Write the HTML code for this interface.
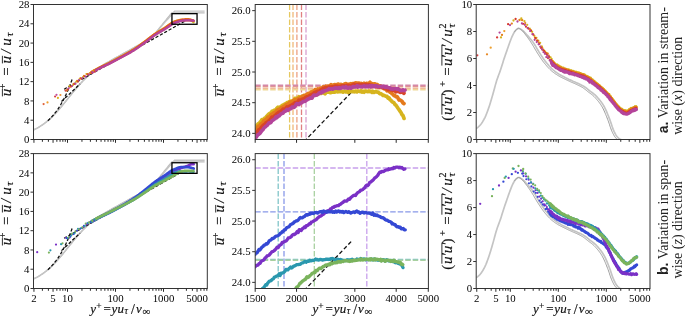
<!DOCTYPE html><html><head><meta charset="utf-8"><style>html,body{margin:0;padding:0;background:#fff;}svg{display:block;transform:translateZ(0)}</style></head><body><svg width="685" height="318" viewBox="0 0 685 318">
<defs>
<clipPath id="cp00"><rect x="33.5" y="4.5" width="173.8" height="135.0"/></clipPath>
<clipPath id="cp01"><rect x="255.2" y="4.5" width="173.2" height="135.0"/></clipPath>
<clipPath id="cp02"><rect x="476.2" y="4.5" width="173.8" height="135.0"/></clipPath>
<clipPath id="cp10"><rect x="33.5" y="153.6" width="173.8" height="134.9"/></clipPath>
<clipPath id="cp11"><rect x="255.2" y="153.6" width="173.2" height="134.9"/></clipPath>
<clipPath id="cp12"><rect x="476.2" y="153.6" width="173.8" height="134.9"/></clipPath>
</defs>
<rect width="685" height="318" fill="#fff"/>
<g opacity="0.999">
<g clip-path="url(#cp00)" fill="none">
<polyline points="32.88,130.21 33.31,130.01 33.74,129.81 34.17,129.61 34.6,129.4 35.03,129.19 35.46,128.98 35.89,128.76 36.32,128.53 36.75,128.3 37.19,128.07 37.62,127.83 38.05,127.59 38.48,127.34 38.91,127.09 39.34,126.84 39.77,126.57 40.2,126.31 40.63,126.04 41.06,125.76 41.49,125.48 41.92,125.19 42.35,124.9 42.78,124.6 43.21,124.3 43.64,123.99 44.07,123.68 44.5,123.36 44.93,123.04 45.36,122.71 45.8,122.37 46.23,122.03 46.66,121.68 47.09,121.33 47.52,120.97 47.95,120.61 48.38,120.24 48.81,119.87 49.24,119.49 49.67,119.1 50.1,118.71 50.53,118.31 50.96,117.91 51.39,117.5 51.82,117.09 52.25,116.67 52.68,116.24 53.11,115.81 53.54,115.38 53.97,114.94 54.41,114.49 54.84,114.04 55.27,113.59 55.7,113.13 56.13,112.66 56.56,112.19 56.99,111.72 57.42,111.24 57.85,110.75 58.28,110.27 58.71,109.77 59.14,109.28 59.57,108.78 60,108.28 60.43,107.77 60.86,107.26 61.29,106.75 61.72,106.23 62.15,105.71 62.59,105.19 63.02,104.66 63.45,104.14 63.88,103.61 64.31,103.08 64.74,102.55 65.17,102.01 65.6,101.48 66.03,100.94 66.46,100.41 66.89,99.87 67.32,99.33 67.75,98.79 68.18,98.25 68.61,97.71 69.04,97.18 69.47,96.64 69.9,96.1 70.33,95.56 70.76,95.03 71.2,94.5 71.63,93.96 72.06,93.43 72.49,92.9 72.92,92.37 73.35,91.85 73.78,91.33 74.21,90.81 74.64,90.29 75.07,89.77 75.5,89.26 75.93,88.75 76.36,88.24 76.79,87.74 77.22,87.24 77.65,86.74 78.08,86.25 78.51,85.76 78.94,85.27 79.37,84.79 79.81,84.31 80.24,83.84 80.67,83.37 81.1,82.9 81.53,82.44 81.96,81.98 82.39,81.52 82.82,81.08 83.25,80.63 83.68,80.19 84.11,79.76 84.54,79.32 84.97,78.9 85.4,78.48 85.83,78.06 86.26,77.65 86.69,77.24 87.12,76.84 87.55,76.44 87.98,76.04 88.42,75.66 88.85,75.27 89.28,74.89 89.71,74.52 90.14,74.15 90.57,73.79 91,73.43 91.43,73.07 91.86,72.72 92.29,72.37 92.72,72.03 93.15,71.7 93.58,71.36 94.01,71.04 94.44,70.71 94.87,70.39 95.3,70.08 95.73,69.77 96.16,69.46 96.6,69.16 97.03,68.86 97.46,68.56 97.89,68.27 98.32,67.98 98.75,67.69 99.18,67.41 99.61,67.13 100.04,66.85 100.47,66.58 100.9,66.31 101.33,66.04 101.76,65.77 102.19,65.51 102.62,65.25 103.05,64.99 103.48,64.73 103.91,64.47 104.34,64.22 104.77,63.97 105.21,63.72 105.64,63.47 106.07,63.22 106.5,62.97 106.93,62.72 107.36,62.48 107.79,62.24 108.22,61.99 108.65,61.75 109.08,61.51 109.51,61.27 109.94,61.03 110.37,60.79 110.8,60.55 111.23,60.31 111.66,60.07 112.09,59.83 112.52,59.59 112.95,59.35 113.38,59.11 113.82,58.87 114.25,58.64 114.68,58.4 115.11,58.16 115.54,57.92 115.97,57.69 116.4,57.45 116.83,57.21 117.26,56.97 117.69,56.73 118.12,56.5 118.55,56.26 118.98,56.02 119.41,55.78 119.84,55.54 120.27,55.3 120.7,55.07 121.13,54.83 121.56,54.59 121.99,54.35 122.43,54.11 122.86,53.87 123.29,53.63 123.72,53.4 124.15,53.16 124.58,52.92 125.01,52.68 125.44,52.44 125.87,52.2 126.3,51.96 126.73,51.72 127.16,51.48 127.59,51.24 128.02,51 128.45,50.76 128.88,50.52 129.31,50.28 129.74,50.04 130.17,49.8 130.6,49.56 131.04,49.32 131.47,49.08 131.9,48.84 132.33,48.6 132.76,48.36 133.19,48.12 133.62,47.88 134.05,47.64 134.48,47.4 134.91,47.16 135.34,46.92 135.77,46.68 136.2,46.44 136.63,46.2 137.06,45.96 137.49,45.72 137.92,45.48 138.35,45.24 138.78,44.99 139.22,44.75 139.65,44.51 140.08,44.27 140.51,44.03 140.94,43.79 141.37,43.55 141.8,43.31 142.23,43.07 142.66,42.82 143.09,42.58 143.52,42.34 143.95,42.1 144.38,41.86 144.81,41.62 145.24,41.38 145.67,41.13 146.1,40.89 146.53,40.65 146.96,40.41 147.39,40.17 147.83,39.93 148.26,39.69 148.69,39.44 149.12,39.2 149.55,38.96 149.98,38.72 150.41,38.48 150.84,38.24 151.27,37.99 151.7,37.56 152.13,37.03 152.56,36.5 152.99,35.97 153.42,35.44 153.85,34.91 154.28,34.38 154.71,33.85 155.14,33.32 155.57,32.79 156,32.26 156.44,31.73 156.87,31.2 157.3,30.67 157.73,30.14 158.16,29.61 158.59,29.08 159.02,28.55 159.45,28.02 159.88,27.49 160.31,26.96 160.74,26.43 161.17,25.9 161.6,25.37 162.03,24.84 162.46,24.31 162.89,23.78 163.32,23.25 163.75,22.72 164.18,22.19 164.61,21.66 165.05,21.13 165.48,20.6 165.91,20.07 166.34,19.54 166.77,19.01 167.2,18.48 167.63,17.95 168.06,17.42 168.49,16.89 168.92,16.36 169.35,15.83 169.78,15.29 170.21,14.76 170.64,14.23 171.07,13.7 171.5,13.17 171.93,12.79 172.36,12.79 172.79,12.79 173.23,12.79 173.66,12.79 174.09,12.79 174.52,12.79 174.95,12.79 175.38,12.79 175.81,12.79 176.24,12.79 176.67,12.79 177.1,12.79 177.53,12.79 177.96,12.79 178.39,12.79 178.82,12.79 179.25,12.79 179.68,12.79 180.11,12.79 180.54,12.79 180.97,12.79 181.4,12.79 181.84,12.79 182.27,12.79 182.7,12.79 183.13,12.79 183.56,12.79 183.99,12.79 184.42,12.79 184.85,12.79 185.28,12.79 185.71,12.79 186.14,12.79 186.57,12.79 187,12.79 187.43,12.79 187.86,12.79 188.29,12.79 188.72,12.79 189.15,12.79 189.58,12.79 190.01,12.79 190.45,12.79 190.88,12.79 191.31,12.79 191.74,12.79 192.17,12.79 192.6,12.79 193.03,12.79 193.46,12.79 193.89,12.79 194.32,12.79 194.75,12.79 195.18,12.79 195.61,12.79 196.04,12.79 196.47,12.79 196.9,12.79 197.33,12.79 197.76,12.79 198.19,12.79 198.62,12.79 199.06,12.79 199.49,12.79 199.92,12.79 200.35,12.79 200.78,12.79 201.21,12.79 201.64,12.79 202.07,12.79 202.5,12.79 202.93,12.79 203.36,12.79 203.79,12.79 204.22,12.79 204.65,12.79" stroke="#bcbcbc" stroke-width="1.3" stroke-linejoin="round"/>
<polyline points="32.88,130.21 33.31,130.01 33.74,129.81 34.17,129.61 34.6,129.4 35.03,129.19 35.46,128.98 35.89,128.76 36.32,128.53 36.75,128.3 37.19,128.07 37.62,127.83 38.05,127.59 38.48,127.34 38.91,127.09 39.34,126.84 39.77,126.57 40.2,126.31 40.63,126.04 41.06,125.76 41.49,125.48 41.92,125.19 42.35,124.9 42.78,124.6 43.21,124.3 43.64,123.99 44.07,123.68 44.5,123.36 44.93,123.04 45.36,122.71 45.8,122.37 46.23,122.03 46.66,121.68 47.09,121.33 47.52,120.97 47.95,120.61 48.38,120.24 48.81,119.87 49.24,119.49 49.67,119.1 50.1,118.71 50.53,118.31 50.96,117.91 51.39,117.5 51.82,117.09 52.25,116.67 52.68,116.24 53.11,115.81 53.54,115.38 53.97,114.94 54.41,114.49 54.84,114.04 55.27,113.59 55.7,113.13 56.13,112.66 56.56,112.19 56.99,111.72 57.42,111.24 57.85,110.75 58.28,110.27 58.71,109.77 59.14,109.28 59.57,108.78 60,108.28 60.43,107.77 60.86,107.26 61.29,106.75 61.72,106.23 62.15,105.71 62.59,105.19 63.02,104.66 63.45,104.14 63.88,103.61 64.31,103.08 64.74,102.55 65.17,102.01 65.6,101.48 66.03,100.94 66.46,100.41 66.89,99.87 67.32,99.33 67.75,98.79 68.18,98.25 68.61,97.71 69.04,97.18 69.47,96.64 69.9,96.1 70.33,95.56 70.76,95.03 71.2,94.5 71.63,93.96 72.06,93.43 72.49,92.9 72.92,92.37 73.35,91.85 73.78,91.33 74.21,90.81 74.64,90.29 75.07,89.77 75.5,89.26 75.93,88.75 76.36,88.24 76.79,87.74 77.22,87.24 77.65,86.74 78.08,86.25 78.51,85.76 78.94,85.27 79.37,84.79 79.81,84.31 80.24,83.84 80.67,83.37 81.1,82.9 81.53,82.44 81.96,81.98 82.39,81.52 82.82,81.08 83.25,80.63 83.68,80.19 84.11,79.76 84.54,79.32 84.97,78.9 85.4,78.48 85.83,78.06 86.26,77.65 86.69,77.24 87.12,76.84 87.55,76.44 87.98,76.04 88.42,75.66 88.85,75.27 89.28,74.89 89.71,74.52 90.14,74.15 90.57,73.79 91,73.43 91.43,73.07 91.86,72.72 92.29,72.37 92.72,72.03 93.15,71.7 93.58,71.36 94.01,71.04 94.44,70.71 94.87,70.39 95.3,70.08 95.73,69.77 96.16,69.46 96.6,69.16 97.03,68.86 97.46,68.56 97.89,68.27 98.32,67.98 98.75,67.69 99.18,67.41 99.61,67.13 100.04,66.85 100.47,66.58 100.9,66.31 101.33,66.04 101.76,65.77 102.19,65.51 102.62,65.25 103.05,64.99 103.48,64.73 103.91,64.47 104.34,64.22 104.77,63.97 105.21,63.72 105.64,63.47 106.07,63.22 106.5,62.97 106.93,62.72 107.36,62.48 107.79,62.24 108.22,61.99 108.65,61.75 109.08,61.51 109.51,61.27 109.94,61.03 110.37,60.79 110.8,60.55 111.23,60.31 111.66,60.07 112.09,59.83 112.52,59.59 112.95,59.35 113.38,59.11 113.82,58.87 114.25,58.64 114.68,58.4 115.11,58.16 115.54,57.92 115.97,57.69 116.4,57.45 116.83,57.21 117.26,56.97 117.69,56.73 118.12,56.5 118.55,56.26 118.98,56.02 119.41,55.78 119.84,55.54 120.27,55.3 120.7,55.07 121.13,54.83 121.56,54.59 121.99,54.35 122.43,54.11 122.86,53.87 123.29,53.63 123.72,53.4 124.15,53.16 124.58,52.92 125.01,52.68 125.44,52.44 125.87,52.2 126.3,51.96 126.73,51.72 127.16,51.48 127.59,51.24 128.02,51 128.45,50.76 128.88,50.52 129.31,50.28 129.74,50.04 130.17,49.8 130.6,49.56 131.04,49.32 131.47,49.08 131.9,48.84 132.33,48.6 132.76,48.36 133.19,48.12 133.62,47.88 134.05,47.64 134.48,47.4 134.91,47.16 135.34,46.92 135.77,46.68 136.2,46.44 136.63,46.2 137.06,45.96 137.49,45.72 137.92,45.48 138.35,45.24 138.78,44.99 139.22,44.75 139.65,44.51 140.08,44.27 140.51,44.03 140.94,43.79 141.37,43.55 141.8,43.31 142.23,43.07 142.66,42.82 143.09,42.58 143.52,42.34 143.95,42.1 144.38,41.86 144.81,41.62 145.24,41.38 145.67,41.13 146.1,40.89 146.53,40.65 146.96,40.41 147.39,40.17 147.83,39.93 148.26,39.69 148.69,39.44 149.12,39.2 149.55,38.96 149.98,38.72 150.41,38.48 150.84,38.24 151.27,37.99 151.7,37.58 152.13,37.08 152.56,36.59 152.99,36.09 153.42,35.59 153.85,35.09 154.28,34.6 154.71,34.1 155.14,33.6 155.57,33.1 156,32.6 156.44,32.11 156.87,31.61 157.3,31.11 157.73,30.61 158.16,30.12 158.59,29.62 159.02,29.12 159.45,28.62 159.88,28.13 160.31,27.63 160.74,27.13 161.17,26.63 161.6,26.14 162.03,25.64 162.46,25.14 162.89,24.64 163.32,24.14 163.75,23.65 164.18,23.15 164.61,22.65 165.05,22.15 165.48,21.66 165.91,21.16 166.34,20.66 166.77,20.16 167.2,19.67 167.63,19.17 168.06,18.67 168.49,18.17 168.92,17.68 169.35,17.18 169.78,16.68 170.21,16.18 170.64,15.68 171.07,15.19 171.5,14.69 171.93,14.19 172.36,13.69 172.79,13.2 173.23,12.7 173.66,12.2 174.09,11.7 174.52,11.21 174.95,11.15 175.38,11.15 175.81,11.15 176.24,11.15 176.67,11.15 177.1,11.15 177.53,11.15 177.96,11.15 178.39,11.15 178.82,11.15 179.25,11.15 179.68,11.15 180.11,11.15 180.54,11.15 180.97,11.15 181.4,11.15 181.84,11.15 182.27,11.15 182.7,11.15 183.13,11.15 183.56,11.15 183.99,11.15 184.42,11.15 184.85,11.15 185.28,11.15 185.71,11.15 186.14,11.15 186.57,11.15 187,11.15 187.43,11.15 187.86,11.15 188.29,11.15 188.72,11.15 189.15,11.15 189.58,11.15 190.01,11.15 190.45,11.15 190.88,11.15 191.31,11.15 191.74,11.15 192.17,11.15 192.6,11.15 193.03,11.15 193.46,11.15 193.89,11.15 194.32,11.15 194.75,11.15 195.18,11.15 195.61,11.15 196.04,11.15 196.47,11.15 196.9,11.15 197.33,11.15 197.76,11.15 198.19,11.15 198.62,11.15 199.06,11.15 199.49,11.15 199.92,11.15 200.35,11.15 200.78,11.15 201.21,11.15 201.64,11.15 202.07,11.15 202.5,11.15 202.93,11.15 203.36,11.15 203.79,11.15 204.22,11.15 204.65,11.15" stroke="#c4c4c4" stroke-width="1.4" stroke-linejoin="round"/>
</g>
<g clip-path="url(#cp10)" fill="none">
<polyline points="32.88,279.22 33.31,279.02 33.74,278.82 34.17,278.62 34.6,278.41 35.03,278.2 35.46,277.98 35.89,277.77 36.32,277.54 36.75,277.31 37.19,277.08 37.62,276.84 38.05,276.6 38.48,276.35 38.91,276.1 39.34,275.85 39.77,275.58 40.2,275.32 40.63,275.05 41.06,274.77 41.49,274.49 41.92,274.2 42.35,273.91 42.78,273.61 43.21,273.31 43.64,273 44.07,272.69 44.5,272.37 44.93,272.05 45.36,271.72 45.8,271.38 46.23,271.04 46.66,270.7 47.09,270.35 47.52,269.99 47.95,269.62 48.38,269.26 48.81,268.88 49.24,268.5 49.67,268.12 50.1,267.73 50.53,267.33 50.96,266.93 51.39,266.52 51.82,266.11 52.25,265.69 52.68,265.26 53.11,264.83 53.54,264.4 53.97,263.96 54.41,263.51 54.84,263.06 55.27,262.61 55.7,262.15 56.13,261.68 56.56,261.21 56.99,260.74 57.42,260.26 57.85,259.78 58.28,259.29 58.71,258.8 59.14,258.3 59.57,257.8 60,257.3 60.43,256.79 60.86,256.28 61.29,255.77 61.72,255.25 62.15,254.74 62.59,254.21 63.02,253.69 63.45,253.16 63.88,252.64 64.31,252.11 64.74,251.57 65.17,251.04 65.6,250.51 66.03,249.97 66.46,249.43 66.89,248.9 67.32,248.36 67.75,247.82 68.18,247.28 68.61,246.74 69.04,246.21 69.47,245.67 69.9,245.13 70.33,244.6 70.76,244.06 71.2,243.53 71.63,243 72.06,242.47 72.49,241.94 72.92,241.41 73.35,240.88 73.78,240.36 74.21,239.84 74.64,239.32 75.07,238.81 75.5,238.3 75.93,237.79 76.36,237.28 76.79,236.78 77.22,236.28 77.65,235.78 78.08,235.29 78.51,234.8 78.94,234.31 79.37,233.83 79.81,233.35 80.24,232.88 80.67,232.41 81.1,231.94 81.53,231.48 81.96,231.02 82.39,230.57 82.82,230.12 83.25,229.67 83.68,229.23 84.11,228.8 84.54,228.37 84.97,227.94 85.4,227.52 85.83,227.1 86.26,226.69 86.69,226.28 87.12,225.88 87.55,225.48 87.98,225.09 88.42,224.7 88.85,224.32 89.28,223.94 89.71,223.57 90.14,223.2 90.57,222.83 91,222.47 91.43,222.12 91.86,221.77 92.29,221.42 92.72,221.08 93.15,220.75 93.58,220.41 94.01,220.09 94.44,219.76 94.87,219.44 95.3,219.13 95.73,218.82 96.16,218.51 96.6,218.21 97.03,217.91 97.46,217.61 97.89,217.32 98.32,217.03 98.75,216.74 99.18,216.46 99.61,216.18 100.04,215.91 100.47,215.63 100.9,215.36 101.33,215.09 101.76,214.83 102.19,214.56 102.62,214.3 103.05,214.04 103.48,213.78 103.91,213.53 104.34,213.28 104.77,213.02 105.21,212.77 105.64,212.52 106.07,212.27 106.5,212.03 106.93,211.78 107.36,211.54 107.79,211.29 108.22,211.05 108.65,210.81 109.08,210.57 109.51,210.32 109.94,210.08 110.37,209.84 110.8,209.6 111.23,209.36 111.66,209.13 112.09,208.89 112.52,208.65 112.95,208.41 113.38,208.17 113.82,207.93 114.25,207.7 114.68,207.46 115.11,207.22 115.54,206.98 115.97,206.75 116.4,206.51 116.83,206.27 117.26,206.03 117.69,205.79 118.12,205.56 118.55,205.32 118.98,205.08 119.41,204.84 119.84,204.61 120.27,204.37 120.7,204.13 121.13,203.89 121.56,203.65 121.99,203.41 122.43,203.18 122.86,202.94 123.29,202.7 123.72,202.46 124.15,202.22 124.58,201.98 125.01,201.74 125.44,201.5 125.87,201.26 126.3,201.03 126.73,200.79 127.16,200.55 127.59,200.31 128.02,200.07 128.45,199.83 128.88,199.59 129.31,199.35 129.74,199.11 130.17,198.87 130.6,198.63 131.04,198.39 131.47,198.15 131.9,197.91 132.33,197.67 132.76,197.43 133.19,197.19 133.62,196.95 134.05,196.71 134.48,196.47 134.91,196.23 135.34,195.99 135.77,195.75 136.2,195.51 136.63,195.27 137.06,195.03 137.49,194.79 137.92,194.55 138.35,194.3 138.78,194.06 139.22,193.82 139.65,193.58 140.08,193.34 140.51,193.1 140.94,192.86 141.37,192.62 141.8,192.38 142.23,192.14 142.66,191.9 143.09,191.65 143.52,191.41 143.95,191.17 144.38,190.93 144.81,190.69 145.24,190.45 145.67,190.21 146.1,189.97 146.53,189.72 146.96,189.48 147.39,189.24 147.83,189 148.26,188.76 148.69,188.52 149.12,188.28 149.55,188.03 149.98,187.79 150.41,187.55 150.84,187.31 151.27,187.07 151.7,186.64 152.13,186.11 152.56,185.58 152.99,185.05 153.42,184.52 153.85,183.99 154.28,183.46 154.71,182.93 155.14,182.4 155.57,181.87 156,181.34 156.44,180.81 156.87,180.28 157.3,179.75 157.73,179.22 158.16,178.69 158.59,178.16 159.02,177.63 159.45,177.1 159.88,176.57 160.31,176.04 160.74,175.51 161.17,174.98 161.6,174.45 162.03,173.92 162.46,173.39 162.89,172.86 163.32,172.33 163.75,171.8 164.18,171.27 164.61,170.74 165.05,170.21 165.48,169.68 165.91,169.15 166.34,168.62 166.77,168.09 167.2,167.57 167.63,167.04 168.06,166.51 168.49,165.98 168.92,165.45 169.35,164.92 169.78,164.39 170.21,163.86 170.64,163.33 171.07,162.8 171.5,162.27 171.93,161.89 172.36,161.89 172.79,161.89 173.23,161.89 173.66,161.89 174.09,161.89 174.52,161.89 174.95,161.89 175.38,161.89 175.81,161.89 176.24,161.89 176.67,161.89 177.1,161.89 177.53,161.89 177.96,161.89 178.39,161.89 178.82,161.89 179.25,161.89 179.68,161.89 180.11,161.89 180.54,161.89 180.97,161.89 181.4,161.89 181.84,161.89 182.27,161.89 182.7,161.89 183.13,161.89 183.56,161.89 183.99,161.89 184.42,161.89 184.85,161.89 185.28,161.89 185.71,161.89 186.14,161.89 186.57,161.89 187,161.89 187.43,161.89 187.86,161.89 188.29,161.89 188.72,161.89 189.15,161.89 189.58,161.89 190.01,161.89 190.45,161.89 190.88,161.89 191.31,161.89 191.74,161.89 192.17,161.89 192.6,161.89 193.03,161.89 193.46,161.89 193.89,161.89 194.32,161.89 194.75,161.89 195.18,161.89 195.61,161.89 196.04,161.89 196.47,161.89 196.9,161.89 197.33,161.89 197.76,161.89 198.19,161.89 198.62,161.89 199.06,161.89 199.49,161.89 199.92,161.89 200.35,161.89 200.78,161.89 201.21,161.89 201.64,161.89 202.07,161.89 202.5,161.89 202.93,161.89 203.36,161.89 203.79,161.89 204.22,161.89 204.65,161.89" stroke="#bcbcbc" stroke-width="1.3" stroke-linejoin="round"/>
<polyline points="32.88,279.22 33.31,279.02 33.74,278.82 34.17,278.62 34.6,278.41 35.03,278.2 35.46,277.98 35.89,277.77 36.32,277.54 36.75,277.31 37.19,277.08 37.62,276.84 38.05,276.6 38.48,276.35 38.91,276.1 39.34,275.85 39.77,275.58 40.2,275.32 40.63,275.05 41.06,274.77 41.49,274.49 41.92,274.2 42.35,273.91 42.78,273.61 43.21,273.31 43.64,273 44.07,272.69 44.5,272.37 44.93,272.05 45.36,271.72 45.8,271.38 46.23,271.04 46.66,270.7 47.09,270.35 47.52,269.99 47.95,269.62 48.38,269.26 48.81,268.88 49.24,268.5 49.67,268.12 50.1,267.73 50.53,267.33 50.96,266.93 51.39,266.52 51.82,266.11 52.25,265.69 52.68,265.26 53.11,264.83 53.54,264.4 53.97,263.96 54.41,263.51 54.84,263.06 55.27,262.61 55.7,262.15 56.13,261.68 56.56,261.21 56.99,260.74 57.42,260.26 57.85,259.78 58.28,259.29 58.71,258.8 59.14,258.3 59.57,257.8 60,257.3 60.43,256.79 60.86,256.28 61.29,255.77 61.72,255.25 62.15,254.74 62.59,254.21 63.02,253.69 63.45,253.16 63.88,252.64 64.31,252.11 64.74,251.57 65.17,251.04 65.6,250.51 66.03,249.97 66.46,249.43 66.89,248.9 67.32,248.36 67.75,247.82 68.18,247.28 68.61,246.74 69.04,246.21 69.47,245.67 69.9,245.13 70.33,244.6 70.76,244.06 71.2,243.53 71.63,243 72.06,242.47 72.49,241.94 72.92,241.41 73.35,240.88 73.78,240.36 74.21,239.84 74.64,239.32 75.07,238.81 75.5,238.3 75.93,237.79 76.36,237.28 76.79,236.78 77.22,236.28 77.65,235.78 78.08,235.29 78.51,234.8 78.94,234.31 79.37,233.83 79.81,233.35 80.24,232.88 80.67,232.41 81.1,231.94 81.53,231.48 81.96,231.02 82.39,230.57 82.82,230.12 83.25,229.67 83.68,229.23 84.11,228.8 84.54,228.37 84.97,227.94 85.4,227.52 85.83,227.1 86.26,226.69 86.69,226.28 87.12,225.88 87.55,225.48 87.98,225.09 88.42,224.7 88.85,224.32 89.28,223.94 89.71,223.57 90.14,223.2 90.57,222.83 91,222.47 91.43,222.12 91.86,221.77 92.29,221.42 92.72,221.08 93.15,220.75 93.58,220.41 94.01,220.09 94.44,219.76 94.87,219.44 95.3,219.13 95.73,218.82 96.16,218.51 96.6,218.21 97.03,217.91 97.46,217.61 97.89,217.32 98.32,217.03 98.75,216.74 99.18,216.46 99.61,216.18 100.04,215.91 100.47,215.63 100.9,215.36 101.33,215.09 101.76,214.83 102.19,214.56 102.62,214.3 103.05,214.04 103.48,213.78 103.91,213.53 104.34,213.28 104.77,213.02 105.21,212.77 105.64,212.52 106.07,212.27 106.5,212.03 106.93,211.78 107.36,211.54 107.79,211.29 108.22,211.05 108.65,210.81 109.08,210.57 109.51,210.32 109.94,210.08 110.37,209.84 110.8,209.6 111.23,209.36 111.66,209.13 112.09,208.89 112.52,208.65 112.95,208.41 113.38,208.17 113.82,207.93 114.25,207.7 114.68,207.46 115.11,207.22 115.54,206.98 115.97,206.75 116.4,206.51 116.83,206.27 117.26,206.03 117.69,205.79 118.12,205.56 118.55,205.32 118.98,205.08 119.41,204.84 119.84,204.61 120.27,204.37 120.7,204.13 121.13,203.89 121.56,203.65 121.99,203.41 122.43,203.18 122.86,202.94 123.29,202.7 123.72,202.46 124.15,202.22 124.58,201.98 125.01,201.74 125.44,201.5 125.87,201.26 126.3,201.03 126.73,200.79 127.16,200.55 127.59,200.31 128.02,200.07 128.45,199.83 128.88,199.59 129.31,199.35 129.74,199.11 130.17,198.87 130.6,198.63 131.04,198.39 131.47,198.15 131.9,197.91 132.33,197.67 132.76,197.43 133.19,197.19 133.62,196.95 134.05,196.71 134.48,196.47 134.91,196.23 135.34,195.99 135.77,195.75 136.2,195.51 136.63,195.27 137.06,195.03 137.49,194.79 137.92,194.55 138.35,194.3 138.78,194.06 139.22,193.82 139.65,193.58 140.08,193.34 140.51,193.1 140.94,192.86 141.37,192.62 141.8,192.38 142.23,192.14 142.66,191.9 143.09,191.65 143.52,191.41 143.95,191.17 144.38,190.93 144.81,190.69 145.24,190.45 145.67,190.21 146.1,189.97 146.53,189.72 146.96,189.48 147.39,189.24 147.83,189 148.26,188.76 148.69,188.52 149.12,188.28 149.55,188.03 149.98,187.79 150.41,187.55 150.84,187.31 151.27,187.07 151.7,186.66 152.13,186.16 152.56,185.66 152.99,185.16 153.42,184.67 153.85,184.17 154.28,183.67 154.71,183.18 155.14,182.68 155.57,182.18 156,181.68 156.44,181.19 156.87,180.69 157.3,180.19 157.73,179.69 158.16,179.2 158.59,178.7 159.02,178.2 159.45,177.71 159.88,177.21 160.31,176.71 160.74,176.21 161.17,175.72 161.6,175.22 162.03,174.72 162.46,174.22 162.89,173.73 163.32,173.23 163.75,172.73 164.18,172.24 164.61,171.74 165.05,171.24 165.48,170.74 165.91,170.25 166.34,169.75 166.77,169.25 167.2,168.75 167.63,168.26 168.06,167.76 168.49,167.26 168.92,166.77 169.35,166.27 169.78,165.77 170.21,165.27 170.64,164.78 171.07,164.28 171.5,163.78 171.93,163.28 172.36,162.79 172.79,162.29 173.23,161.79 173.66,161.3 174.09,160.8 174.52,160.3 174.95,160.25 175.38,160.25 175.81,160.25 176.24,160.25 176.67,160.25 177.1,160.25 177.53,160.25 177.96,160.25 178.39,160.25 178.82,160.25 179.25,160.25 179.68,160.25 180.11,160.25 180.54,160.25 180.97,160.25 181.4,160.25 181.84,160.25 182.27,160.25 182.7,160.25 183.13,160.25 183.56,160.25 183.99,160.25 184.42,160.25 184.85,160.25 185.28,160.25 185.71,160.25 186.14,160.25 186.57,160.25 187,160.25 187.43,160.25 187.86,160.25 188.29,160.25 188.72,160.25 189.15,160.25 189.58,160.25 190.01,160.25 190.45,160.25 190.88,160.25 191.31,160.25 191.74,160.25 192.17,160.25 192.6,160.25 193.03,160.25 193.46,160.25 193.89,160.25 194.32,160.25 194.75,160.25 195.18,160.25 195.61,160.25 196.04,160.25 196.47,160.25 196.9,160.25 197.33,160.25 197.76,160.25 198.19,160.25 198.62,160.25 199.06,160.25 199.49,160.25 199.92,160.25 200.35,160.25 200.78,160.25 201.21,160.25 201.64,160.25 202.07,160.25 202.5,160.25 202.93,160.25 203.36,160.25 203.79,160.25 204.22,160.25 204.65,160.25" stroke="#c4c4c4" stroke-width="1.4" stroke-linejoin="round"/>
</g>
<g clip-path="url(#cp00)" fill="none">
<polyline points="47.87,120.7 49.4,119.27 50.82,117.84 52.15,116.41 53.41,114.98 54.59,113.55 55.71,112.12 56.77,110.69 57.78,109.26 58.74,107.83 59.66,106.4 60.54,104.97 61.39,103.54 62.2,102.11 62.98,100.68 63.74,99.25 64.46,97.82 65.17,96.39 65.85,94.96 66.51,93.53 67.14,92.1 67.76,90.67 68.37,89.24 68.95,87.81 69.52,86.38 70.07,84.95 70.61,83.52 71.14,82.09 71.65,80.66 72.15,79.23" stroke="#111" stroke-width="1.3" stroke-dasharray="3.2,1.8"/>
<line x1="61.5" y1="101.5" x2="80" y2="84" stroke="#111" stroke-width="1.3" stroke-dasharray="3.2,1.8"/>
<polyline points="64.11,89.26 66.18,88.1 68.25,86.93 70.31,85.76 72.38,84.6 74.45,83.43 76.51,82.27 78.58,81.1 80.65,79.94 82.71,78.77 84.78,77.6 86.85,76.44 88.91,75.27 90.98,74.11 93.05,72.94 95.11,71.77 97.18,70.61 99.25,69.44 101.31,68.28 103.38,67.11 105.45,65.94 107.51,64.78 109.58,63.61 111.65,62.45 113.71,61.28 115.78,60.11 117.85,58.95 119.91,57.78 121.98,56.62 124.05,55.45 126.12,54.29 128.18,53.12 130.25,51.95 132.32,50.79 134.38,49.62 136.45,48.46 138.52,47.29 140.58,46.12 142.65,44.96 144.72,43.79 146.78,42.63 148.85,41.46 150.92,40.29 152.98,39.13 155.05,37.96 157.12,36.8 159.18,35.63 161.25,34.47 163.32,33.3 165.38,32.13 167.45,30.97 169.52,29.8 171.58,28.64 173.65,27.47 175.72,26.3 177.78,25.14 179.85,23.97 181.92,22.81 183.98,21.64 186.05,20.47" stroke="#111" stroke-width="1.2" stroke-dasharray="3.2,1.8"/>
<polyline points="91.75,72 92.21,71.74 92.68,71.48 93.14,71.22 93.61,70.96 94.07,70.7 94.54,70.44 95,70.18 95.47,69.92 95.93,69.66 96.39,69.41 96.86,69.15 97.32,68.9 97.79,68.65 98.25,68.4 98.72,68.16 99.18,67.91 99.65,67.67 100.11,67.43 100.58,67.2 101.04,66.97 101.51,66.75 101.97,66.52 102.44,66.3 102.9,66.08 103.37,65.87 103.83,65.65 104.3,65.43 104.76,65.22 105.23,65 105.69,64.79 106.15,64.57 106.62,64.35 107.08,64.12 107.55,63.9 108.01,63.67 108.48,63.44 108.94,63.2 109.41,62.97 109.87,62.73 110.34,62.49 110.8,62.25 111.27,62.01 111.73,61.77 112.2,61.53 112.66,61.28 113.13,61.04 113.59,60.79 114.06,60.55 114.52,60.3 114.99,60.06 115.45,59.81 115.91,59.57 116.38,59.33 116.84,59.08 117.31,58.84 117.77,58.59 118.24,58.35 118.7,58.1 119.17,57.86 119.63,57.61 120.1,57.37 120.56,57.12 121.03,56.87 121.49,56.62 121.96,56.37 122.42,56.12 122.89,55.86 123.35,55.61 123.82,55.35 124.28,55.09 124.75,54.83 125.21,54.57 125.68,54.31 126.14,54.04 126.6,53.78 127.07,53.52 127.53,53.25 128,52.99 128.46,52.72 128.93,52.46 129.39,52.19 129.86,51.91 130.32,51.64 130.79,51.37 131.25,51.09 131.72,50.81 132.18,50.53 132.65,50.24 133.11,49.95 133.58,49.66 134.04,49.37 134.51,49.07 134.97,48.77 135.44,48.47 135.9,48.16 136.36,47.85 136.83,47.53 137.29,47.21 137.76,46.88 138.22,46.55 138.69,46.22 139.15,45.88 139.62,45.54 140.08,45.2 140.55,44.86 141.01,44.52 141.48,44.17 141.94,43.83 142.41,43.48 142.87,43.13 143.34,42.79 143.8,42.44 144.27,42.1 144.73,41.75 145.2,41.41 145.66,41.06 146.12,40.71 146.59,40.36 147.05,40 147.52,39.64 147.98,39.28 148.45,38.91 148.91,38.55 149.38,38.19 149.84,37.82 150.31,37.46 150.77,37.1 151.24,36.74 151.7,36.39 152.17,36.03 152.63,35.68 153.1,35.34 153.56,35 154.03,34.67 154.49,34.34 154.96,34.02 155.42,33.71 155.88,33.4 156.35,33.1 156.81,32.8 157.28,32.51 157.74,32.22 158.21,31.94 158.67,31.66 159.14,31.38 159.6,31.1 160.07,30.82 160.53,30.55 161,30.27 161.46,29.99 161.93,29.72 162.39,29.44 162.86,29.15 163.32,28.86 163.79,28.57 164.25,28.28 164.72,27.98 165.18,27.67 165.64,27.35 166.11,27.03 166.57,26.7 167.04,26.36 167.5,26.02 167.97,25.67 168.43,25.33 168.9,24.99 169.36,24.65 169.83,24.32 170.29,23.99 170.76,23.67 171.22,23.36 171.69,23.07 172.15,22.79 172.62,22.53 173.08,22.29 173.55,22.07 174.01,21.86 174.48,21.68 174.94,21.5 175.4,21.34 175.87,21.2 176.33,21.06 176.8,20.93 177.26,20.81 177.73,20.71 178.19,20.61 178.66,20.54 179.12,20.47 179.59,20.41 180.05,20.36 180.52,20.32 180.98,20.28 181.45,20.24 181.91,20.21 182.38,20.18 182.84,20.16 183.31,20.14 183.77,20.13 184.24,20.12 184.7,20.11 185.16,20.1 185.63,20.09 186.09,20.08 186.56,20.08 187.02,20.07 187.49,20.07 187.95,20.08 188.42,20.09 188.88,20.11 189.35,20.14 189.81,20.19 190.28,20.28 190.74,20.42 191.21,20.59 191.67,20.8 192.14,21.05 192.6,21.37 193.07,21.73 193.53,22.13" stroke="#d6b41e" stroke-width="2.4" stroke-linejoin="round" stroke-linecap="round"/>
<polyline points="91.75,71.8 92.21,71.54 92.68,71.28 93.14,71.02 93.61,70.76 94.07,70.5 94.54,70.24 95,69.98 95.47,69.72 95.93,69.46 96.39,69.21 96.86,68.95 97.32,68.7 97.79,68.45 98.25,68.2 98.72,67.96 99.18,67.71 99.65,67.47 100.11,67.23 100.58,67 101.04,66.77 101.51,66.55 101.97,66.32 102.44,66.1 102.9,65.88 103.37,65.67 103.83,65.45 104.3,65.23 104.76,65.02 105.23,64.8 105.69,64.59 106.15,64.37 106.62,64.15 107.08,63.92 107.55,63.7 108.01,63.47 108.48,63.24 108.94,63 109.41,62.77 109.87,62.53 110.34,62.29 110.8,62.05 111.27,61.81 111.73,61.57 112.2,61.33 112.66,61.08 113.13,60.84 113.59,60.59 114.06,60.35 114.52,60.1 114.99,59.86 115.45,59.61 115.91,59.37 116.38,59.13 116.84,58.88 117.31,58.64 117.77,58.4 118.24,58.15 118.7,57.91 119.17,57.66 119.63,57.42 120.1,57.17 120.56,56.93 121.03,56.68 121.49,56.43 121.96,56.18 122.42,55.93 122.89,55.68 123.35,55.42 123.82,55.16 124.28,54.9 124.75,54.65 125.21,54.39 125.68,54.13 126.14,53.87 126.6,53.6 127.07,53.34 127.53,53.08 128,52.82 128.46,52.55 128.93,52.28 129.39,52.02 129.86,51.75 130.32,51.47 130.79,51.2 131.25,50.93 131.72,50.65 132.18,50.37 132.65,50.08 133.11,49.8 133.58,49.51 134.04,49.22 134.51,48.92 134.97,48.62 135.44,48.32 135.9,48.01 136.36,47.7 136.83,47.38 137.29,47.06 137.76,46.74 138.22,46.41 138.69,46.08 139.15,45.74 139.62,45.41 140.08,45.07 140.55,44.73 141.01,44.39 141.48,44.04 141.94,43.7 142.41,43.35 142.87,43.01 143.34,42.66 143.8,42.32 144.27,41.98 144.73,41.63 145.2,41.29 145.66,40.95 146.12,40.6 146.59,40.24 147.05,39.89 147.52,39.53 147.98,39.17 148.45,38.81 148.91,38.45 149.38,38.08 149.84,37.72 150.31,37.36 150.77,37 151.24,36.65 151.7,36.29 152.17,35.94 152.63,35.6 153.1,35.25 153.56,34.92 154.03,34.58 154.49,34.26 154.96,33.94 155.42,33.63 155.88,33.32 156.35,33.02 156.81,32.73 157.28,32.44 157.74,32.15 158.21,31.87 158.67,31.59 159.14,31.31 159.6,31.04 160.07,30.76 160.53,30.49 161,30.21 161.46,29.94 161.93,29.66 162.39,29.38 162.86,29.1 163.32,28.82 163.79,28.53 164.25,28.24 164.72,27.94 165.18,27.63 165.64,27.32 166.11,27 166.57,26.68 167.04,26.35 167.5,26.01 167.97,25.68 168.43,25.34 168.9,25 169.36,24.67 169.83,24.34 170.29,24.02 170.76,23.71 171.22,23.4 171.69,23.11 172.15,22.82 172.62,22.56 173.08,22.31 173.55,22.08 174.01,21.86 174.48,21.66 174.94,21.47 175.4,21.3 175.87,21.13 176.33,20.98 176.8,20.83 177.26,20.69 177.73,20.56 178.19,20.44 178.66,20.31 179.12,20.18 179.59,20.06 180.05,19.94 180.52,19.84 180.98,19.74 181.45,19.65 181.91,19.56 182.38,19.5 182.84,19.45 183.31,19.41 183.77,19.38 184.24,19.36 184.7,19.34 185.16,19.32 185.63,19.31 186.09,19.29 186.56,19.28 187.02,19.27 187.49,19.27 187.95,19.27 188.42,19.28 188.88,19.3 189.35,19.34 189.81,19.41 190.28,19.51 190.74,19.65 191.21,19.81 191.67,20 192.14,20.2 192.6,20.41 193.07,20.64 193.53,20.87" stroke="#e47a1c" stroke-width="2.4" stroke-linejoin="round" stroke-linecap="round"/>
<polyline points="91.75,72.4 92.21,72.14 92.68,71.88 93.14,71.62 93.61,71.36 94.07,71.1 94.54,70.84 95,70.58 95.47,70.32 95.93,70.06 96.39,69.81 96.86,69.55 97.32,69.3 97.79,69.05 98.25,68.8 98.72,68.56 99.18,68.31 99.65,68.07 100.11,67.83 100.58,67.6 101.04,67.37 101.51,67.15 101.97,66.92 102.44,66.7 102.9,66.48 103.37,66.27 103.83,66.05 104.3,65.83 104.76,65.62 105.23,65.4 105.69,65.19 106.15,64.97 106.62,64.75 107.08,64.52 107.55,64.3 108.01,64.07 108.48,63.84 108.94,63.6 109.41,63.37 109.87,63.13 110.34,62.89 110.8,62.65 111.27,62.41 111.73,62.17 112.2,61.92 112.66,61.68 113.13,61.44 113.59,61.19 114.06,60.95 114.52,60.7 114.99,60.46 115.45,60.21 115.91,59.97 116.38,59.73 116.84,59.48 117.31,59.24 117.77,59 118.24,58.76 118.7,58.51 119.17,58.27 119.63,58.03 120.1,57.78 120.56,57.54 121.03,57.29 121.49,57.04 121.96,56.79 122.42,56.54 122.89,56.29 123.35,56.04 123.82,55.78 124.28,55.52 124.75,55.26 125.21,55.01 125.68,54.75 126.14,54.49 126.6,54.23 127.07,53.97 127.53,53.71 128,53.44 128.46,53.18 128.93,52.91 129.39,52.65 129.86,52.38 130.32,52.11 130.79,51.84 131.25,51.56 131.72,51.29 132.18,51.01 132.65,50.72 133.11,50.44 133.58,50.15 134.04,49.86 134.51,49.57 134.97,49.27 135.44,48.97 135.9,48.66 136.36,48.35 136.83,48.04 137.29,47.72 137.76,47.4 138.22,47.07 138.69,46.74 139.15,46.41 139.62,46.07 140.08,45.73 140.55,45.4 141.01,45.06 141.48,44.71 141.94,44.37 142.41,44.03 142.87,43.68 143.34,43.34 143.8,43 144.27,42.66 144.73,42.32 145.2,41.98 145.66,41.63 146.12,41.28 146.59,40.93 147.05,40.58 147.52,40.22 147.98,39.86 148.45,39.5 148.91,39.14 149.38,38.78 149.84,38.42 150.31,38.07 150.77,37.71 151.24,37.35 151.7,37 152.17,36.65 152.63,36.31 153.1,35.97 153.56,35.63 154.03,35.3 154.49,34.98 154.96,34.66 155.42,34.35 155.88,34.05 156.35,33.75 156.81,33.46 157.28,33.17 157.74,32.88 158.21,32.6 158.67,32.32 159.14,32.05 159.6,31.77 160.07,31.5 160.53,31.22 161,30.95 161.46,30.68 161.93,30.4 162.39,30.13 162.86,29.85 163.32,29.57 163.79,29.28 164.25,28.99 164.72,28.7 165.18,28.4 165.64,28.09 166.11,27.78 166.57,27.46 167.04,27.14 167.5,26.81 167.97,26.48 168.43,26.16 168.9,25.83 169.36,25.51 169.83,25.19 170.29,24.88 170.76,24.57 171.22,24.27 171.69,23.98 172.15,23.7 172.62,23.44 173.08,23.19 173.55,22.96 174.01,22.74 174.48,22.53 174.94,22.33 175.4,22.15 175.87,21.97 176.33,21.81 176.8,21.67 177.26,21.53 177.73,21.4 178.19,21.27 178.66,21.14 179.12,21.01 179.59,20.88 180.05,20.76 180.52,20.64 180.98,20.53 181.45,20.41 181.91,20.3 182.38,20.22 182.84,20.15 183.31,20.12 183.77,20.09 184.24,20.07 184.7,20.05 185.16,20.03 185.63,20.02 186.09,20 186.56,19.99 187.02,19.99 187.49,19.99 187.95,19.99 188.42,20 188.88,20.02 189.35,20.04 189.81,20.09 190.28,20.15 190.74,20.22 191.21,20.29 191.67,20.36 192.14,20.43 192.6,20.49 193.07,20.55 193.53,20.6" stroke="#d8452a" stroke-width="2.4" stroke-linejoin="round" stroke-linecap="round"/>
<polyline points="91.75,72.65 92.21,72.39 92.68,72.13 93.14,71.87 93.61,71.61 94.07,71.34 94.54,71.09 95.01,70.83 95.47,70.57 95.94,70.31 96.4,70.05 96.87,69.8 97.33,69.55 97.8,69.3 98.26,69.05 98.73,68.8 99.19,68.56 99.66,68.32 100.12,68.08 100.59,67.85 101.06,67.62 101.52,67.39 101.99,67.17 102.45,66.95 102.92,66.73 103.38,66.51 103.85,66.29 104.31,66.08 104.78,65.86 105.24,65.64 105.71,65.43 106.18,65.21 106.64,64.99 107.11,64.76 107.57,64.54 108.04,64.31 108.5,64.08 108.97,63.84 109.43,63.6 109.9,63.37 110.36,63.13 110.83,62.89 111.3,62.64 111.76,62.4 112.23,62.16 112.69,61.91 113.16,61.67 113.62,61.42 114.09,61.18 114.55,60.93 115.02,60.69 115.48,60.45 115.95,60.2 116.41,59.96 116.88,59.72 117.35,59.48 117.81,59.23 118.28,58.99 118.74,58.75 119.21,58.51 119.67,58.27 120.14,58.02 120.6,57.78 121.07,57.53 121.53,57.29 122,57.04 122.47,56.79 122.93,56.54 123.4,56.28 123.86,56.03 124.33,55.77 124.79,55.51 125.26,55.26 125.72,55 126.19,54.74 126.65,54.49 127.12,54.23 127.59,53.97 128.05,53.7 128.52,53.44 128.98,53.18 129.45,52.91 129.91,52.65 130.38,52.38 130.84,52.11 131.31,51.83 131.77,51.56 132.24,51.28 132.7,51 133.17,50.72 133.64,50.43 134.1,50.14 134.57,49.85 135.03,49.55 135.5,49.25 135.96,48.95 136.43,48.64 136.89,48.33 137.36,48.01 137.82,47.69 138.29,47.36 138.76,47.03 139.22,46.7 139.69,46.37 140.15,46.03 140.62,45.7 141.08,45.36 141.55,45.02 142.01,44.68 142.48,44.34 142.94,43.99 143.41,43.65 143.87,43.31 144.34,42.97 144.81,42.63 145.27,42.3 145.74,41.95 146.2,41.61 146.67,41.26 147.13,40.9 147.6,40.55 148.06,40.19 148.53,39.84 148.99,39.48 149.46,39.12 149.93,38.76 150.39,38.41 150.86,38.05 151.32,37.7 151.79,37.35 152.25,37 152.72,36.66 153.18,36.32 153.65,35.99 154.11,35.67 154.58,35.35 155.05,35.03 155.51,34.73 155.98,34.43 156.44,34.13 156.91,33.84 157.37,33.55 157.84,33.27 158.3,32.99 158.77,32.71 159.23,32.44 159.7,32.17 160.16,31.9 160.63,31.62 161.1,31.35 161.56,31.08 162.03,30.81 162.49,30.54 162.96,30.26 163.42,29.98 163.89,29.7 164.35,29.41 164.82,29.12 165.28,28.83 165.75,28.53 166.22,28.23 166.68,27.92 167.15,27.62 167.61,27.31 168.08,27 168.54,26.69 169.01,26.38 169.47,26.07 169.94,25.76 170.4,25.45 170.87,25.14 171.34,24.84 171.8,24.53 172.27,24.23 172.73,23.93 173.2,23.66 173.66,23.4 174.13,23.17 174.59,22.96 175.06,22.76 175.52,22.58 175.99,22.41 176.45,22.26 176.92,22.12 177.39,21.99 177.85,21.86 178.32,21.73 178.78,21.59 179.25,21.45 179.71,21.32 180.18,21.18 180.64,21.05 181.11,20.93 181.57,20.79 182.04,20.67 182.51,20.59 182.97,20.54 183.44,20.51 183.9,20.48 184.37,20.46 184.83,20.45 185.3,20.43 185.76,20.41 186.23,20.39 186.69,20.38 187.16,20.36 187.63,20.35 188.09,20.33 188.56,20.32 189.02,20.33 189.49,20.33 189.95,20.35 190.42,20.37 190.88,20.41 191.35,20.46 191.81,20.5 192.28,20.55 192.74,20.59 193.21,20.64 193.68,20.68" stroke="#b4449a" stroke-width="2.4" stroke-linejoin="round" stroke-linecap="round"/>
<circle cx="66" cy="90.45" r="1.05" fill="#d6b41e"/>
<circle cx="69.4" cy="86.11" r="1.05" fill="#d6b41e"/>
<circle cx="72.8" cy="85.19" r="1.05" fill="#d6b41e"/>
<circle cx="76.2" cy="81.74" r="1.05" fill="#d6b41e"/>
<circle cx="79.6" cy="79.01" r="1.05" fill="#d6b41e"/>
<circle cx="83" cy="76.99" r="1.05" fill="#d6b41e"/>
<circle cx="86.4" cy="74.07" r="1.05" fill="#d6b41e"/>
<circle cx="89.8" cy="72.99" r="1.05" fill="#d6b41e"/>
<circle cx="93.2" cy="70.75" r="1.05" fill="#d6b41e"/>
<circle cx="66.9" cy="90.39" r="1.05" fill="#e47a1c"/>
<circle cx="70.3" cy="86.69" r="1.05" fill="#e47a1c"/>
<circle cx="73.7" cy="83.9" r="1.05" fill="#e47a1c"/>
<circle cx="77.1" cy="80.86" r="1.05" fill="#e47a1c"/>
<circle cx="80.5" cy="78.1" r="1.05" fill="#e47a1c"/>
<circle cx="83.9" cy="75.84" r="1.05" fill="#e47a1c"/>
<circle cx="87.3" cy="74.15" r="1.05" fill="#e47a1c"/>
<circle cx="90.7" cy="72.63" r="1.05" fill="#e47a1c"/>
<circle cx="94.1" cy="70.36" r="1.05" fill="#e47a1c"/>
<circle cx="67.8" cy="89.28" r="1.05" fill="#d8452a"/>
<circle cx="71.2" cy="86.45" r="1.05" fill="#d8452a"/>
<circle cx="74.6" cy="83.91" r="1.05" fill="#d8452a"/>
<circle cx="78" cy="81.6" r="1.05" fill="#d8452a"/>
<circle cx="81.4" cy="78.74" r="1.05" fill="#d8452a"/>
<circle cx="84.8" cy="76.18" r="1.05" fill="#d8452a"/>
<circle cx="88.2" cy="74.33" r="1.05" fill="#d8452a"/>
<circle cx="91.6" cy="72.75" r="1.05" fill="#d8452a"/>
<circle cx="95" cy="71.55" r="1.05" fill="#d8452a"/>
<circle cx="68.7" cy="88.35" r="1.05" fill="#b4449a"/>
<circle cx="72.1" cy="86.03" r="1.05" fill="#b4449a"/>
<circle cx="75.5" cy="83.82" r="1.05" fill="#b4449a"/>
<circle cx="78.9" cy="79.93" r="1.05" fill="#b4449a"/>
<circle cx="82.3" cy="78.02" r="1.05" fill="#b4449a"/>
<circle cx="85.7" cy="76.58" r="1.05" fill="#b4449a"/>
<circle cx="89.1" cy="74.44" r="1.05" fill="#b4449a"/>
<circle cx="92.5" cy="72.27" r="1.05" fill="#b4449a"/>
<circle cx="95.9" cy="70.66" r="1.05" fill="#b4449a"/>
<circle cx="43.6" cy="104.1" r="1.1" fill="#e0643a"/>
<circle cx="47.5" cy="102.4" r="1.1" fill="#eea030"/>
<circle cx="55.1" cy="96.5" r="1.1" fill="#d84040"/>
<circle cx="56.5" cy="94.8" r="1.1" fill="#c050a0"/>
<circle cx="57.9" cy="97.9" r="1.1" fill="#dcb420"/>
<circle cx="60.4" cy="95.0" r="1.1" fill="#ee9030"/>
<circle cx="65.5" cy="90.6" r="1.1" fill="#d24a50"/>
</g>
<rect x="171.95" y="13.66" width="25.1" height="10.61" fill="none" stroke="#000" stroke-width="1.3"/>
<g clip-path="url(#cp10)" fill="none">
<polyline points="47.87,269.71 49.4,268.28 50.82,266.85 52.15,265.42 53.41,264 54.59,262.57 55.71,261.14 56.77,259.71 57.78,258.28 58.74,256.85 59.66,255.42 60.54,253.99 61.39,252.57 62.2,251.14 62.98,249.71 63.74,248.28 64.46,246.85 65.17,245.42 65.85,243.99 66.51,242.56 67.14,241.14 67.76,239.71 68.37,238.28 68.95,236.85 69.52,235.42 70.07,233.99 70.61,232.56 71.14,231.13 71.65,229.71 72.15,228.28" stroke="#111" stroke-width="1.3" stroke-dasharray="3.2,1.8"/>
<line x1="61.5" y1="250.6" x2="80" y2="233.1" stroke="#111" stroke-width="1.3" stroke-dasharray="3.2,1.8"/>
<polyline points="64.11,238.3 66.18,237.13 68.25,235.97 70.31,234.8 72.38,233.64 74.45,232.47 76.51,231.31 78.58,230.14 80.65,228.98 82.71,227.81 84.78,226.65 86.85,225.48 88.91,224.32 90.98,223.15 93.05,221.99 95.11,220.82 97.18,219.66 99.25,218.49 101.31,217.33 103.38,216.16 105.45,215 107.51,213.83 109.58,212.67 111.65,211.5 113.71,210.34 115.78,209.17 117.85,208.01 119.91,206.84 121.98,205.68 124.05,204.51 126.12,203.35 128.18,202.18 130.25,201.02 132.32,199.85 134.38,198.69 136.45,197.52 138.52,196.36 140.58,195.19 142.65,194.03 144.72,192.86 146.78,191.7 148.85,190.53 150.92,189.37 152.98,188.2 155.05,187.04 157.12,185.87 159.18,184.71 161.25,183.54 163.32,182.38 165.38,181.21 167.45,180.05 169.52,178.88 171.58,177.72 173.65,176.55 175.72,175.39 177.78,174.22 179.85,173.06 181.92,171.89 183.98,170.73 186.05,169.56" stroke="#111" stroke-width="1.2" stroke-dasharray="3.2,1.8"/>
<polyline points="91.75,221.75 92.21,221.49 92.68,221.23 93.14,220.97 93.61,220.71 94.07,220.45 94.54,220.19 95,219.93 95.47,219.67 95.94,219.41 96.4,219.16 96.87,218.9 97.33,218.65 97.8,218.4 98.26,218.15 98.73,217.9 99.19,217.66 99.66,217.42 100.12,217.18 100.59,216.95 101.05,216.72 101.52,216.49 101.99,216.27 102.45,216.05 102.92,215.83 103.38,215.61 103.85,215.4 104.31,215.18 104.78,214.97 105.24,214.75 105.71,214.53 106.17,214.31 106.64,214.09 107.1,213.87 107.57,213.64 108.03,213.42 108.5,213.18 108.97,212.95 109.43,212.71 109.9,212.48 110.36,212.24 110.83,212 111.29,211.76 111.76,211.52 112.22,211.28 112.69,211.03 113.15,210.79 113.62,210.54 114.08,210.3 114.55,210.05 115.02,209.8 115.48,209.56 115.95,209.31 116.41,209.06 116.88,208.81 117.34,208.57 117.81,208.32 118.27,208.07 118.74,207.82 119.2,207.57 119.67,207.32 120.13,207.07 120.6,206.81 121.06,206.56 121.53,206.3 122,206.05 122.46,205.79 122.93,205.53 123.39,205.26 123.86,205 124.32,204.73 124.79,204.46 125.25,204.2 125.72,203.93 126.18,203.66 126.65,203.39 127.11,203.12 127.58,202.85 128.05,202.58 128.51,202.3 128.98,202.03 129.44,201.75 129.91,201.47 130.37,201.19 130.84,200.91 131.3,200.62 131.77,200.33 132.23,200.04 132.7,199.75 133.16,199.45 133.63,199.15 134.1,198.85 134.56,198.55 135.03,198.24 135.49,197.93 135.96,197.61 136.42,197.28 136.89,196.96 137.35,196.63 137.82,196.29 138.28,195.95 138.75,195.61 139.21,195.26 139.68,194.92 140.14,194.57 140.61,194.22 141.08,193.86 141.54,193.51 142.01,193.15 142.47,192.8 142.94,192.44 143.4,192.09 143.87,191.73 144.33,191.38 144.8,191.02 145.26,190.67 145.73,190.31 146.19,189.95 146.66,189.59 147.13,189.22 147.59,188.85 148.06,188.48 148.52,188.1 148.99,187.73 149.45,187.36 149.92,186.98 150.38,186.61 150.85,186.24 151.31,185.87 151.78,185.51 152.24,185.15 152.71,184.79 153.17,184.43 153.64,184.08 154.11,183.74 154.57,183.4 155.04,183.07 155.5,182.75 155.97,182.43 156.43,182.12 156.9,181.81 157.36,181.51 157.83,181.21 158.29,180.91 158.76,180.62 159.22,180.33 159.69,180.03 160.16,179.75 160.62,179.46 161.09,179.17 161.55,178.88 162.02,178.59 162.48,178.3 162.95,178.01 163.41,177.71 163.88,177.41 164.34,177.11 164.81,176.81 165.27,176.49 165.74,176.17 166.2,175.84 166.67,175.5 167.14,175.16 167.6,174.81 168.07,174.46 168.53,174.12 169,173.78 169.46,173.45 169.93,173.13 170.39,172.82 170.86,172.53 171.32,172.25 171.79,171.99 172.25,171.77 172.72,171.57 173.19,171.36 173.65,171.15 174.12,170.93 174.58,170.71 175.05,170.49 175.51,170.27 175.98,170.06 176.44,169.87 176.91,169.68 177.37,169.5 177.84,169.32 178.3,169.14 178.77,168.97 179.23,168.8 179.7,168.64 180.17,168.46 180.63,168.28 181.1,168.1 181.56,167.91 182.03,167.73 182.49,167.56 182.96,167.41 183.42,167.27 183.89,167.13 184.35,167 184.82,166.86 185.28,166.71 185.75,166.55 186.22,166.38 186.68,166.21 187.15,166.02 187.61,165.82 188.08,165.61 188.54,165.38 189.01,165.13 189.47,164.89 189.94,164.65 190.4,164.48 190.87,164.36 191.33,164.27 191.8,164.2 192.27,164.17 192.73,164.16 193.2,164.16 193.66,164.18" stroke="#7a30c6" stroke-width="2.7" stroke-linejoin="round" stroke-linecap="round"/>
<polyline points="91.75,221.25 92.21,220.99 92.68,220.73 93.14,220.47 93.61,220.21 94.08,219.95 94.54,219.69 95.01,219.43 95.47,219.17 95.94,218.91 96.4,218.65 96.87,218.4 97.33,218.15 97.8,217.9 98.27,217.65 98.73,217.4 99.2,217.16 99.66,216.92 100.13,216.68 100.59,216.45 101.06,216.22 101.53,215.99 101.99,215.77 102.46,215.55 102.92,215.33 103.39,215.11 103.85,214.89 104.32,214.68 104.78,214.46 105.25,214.25 105.72,214.03 106.18,213.81 106.65,213.59 107.11,213.37 107.58,213.14 108.04,212.91 108.51,212.68 108.98,212.45 109.44,212.21 109.91,211.97 110.37,211.74 110.84,211.5 111.3,211.26 111.77,211.02 112.23,210.77 112.7,210.53 113.17,210.29 113.63,210.04 114.1,209.79 114.56,209.55 115.03,209.3 115.49,209.05 115.96,208.8 116.43,208.55 116.89,208.3 117.36,208.05 117.82,207.79 118.29,207.54 118.75,207.28 119.22,207.03 119.68,206.77 120.15,206.51 120.62,206.25 121.08,205.99 121.55,205.73 122.01,205.46 122.48,205.2 122.94,204.93 123.41,204.66 123.88,204.39 124.34,204.11 124.81,203.84 125.27,203.56 125.74,203.29 126.2,203.01 126.67,202.74 127.13,202.46 127.6,202.18 128.07,201.9 128.53,201.61 129,201.33 129.46,201.04 129.93,200.75 130.39,200.46 130.86,200.17 131.33,199.88 131.79,199.58 132.26,199.28 132.72,198.98 133.19,198.67 133.65,198.36 134.12,198.05 134.58,197.74 135.05,197.42 135.52,197.1 135.98,196.77 136.45,196.44 136.91,196.1 137.38,195.76 137.84,195.41 138.31,195.06 138.78,194.71 139.24,194.35 139.71,194 140.17,193.64 140.64,193.27 141.1,192.91 141.57,192.55 142.03,192.18 142.5,191.81 142.97,191.45 143.43,191.08 143.9,190.71 144.36,190.35 144.83,189.98 145.29,189.62 145.76,189.25 146.23,188.88 146.69,188.5 147.16,188.13 147.62,187.74 148.09,187.36 148.55,186.98 149.02,186.59 149.48,186.21 149.95,185.82 150.42,185.44 150.88,185.06 151.35,184.68 151.81,184.3 152.28,183.93 152.74,183.56 153.21,183.19 153.68,182.83 154.14,182.48 154.61,182.13 155.07,181.79 155.54,181.45 156,181.12 156.47,180.8 156.93,180.48 157.4,180.16 157.87,179.85 158.33,179.53 158.8,179.23 159.26,178.92 159.73,178.62 160.19,178.31 160.66,178.01 161.13,177.71 161.59,177.41 162.06,177.11 162.52,176.8 162.99,176.5 163.45,176.19 163.92,175.89 164.38,175.58 164.85,175.26 165.32,174.95 165.78,174.62 166.25,174.29 166.71,173.95 167.18,173.61 167.64,173.27 168.11,172.93 168.58,172.6 169.04,172.26 169.51,171.94 169.97,171.62 170.44,171.31 170.9,171.02 171.37,170.74 171.83,170.48 172.3,170.24 172.77,170.02 173.23,169.81 173.7,169.6 174.16,169.39 174.63,169.2 175.09,169.02 175.56,168.83 176.03,168.64 176.49,168.44 176.96,168.23 177.42,168.03 177.89,167.86 178.35,167.7 178.82,167.55 179.28,167.42 179.75,167.32 180.22,167.25 180.68,167.21 181.15,167.17 181.61,167.14 182.08,167.12 182.54,167.11 183.01,167.1 183.48,167.11 183.94,167.11 184.41,167.12 184.87,167.13 185.34,167.14 185.8,167.15 186.27,167.16 186.73,167.17 187.2,167.18 187.67,167.2 188.13,167.21 188.6,167.24 189.06,167.3 189.53,167.37 189.99,167.48 190.46,167.6 190.93,167.75 191.39,167.89 191.86,168.04 192.32,168.18 192.79,168.31 193.25,168.43 193.72,168.55" stroke="#3448d4" stroke-width="2.7" stroke-linejoin="round" stroke-linecap="round"/>
<polyline points="91.75,221.65 92.21,221.39 92.68,221.13 93.14,220.87 93.6,220.61 94.07,220.35 94.53,220.09 95,219.83 95.46,219.57 95.92,219.32 96.39,219.06 96.85,218.81 97.32,218.56 97.78,218.31 98.24,218.06 98.71,217.81 99.17,217.57 99.64,217.33 100.1,217.09 100.57,216.86 101.03,216.63 101.49,216.41 101.96,216.18 102.42,215.96 102.89,215.75 103.35,215.53 103.81,215.31 104.28,215.1 104.74,214.88 105.21,214.67 105.67,214.45 106.13,214.23 106.6,214.01 107.06,213.79 107.53,213.57 107.99,213.34 108.45,213.11 108.92,212.87 109.38,212.64 109.85,212.4 110.31,212.16 110.78,211.92 111.24,211.68 111.7,211.43 112.17,211.19 112.63,210.95 113.1,210.7 113.56,210.46 114.02,210.22 114.49,209.97 114.95,209.73 115.42,209.49 115.88,209.25 116.34,209.01 116.81,208.77 117.27,208.53 117.74,208.3 118.2,208.06 118.67,207.82 119.13,207.59 119.59,207.35 120.06,207.11 120.52,206.87 120.99,206.63 121.45,206.39 121.91,206.15 122.38,205.91 122.84,205.66 123.31,205.41 123.77,205.17 124.23,204.92 124.7,204.67 125.16,204.41 125.63,204.16 126.09,203.91 126.55,203.66 127.02,203.41 127.48,203.16 127.95,202.9 128.41,202.65 128.88,202.39 129.34,202.14 129.8,201.88 130.27,201.62 130.73,201.35 131.2,201.09 131.66,200.82 132.12,200.55 132.59,200.28 133.05,200.01 133.52,199.73 133.98,199.45 134.44,199.16 134.91,198.88 135.37,198.59 135.84,198.29 136.3,197.99 136.77,197.69 137.23,197.38 137.69,197.07 138.16,196.75 138.62,196.43 139.09,196.11 139.55,195.79 140.01,195.46 140.48,195.13 140.94,194.8 141.41,194.47 141.87,194.14 142.33,193.81 142.8,193.48 143.26,193.15 143.73,192.81 144.19,192.48 144.65,192.15 145.12,191.82 145.58,191.49 146.05,191.16 146.51,190.82 146.98,190.48 147.44,190.13 147.9,189.78 148.37,189.44 148.83,189.09 149.3,188.74 149.76,188.39 150.22,188.04 150.69,187.7 151.15,187.36 151.62,187.02 152.08,186.68 152.54,186.34 153.01,186.02 153.47,185.69 153.94,185.37 154.4,185.06 154.87,184.75 155.33,184.45 155.79,184.16 156.26,183.87 156.72,183.59 157.19,183.32 157.65,183.04 158.11,182.77 158.58,182.51 159.04,182.24 159.51,181.98 159.97,181.72 160.43,181.46 160.9,181.2 161.36,180.94 161.83,180.68 162.29,180.41 162.75,180.15 163.22,179.88 163.68,179.61 164.15,179.33 164.61,179.05 165.08,178.77 165.54,178.48 166,178.18 166.47,177.89 166.93,177.59 167.4,177.29 167.86,176.98 168.32,176.68 168.79,176.37 169.25,176.07 169.72,175.76 170.18,175.45 170.64,175.14 171.11,174.84 171.57,174.53 172.04,174.23 172.5,173.92 172.97,173.62 173.43,173.32 173.89,173.07 174.36,172.85 174.82,172.67 175.29,172.51 175.75,172.36 176.21,172.21 176.68,172.07 177.14,171.93 177.61,171.8 178.07,171.69 178.53,171.59 179,171.51 179.46,171.42 179.93,171.37 180.39,171.34 180.85,171.31 181.32,171.29 181.78,171.27 182.25,171.26 182.71,171.26 183.18,171.26 183.64,171.28 184.1,171.3 184.57,171.32 185.03,171.33 185.5,171.32 185.96,171.31 186.42,171.3 186.89,171.28 187.35,171.26 187.82,171.26 188.28,171.25 188.74,171.26 189.21,171.27 189.67,171.29 190.14,171.32 190.6,171.34 191.07,171.37 191.53,171.39 191.99,171.43 192.46,171.5 192.92,171.58 193.39,171.67" stroke="#2a98ae" stroke-width="2.7" stroke-linejoin="round" stroke-linecap="round"/>
<polyline points="91.75,221.15 92.21,220.89 92.68,220.63 93.14,220.37 93.6,220.11 94.07,219.85 94.53,219.59 94.99,219.33 95.46,219.07 95.92,218.82 96.39,218.56 96.85,218.31 97.31,218.06 97.78,217.81 98.24,217.56 98.71,217.31 99.17,217.07 99.63,216.83 100.1,216.6 100.56,216.36 101.03,216.13 101.49,215.91 101.95,215.69 102.42,215.47 102.88,215.25 103.35,215.03 103.81,214.81 104.27,214.6 104.74,214.38 105.2,214.17 105.67,213.95 106.13,213.73 106.59,213.51 107.06,213.29 107.52,213.07 107.99,212.84 108.45,212.61 108.91,212.37 109.38,212.14 109.84,211.9 110.31,211.66 110.77,211.41 111.23,211.17 111.7,210.93 112.16,210.68 112.63,210.44 113.09,210.19 113.55,209.95 114.02,209.71 114.48,209.47 114.95,209.23 115.41,208.99 115.87,208.76 116.34,208.53 116.8,208.29 117.27,208.07 117.73,207.84 118.19,207.61 118.66,207.38 119.12,207.16 119.59,206.93 120.05,206.71 120.51,206.48 120.98,206.25 121.44,206.03 121.91,205.8 122.37,205.57 122.83,205.34 123.3,205.1 123.76,204.87 124.23,204.63 124.69,204.4 125.15,204.16 125.62,203.93 126.08,203.69 126.54,203.45 127.01,203.22 127.47,202.98 127.94,202.74 128.4,202.51 128.86,202.27 129.33,202.03 129.79,201.79 130.26,201.54 130.72,201.3 131.18,201.05 131.65,200.8 132.11,200.55 132.58,200.3 133.04,200.04 133.5,199.78 133.97,199.52 134.43,199.25 134.9,198.99 135.36,198.71 135.82,198.44 136.29,198.16 136.75,197.87 137.22,197.58 137.68,197.29 138.14,196.99 138.61,196.69 139.07,196.39 139.54,196.09 140,195.78 140.46,195.48 140.93,195.17 141.39,194.86 141.86,194.55 142.32,194.24 142.78,193.92 143.25,193.61 143.71,193.3 144.18,192.99 144.64,192.68 145.1,192.38 145.57,192.07 146.03,191.75 146.5,191.43 146.96,191.11 147.42,190.79 147.89,190.47 148.35,190.14 148.82,189.81 149.28,189.49 149.74,189.16 150.21,188.84 150.67,188.51 151.14,188.19 151.6,187.87 152.06,187.56 152.53,187.25 152.99,186.94 153.46,186.64 153.92,186.34 154.38,186.05 154.85,185.77 155.31,185.5 155.78,185.23 156.24,184.96 156.7,184.7 157.17,184.45 157.63,184.19 158.09,183.94 158.56,183.7 159.02,183.46 159.49,183.22 159.95,182.98 160.41,182.74 160.88,182.5 161.34,182.26 161.81,182.03 162.27,181.79 162.73,181.55 163.2,181.31 163.66,181.06 164.13,180.82 164.59,180.57 165.05,180.31 165.52,180.06 165.98,179.81 166.45,179.55 166.91,179.3 167.37,179.05 167.84,178.8 168.3,178.54 168.77,178.29 169.23,178.04 169.69,177.78 170.16,177.53 170.62,177.27 171.09,177.01 171.55,176.76 172.01,176.5 172.48,176.24 172.94,175.97 173.41,175.71 173.87,175.44 174.33,175.18 174.8,174.91 175.26,174.63 175.73,174.36 176.19,174.08 176.65,173.8 177.12,173.52 177.58,173.23 178.05,172.93 178.51,172.66 178.97,172.42 179.44,172.21 179.9,172.02 180.37,171.84 180.83,171.66 181.29,171.5 181.76,171.35 182.22,171.22 182.69,171.13 183.15,171.07 183.61,171.02 184.08,170.97 184.54,170.94 185.01,170.91 185.47,170.88 185.93,170.85 186.4,170.82 186.86,170.8 187.33,170.78 187.79,170.77 188.25,170.77 188.72,170.77 189.18,170.78 189.64,170.79 190.11,170.81 190.57,170.82 191.04,170.84 191.5,170.86 191.96,170.89 192.43,170.95 192.89,171.03 193.36,171.13" stroke="#7ab35c" stroke-width="2.7" stroke-linejoin="round" stroke-linecap="round"/>
<circle cx="66" cy="237.76" r="1.05" fill="#7a30c6"/>
<circle cx="69.4" cy="237.63" r="1.05" fill="#7a30c6"/>
<circle cx="72.8" cy="234.25" r="1.05" fill="#7a30c6"/>
<circle cx="76.2" cy="230.93" r="1.05" fill="#7a30c6"/>
<circle cx="79.6" cy="229.12" r="1.05" fill="#7a30c6"/>
<circle cx="83" cy="227.2" r="1.05" fill="#7a30c6"/>
<circle cx="86.4" cy="224.6" r="1.05" fill="#7a30c6"/>
<circle cx="89.8" cy="222.31" r="1.05" fill="#7a30c6"/>
<circle cx="93.2" cy="220.95" r="1.05" fill="#7a30c6"/>
<circle cx="66.9" cy="238.14" r="1.05" fill="#3448d4"/>
<circle cx="70.3" cy="236.72" r="1.05" fill="#3448d4"/>
<circle cx="73.7" cy="233.89" r="1.05" fill="#3448d4"/>
<circle cx="77.1" cy="230.54" r="1.05" fill="#3448d4"/>
<circle cx="80.5" cy="228.43" r="1.05" fill="#3448d4"/>
<circle cx="83.9" cy="225.71" r="1.05" fill="#3448d4"/>
<circle cx="87.3" cy="223.33" r="1.05" fill="#3448d4"/>
<circle cx="90.7" cy="222.13" r="1.05" fill="#3448d4"/>
<circle cx="94.1" cy="220.22" r="1.05" fill="#3448d4"/>
<circle cx="67.8" cy="237.93" r="1.05" fill="#2a98ae"/>
<circle cx="71.2" cy="235.4" r="1.05" fill="#2a98ae"/>
<circle cx="74.6" cy="233.25" r="1.05" fill="#2a98ae"/>
<circle cx="78" cy="228.82" r="1.05" fill="#2a98ae"/>
<circle cx="81.4" cy="228.05" r="1.05" fill="#2a98ae"/>
<circle cx="84.8" cy="225.92" r="1.05" fill="#2a98ae"/>
<circle cx="88.2" cy="222.85" r="1.05" fill="#2a98ae"/>
<circle cx="91.6" cy="221.76" r="1.05" fill="#2a98ae"/>
<circle cx="95" cy="219.35" r="1.05" fill="#2a98ae"/>
<circle cx="68.7" cy="237.35" r="1.05" fill="#7ab35c"/>
<circle cx="72.1" cy="233.63" r="1.05" fill="#7ab35c"/>
<circle cx="75.5" cy="231.36" r="1.05" fill="#7ab35c"/>
<circle cx="78.9" cy="229.23" r="1.05" fill="#7ab35c"/>
<circle cx="82.3" cy="227.24" r="1.05" fill="#7ab35c"/>
<circle cx="85.7" cy="223.56" r="1.05" fill="#7ab35c"/>
<circle cx="89.1" cy="222.4" r="1.05" fill="#7ab35c"/>
<circle cx="92.5" cy="220.89" r="1.05" fill="#7ab35c"/>
<circle cx="95.9" cy="218.53" r="1.05" fill="#7ab35c"/>
<circle cx="37.2" cy="252.2" r="1.1" fill="#7a30c6"/>
<circle cx="48.9" cy="252.6" r="1.1" fill="#7ab35c"/>
<circle cx="50.4" cy="250.3" r="1.1" fill="#2a98ae"/>
<circle cx="56.0" cy="244.6" r="1.1" fill="#7a30c6"/>
<circle cx="61.1" cy="244.2" r="1.1" fill="#2a98ae"/>
<circle cx="62.5" cy="243.3" r="1.1" fill="#7ab35c"/>
</g>
<rect x="171.95" y="162.75" width="25.1" height="10.6" fill="none" stroke="#000" stroke-width="1.3"/>
<g clip-path="url(#cp01)" fill="none">
<line x1="289.6" y1="4.5" x2="289.6" y2="139.5" stroke="#e6c860" stroke-width="1.3" stroke-dasharray="5.5,2"/>
<line x1="293.0" y1="4.5" x2="293.0" y2="139.5" stroke="#f0b878" stroke-width="1.3" stroke-dasharray="5.5,2"/>
<line x1="296.9" y1="4.5" x2="296.9" y2="139.5" stroke="#eca080" stroke-width="1.3" stroke-dasharray="5.5,2"/>
<line x1="301.5" y1="4.5" x2="301.5" y2="139.5" stroke="#e08080" stroke-width="1.3" stroke-dasharray="5.5,2"/>
<line x1="306.0" y1="4.5" x2="306.0" y2="139.5" stroke="#d8a0d0" stroke-width="1.3" stroke-dasharray="5.5,2"/>
<line x1="255.2" y1="85.2" x2="428.4" y2="85.2" stroke="#d488a8" stroke-width="1.4" stroke-dasharray="5.5,2"/>
<line x1="255.2" y1="86.6" x2="428.4" y2="86.6" stroke="#e09494" stroke-width="1.4" stroke-dasharray="5.5,2"/>
<line x1="255.2" y1="88.2" x2="428.4" y2="88.2" stroke="#f0bc98" stroke-width="1.4" stroke-dasharray="5.5,2"/>
<line x1="255.2" y1="89.8" x2="428.4" y2="89.8" stroke="#eed898" stroke-width="1.4" stroke-dasharray="5.5,2"/>
<polyline points="255.2,192.45 258.55,188.96 261.91,185.47 265.26,181.98 268.61,178.49 271.96,175 275.32,171.51 278.67,168.02 282.02,164.52 285.37,161.03 288.73,157.54 292.08,154.05 295.43,150.56 298.78,147.07 302.14,143.58 305.49,140.09 308.84,136.6 312.19,133.11 315.55,129.62 318.9,126.13 322.25,122.64 325.6,119.15 328.96,115.66 332.31,112.17 335.66,108.68 339.01,105.19 342.37,101.69 345.72,98.2 349.07,94.71 352.42,91.22" stroke="#111" stroke-width="1.3" stroke-dasharray="4,2.4"/>
<polyline points="255,128.22 256,125.89 257,125.53 258,123.85 259,123.94 260,122.29 261,121.15 262,119.58 263,120.17 264,118.84 265,117.94 266,117.24 267,116.04 268,114.78 269,113.91 270,113.14 271,113.37 272,111.37 273,111.04 274,110.47 275,110.03 276,109.53 277,108.06 278,107.21 279,107.37 280,107.31 281,106.52 282,105.71 283,104.92 284,104.65 285,103.89 286,103.85 287,102.62 288,102.54 289,101.93 290,101.74 291,101.12 292,101.71 293,100.78 294,100.35 295,98.34 296,98.71 297,98.22 298,98.38 299,96.78 300,98.03 301,97.69 302,96.35 303,96.23 304,96.06 305,96.19 306,96.23 307,96.64 308,95.41 309,95.63 310,95.16 311,95.69 312,95.05 313,95.15 314,93.88 315,94.11 316,93.67 317,94.56 318,94.02 319,93.44 320,93.22 321,93.5 322,92.83 323,92.59 324,93.1 325,93.87 326,92.54 327,92.3 328,91.93 329,91.77 330,92.54 331,92.62 332,92.18 333,92.26 334,92.11 335,92.07 336,91.27 337,91.7 338,91.91 339,91.47 340,91.57 341,91.37 342,91.56 343,92.05 344,91.45 345,91.53 346,91.93 347,91.82 348,92.26 349,90.52 350,91.81 351,91.17 352,91.41 353,91.7 354,91.78 355,91.73 356,91.31 357,91.95 358,91.08 359,91.14 360,91.56 361,90.96 362,92.19 363,91.69 364,92.24 365,91.27 366,91.15 367,91.44 368,91.73 369,91.19 370,91.67 371,91.55 372,92.38 373,91.46 374,92.36 375,91.75 376,91.77 377,92.07 378,92.06 379,92.93 380,93.68 381,93.72 382,94.42 383,95.4 384,95.35 385,95.89 386,96.28 387,96.35 388,98.14 389,97.79 390,99.7 391,100.28 392,101.71 393,102.14 394,102.86 395,104.52 396,105.31 397,106.76 398,108.22 399,109.59 400,111.14 401,112.52 402,114.59 403,115.58 404,118.43" stroke="#d6b41e" stroke-width="3.7" stroke-linejoin="round" stroke-linecap="round"/>
<polyline points="255,129.96 256,129.91 257,128.9 258,126.39 259,126.29 260,125.14 261,123.72 262,123.44 263,122.02 264,120.48 265,120.22 266,119.36 267,118.59 268,117.12 269,117.1 270,116.33 271,114.68 272,114.11 273,113.6 274,112.63 275,112.93 276,111.52 277,110.26 278,109.66 279,109.31 280,109.7 281,107.93 282,107.42 283,106.96 284,106.09 285,106.53 286,104.66 287,104.65 288,103.82 289,103.46 290,102.1 291,102.89 292,101.51 293,101.05 294,100.1 295,99.68 296,99.75 297,99.44 298,98.84 299,98.54 300,97.82 301,97.01 302,96.88 303,96.26 304,95.45 305,95.32 306,95.08 307,94.12 308,93.37 309,93.38 310,93.45 311,92.05 312,91.67 313,91.23 314,91.44 315,89.67 316,90.29 317,90.28 318,89 319,89.66 320,88.86 321,88.01 322,87.99 323,86.87 324,86.99 325,87.76 326,86.26 327,87.23 328,86.13 329,86.42 330,85.82 331,84.64 332,85.26 333,85.47 334,84.75 335,84.55 336,85.21 337,84.65 338,84.09 339,84.45 340,85.06 341,84.38 342,84.94 343,85.13 344,84.38 345,83.79 346,83.64 347,84.14 348,84.48 349,84.13 350,84.18 351,83.67 352,83.94 353,83.53 354,83.53 355,83.05 356,82.88 357,83.33 358,83.02 359,83.07 360,83.8 361,83.45 362,84.82 363,83.94 364,83.25 365,83.9 366,83.74 367,83.29 368,84.13 369,83.32 370,82.32 371,84.12 372,83.6 373,84.7 374,83.92 375,83.9 376,85.37 377,84.45 378,85.29 379,86.16 380,85.95 381,86.31 382,86.89 383,87.75 384,87.57 385,88.77 386,89.36 387,90.81 388,90.31 389,90.78 390,92.29 391,92.55 392,93.63 393,94.35 394,95.64 395,95.66 396,96.76 397,96.51 398,98.1 399,100.02 400,99.86 401,100.68 402,101.29 403,102.93 404,103.58" stroke="#e47a1c" stroke-width="3.7" stroke-linejoin="round" stroke-linecap="round"/>
<polyline points="255,133.47 256,133.22 257,131.98 258,131.15 259,129.49 260,129.54 261,127.94 262,126.72 263,125.57 264,124.74 265,124.3 266,122.87 267,122.57 268,121.47 269,120.95 270,119.87 271,118.64 272,117 273,117.19 274,116.61 275,115.55 276,114.97 277,113.75 278,113.06 279,112.08 280,112.41 281,111.18 282,110.21 283,109.17 284,109.06 285,109.15 286,108.1 287,106.98 288,107.37 289,106.81 290,106.07 291,105.45 292,105.09 293,104.3 294,103.89 295,102.68 296,103.21 297,102.13 298,102.43 299,100.09 300,100.82 301,100.42 302,99.31 303,99.14 304,98.75 305,98.15 306,97.13 307,96.79 308,96.8 309,96.41 310,95.38 311,94.88 312,94.46 313,94.37 314,92.97 315,92.4 316,92.61 317,91.6 318,91.37 319,91.21 320,90.92 321,89.76 322,90.16 323,88.57 324,89.2 325,87.86 326,87.64 327,88.19 328,87.44 329,87.03 330,87 331,87.26 332,86.88 333,86.76 334,87.12 335,86.21 336,86.21 337,86.08 338,86.75 339,86.58 340,86.63 341,85.96 342,85.83 343,86.22 344,85.59 345,86.07 346,85.96 347,85.26 348,85.47 349,85.39 350,86.16 351,86.48 352,85.21 353,85.21 354,84.13 355,85.21 356,85.07 357,84.56 358,85.37 359,84.3 360,84.9 361,85.06 362,84.45 363,85.41 364,85.51 365,84.43 366,84.45 367,85.38 368,85.12 369,84.62 370,85.07 371,85.2 372,85.27 373,85.83 374,85.76 375,86.55 376,86.54 377,86.42 378,86.79 379,87.1 380,87.02 381,86.36 382,87.54 383,87.46 384,88.44 385,88.06 386,88.56 387,88.78 388,89.69 389,89.31 390,89.38 391,89.9 392,89.82 393,90.34 394,90.51 395,90.88 396,91.87 397,91.07 398,91.52 399,91.66 400,92.3 401,91.72 402,92.19 403,92.73 404,93.25" stroke="#d8452a" stroke-width="3.7" stroke-linejoin="round" stroke-linecap="round"/>
<polyline points="256,137.48 257,136.05 258,134.68 259,134.11 260,133.37 261,131.72 262,130.54 263,129.57 264,127.87 265,127.12 266,126.13 267,125.4 268,124.3 269,122.84 270,123.01 271,122.4 272,120.68 273,120.16 274,119.3 275,118.75 276,116.97 277,117.61 278,115.95 279,116.02 280,114.79 281,113.9 282,113.35 283,113.16 284,111.74 285,111.33 286,110.68 287,109.53 288,110.32 289,109.45 290,108.64 291,108.64 292,107.17 293,107.05 294,107.36 295,106.51 296,104.57 297,103.56 298,104.08 299,104.51 300,103.29 301,102.87 302,102.69 303,101.48 304,101.42 305,101.13 306,100.43 307,99.85 308,98.85 309,98.81 310,97.85 311,98.1 312,98.15 313,96.15 314,95.01 315,95.31 316,95.18 317,94.97 318,94.47 319,93.1 320,92.57 321,92.97 322,91.4 323,91.89 324,90.83 325,90.84 326,90.41 327,90.09 328,89.81 329,88.74 330,89.13 331,88.86 332,88.86 333,89.15 334,88.36 335,88.06 336,87.96 337,88.06 338,88.46 339,87.67 340,88.49 341,88.02 342,87.72 343,87.15 344,87.79 345,87.91 346,86.73 347,87.98 348,88.12 349,87.45 350,87.45 351,88.25 352,87.65 353,86.62 354,86.95 355,86.83 356,86.77 357,85.71 358,87.06 359,86.37 360,86.67 361,86.48 362,86.87 363,86.28 364,85.98 365,86.52 366,86.85 367,86.03 368,86.75 369,86.23 370,85.86 371,86.79 372,85.75 373,86.6 374,85.96 375,86.42 376,85.71 377,85.94 378,86.86 379,86.52 380,86.52 381,86.38 382,86.88 383,86.18 384,86.45 385,87.05 386,86.92 387,87.15 388,87.62 389,87.77 390,87.9 391,88.92 392,88.82 393,89.11 394,88.74 395,88.73 396,88.49 397,89.17 398,88.56 399,89.4 400,90.16 401,90.69 402,90.54 403,89.86 404,90.6 405,90.14" stroke="#b4449a" stroke-width="3.7" stroke-linejoin="round" stroke-linecap="round"/>
</g>
<g clip-path="url(#cp11)" fill="none">
<line x1="278.2" y1="153.6" x2="278.2" y2="288.5" stroke="#80c4c8" stroke-width="1.3" stroke-dasharray="5.5,2"/>
<line x1="284.0" y1="153.6" x2="284.0" y2="288.5" stroke="#8898e8" stroke-width="1.3" stroke-dasharray="5.5,2"/>
<line x1="314.3" y1="153.6" x2="314.3" y2="288.5" stroke="#a8d0a0" stroke-width="1.3" stroke-dasharray="5.5,2"/>
<line x1="366.8" y1="153.6" x2="366.8" y2="288.5" stroke="#c8a0ec" stroke-width="1.3" stroke-dasharray="5.5,2"/>
<line x1="255.2" y1="168.0" x2="428.4" y2="168.0" stroke="#c8a0ec" stroke-width="1.4" stroke-dasharray="5.5,2"/>
<line x1="255.2" y1="211.9" x2="428.4" y2="211.9" stroke="#8898e8" stroke-width="1.4" stroke-dasharray="5.5,2"/>
<line x1="255.2" y1="259.4" x2="428.4" y2="259.4" stroke="#80c4c8" stroke-width="1.4" stroke-dasharray="5.5,2"/>
<line x1="255.2" y1="260.2" x2="428.4" y2="260.2" stroke="#a8d0a0" stroke-width="1.4" stroke-dasharray="5.5,2"/>
<polyline points="255.2,341.41 258.55,337.92 261.91,334.43 265.26,330.95 268.61,327.46 271.96,323.97 275.32,320.48 278.67,316.99 282.02,313.51 285.37,310.02 288.73,306.53 292.08,303.04 295.43,299.55 298.78,296.07 302.14,292.58 305.49,289.09 308.84,285.6 312.19,282.11 315.55,278.63 318.9,275.14 322.25,271.65 325.6,268.16 328.96,264.67 332.31,261.19 335.66,257.7 339.01,254.21 342.37,250.72 345.72,247.23 349.07,243.75 352.42,240.26" stroke="#111" stroke-width="1.3" stroke-dasharray="4,2.4"/>
<polyline points="255,266.87 256.01,265.63 257.01,265.24 258.02,265.18 259.02,263.61 260.03,263.41 261.04,261.61 262.04,260.54 263.05,260.45 264.05,259.79 265.06,257.92 266.07,257.36 267.07,255.83 268.08,255.54 269.08,255.18 270.09,253.88 271.1,252.8 272.1,251.55 273.11,251.47 274.11,250.77 275.12,249.78 276.13,248.73 277.13,247.15 278.14,247.63 279.14,245.94 280.15,245.03 281.16,244.58 282.16,242.44 283.17,242.57 284.18,241.75 285.18,241.2 286.19,240.87 287.19,239.73 288.2,237.94 289.21,237.88 290.21,237.4 291.22,236.65 292.22,235.29 293.23,234.4 294.24,234.69 295.24,233.89 296.25,233.02 297.25,231.55 298.26,232.42 299.27,229.62 300.27,230.08 301.28,230.5 302.28,228.81 303.29,228.31 304.3,227.01 305.3,227.48 306.31,225.61 307.31,225.63 308.32,224.9 309.33,223.69 310.33,223.87 311.34,222.14 312.34,221.77 313.35,221.35 314.36,220.45 315.36,220.12 316.37,219.58 317.37,218.29 318.38,217.43 319.39,216.69 320.39,216.02 321.4,215.81 322.4,214.62 323.41,214.17 324.42,213.24 325.42,212.2 326.43,212.29 327.43,210.77 328.44,210.6 329.45,210.65 330.45,208.89 331.46,208.77 332.47,207.52 333.47,207.45 334.48,206.46 335.48,206.43 336.49,205.82 337.5,205.59 338.5,205.71 339.51,204.6 340.51,204.23 341.52,203.36 342.53,202.72 343.53,201.88 344.54,200.86 345.54,201.11 346.55,201.2 347.56,200.07 348.56,198.99 349.57,199.34 350.57,197.77 351.58,197.03 352.59,196.1 353.59,195.54 354.6,195.17 355.6,195.48 356.61,193.77 357.62,192.66 358.62,192.11 359.63,191.53 360.63,190.09 361.64,190.13 362.65,189.59 363.65,188.6 364.66,187.9 365.66,186.21 366.67,185.15 367.68,185.58 368.68,184.55 369.69,182.4 370.69,182.2 371.7,181.13 372.71,180.39 373.71,179.28 374.72,178.03 375.72,177.42 376.73,176.45 377.74,175.39 378.74,173.64 379.75,172.24 380.76,172.45 381.76,171.4 382.77,171.7 383.77,171.41 384.78,170.73 385.79,170.02 386.79,169.82 387.8,169.96 388.8,168.8 389.81,169.26 390.82,168.91 391.82,168.46 392.83,168.75 393.83,167.56 394.84,168.12 395.85,167.15 396.85,167.16 397.86,167.03 398.86,167.76 399.87,167.23 400.88,167.81 401.88,167.46 402.89,168.68 403.89,169.3 404.9,168.9" stroke="#7a30c6" stroke-width="3.3" stroke-linejoin="round" stroke-linecap="round"/>
<polyline points="255,254.54 256.01,253.14 257.02,252.95 258.03,251.12 259.03,249.48 260.04,249.97 261.05,248.37 262.06,247.09 263.07,246.4 264.08,245.11 265.09,244.92 266.1,243.68 267.1,244 268.11,242.81 269.12,240.95 270.13,240.22 271.14,239.85 272.15,238.46 273.16,238.52 274.17,237.79 275.17,236.72 276.18,236.09 277.19,235.82 278.2,235.5 279.21,234.8 280.22,233.41 281.23,233.04 282.24,231.57 283.24,231.33 284.25,229.93 285.26,229.89 286.27,228.18 287.28,227.47 288.29,227.06 289.3,226.47 290.31,224.74 291.31,224.33 292.32,223.83 293.33,223.1 294.34,221.88 295.35,221.59 296.36,220.77 297.37,220.91 298.38,219.93 299.38,218.47 300.39,217.47 301.4,217.91 302.41,217.82 303.42,216.8 304.43,216.58 305.44,215.45 306.44,214.58 307.45,215.1 308.46,214.41 309.47,214.34 310.48,213.12 311.49,213.6 312.5,213.06 313.51,213.52 314.51,212.73 315.52,212.55 316.53,212.4 317.54,213.08 318.55,212.38 319.56,211.89 320.57,211.65 321.58,211.52 322.58,212.55 323.59,210.98 324.6,211.33 325.61,211.93 326.62,212.12 327.63,211.48 328.64,211.87 329.65,211.84 330.65,211.95 331.66,211.53 332.67,212.27 333.68,211.64 334.69,212.26 335.7,211.1 336.71,212.05 337.72,211.09 338.72,211.02 339.73,211.95 340.74,211.39 341.75,212 342.76,211.36 343.77,212.6 344.78,211.91 345.79,211.43 346.79,212.06 347.8,212.41 348.81,211.7 349.82,212.32 350.83,213.04 351.84,212.55 352.85,212.19 353.86,211.98 354.86,212.54 355.87,211.64 356.88,211 357.89,212.12 358.9,211.98 359.91,213.31 360.92,212.64 361.92,212.18 362.93,212.15 363.94,212.96 364.95,212.42 365.96,212.6 366.97,212.9 367.98,213.06 368.99,213.16 369.99,213.28 371,213.96 372.01,214.36 373.02,213.12 374.03,215.33 375.04,214.58 376.05,215.47 377.06,214.98 378.06,215.87 379.07,216.24 380.08,216.62 381.09,217.4 382.1,217.79 383.11,217.58 384.12,218.54 385.13,219.5 386.13,220.08 387.14,220.22 388.15,220.84 389.16,221.49 390.17,221.63 391.18,222.12 392.19,224 393.2,223.71 394.2,224.52 395.21,224.72 396.22,226.2 397.23,226.94 398.24,226.55 399.25,227.36 400.26,227.25 401.27,228.83 402.27,228.88 403.28,228.49 404.29,229.82 405.3,229.8" stroke="#3448d4" stroke-width="3.3" stroke-linejoin="round" stroke-linecap="round"/>
<polyline points="260,292.22 260.96,290.97 261.92,289.31 262.88,288.19 263.84,287.58 264.8,286.17 265.76,284.71 266.72,285.03 267.68,283.05 268.64,281.98 269.6,281.06 270.56,280.88 271.52,280.25 272.48,279.19 273.44,278.77 274.4,277.03 275.36,276.89 276.32,276.22 277.28,275.82 278.23,275.45 279.19,273.73 280.15,275.48 281.11,273.12 282.07,273.1 283.03,272.76 283.99,272.2 284.95,271.37 285.91,269.39 286.87,269.65 287.83,269.93 288.79,268.62 289.75,268.03 290.71,266.92 291.67,268.02 292.63,267.21 293.59,266.11 294.55,266 295.51,265.59 296.47,264.73 297.43,264.72 298.39,264.59 299.35,264.34 300.31,264.29 301.27,263.37 302.23,262.79 303.19,262.83 304.15,262.03 305.11,261.44 306.07,262.22 307.03,261.26 307.99,261.23 308.95,261.25 309.91,260.27 310.87,260.89 311.83,260.69 312.79,260.33 313.74,260.44 314.7,259.82 315.66,259.06 316.62,259.83 317.58,259.45 318.54,260.17 319.5,259.81 320.46,259.38 321.42,259.56 322.38,260.08 323.34,259.93 324.3,259.53 325.26,259.51 326.22,259.15 327.18,259.19 328.14,259.49 329.1,259.16 330.06,259.34 331.02,258.72 331.98,258.5 332.94,258.54 333.9,259.18 334.86,260.05 335.82,260.07 336.78,259.19 337.74,259.03 338.7,260.18 339.66,260.13 340.62,259.38 341.58,260.55 342.54,260.21 343.5,260.77 344.46,260.36 345.42,260.61 346.38,260.34 347.34,259.75 348.3,260.04 349.26,259.81 350.21,260.45 351.17,259.58 352.13,259.28 353.09,260.22 354.05,260.37 355.01,260.44 355.97,260.22 356.93,258.99 357.89,259.29 358.85,259.29 359.81,259.47 360.77,258.45 361.73,259.37 362.69,259.45 363.65,258.86 364.61,259.31 365.57,259.76 366.53,259.23 367.49,259.68 368.45,259.67 369.41,259.41 370.37,259.43 371.33,259.13 372.29,259.9 373.25,259.19 374.21,259.16 375.17,259.86 376.13,259.3 377.09,259.9 378.05,260.28 379.01,259.93 379.97,260.04 380.93,260.5 381.89,260.53 382.85,259.59 383.81,259.8 384.77,261.08 385.72,260.75 386.68,259.73 387.64,260.16 388.6,260.87 389.56,260.52 390.52,261.28 391.48,261.23 392.44,261.55 393.4,260.96 394.36,261.94 395.32,262.74 396.28,261.72 397.24,263.01 398.2,263.32 399.16,263.74 400.12,264.07 401.08,264.43 402.04,265.66 403,267.65" stroke="#2a98ae" stroke-width="3.3" stroke-linejoin="round" stroke-linecap="round"/>
<polyline points="293,292.45 293.74,291.64 294.47,290.61 295.21,289.69 295.95,288.22 296.68,287.01 297.42,286.81 298.16,286.12 298.9,285.14 299.63,283.63 300.37,283.32 301.11,282.15 301.84,282.16 302.58,280.93 303.32,280.65 304.05,280.21 304.79,279.5 305.53,279.44 306.26,277.73 307,276.66 307.74,277.5 308.48,277.15 309.21,276.61 309.95,275.55 310.69,275.12 311.42,274.4 312.16,273.22 312.9,273.01 313.63,272.96 314.37,271.95 315.11,272.54 315.84,270.48 316.58,270.47 317.32,270.68 318.06,269.42 318.79,268.73 319.53,268.18 320.27,268.03 321,268.61 321.74,267.68 322.48,267.3 323.21,266.41 323.95,266.62 324.69,265.89 325.42,265.06 326.16,264.92 326.9,264.9 327.63,265.05 328.37,264.26 329.11,264.3 329.85,264.79 330.58,263.33 331.32,262.95 332.06,263.77 332.79,263.36 333.53,262.96 334.27,262.97 335,262.56 335.74,262.8 336.48,262.28 337.21,262.66 337.95,261.65 338.69,261.69 339.43,262 340.16,261.62 340.9,262.04 341.64,261.61 342.37,261.29 343.11,261.53 343.85,261.11 344.58,260.56 345.32,260.67 346.06,260.74 346.79,260.8 347.53,260.97 348.27,261.25 349.01,261.01 349.74,261.48 350.48,261.17 351.22,260.43 351.95,261.18 352.69,260.89 353.43,260.08 354.16,260.35 354.9,260.62 355.64,260.17 356.37,260.45 357.11,260.11 357.85,260.18 358.59,259.66 359.32,259.92 360.06,259.53 360.8,259.95 361.53,258.85 362.27,259.72 363.01,260.09 363.74,259.76 364.48,259.46 365.22,259.69 365.95,259.06 366.69,259.05 367.43,259.26 368.17,259.36 368.9,259.86 369.64,259.03 370.38,259.9 371.11,258.76 371.85,259.13 372.59,259.49 373.32,260.06 374.06,259.29 374.8,258.63 375.53,259.82 376.27,259.66 377.01,259.22 377.74,259.28 378.48,259.48 379.22,259.88 379.96,260.18 380.69,259.27 381.43,261.01 382.17,260.01 382.9,259.91 383.64,260.43 384.38,260.23 385.11,261.28 385.85,260.77 386.59,260.17 387.32,260.22 388.06,260.23 388.8,260.37 389.54,260.9 390.27,260.38 391.01,261.48 391.75,260.81 392.48,260.87 393.22,261.47 393.96,260.27 394.69,260.86 395.43,261.68 396.17,261.56 396.9,261.74 397.64,262.16 398.38,262 399.12,262.52 399.85,262.33 400.59,262.5 401.33,264.41 402.06,263.99 402.8,264.7" stroke="#7ab35c" stroke-width="3.3" stroke-linejoin="round" stroke-linecap="round"/>
</g>
<g clip-path="url(#cp02)" fill="none">
<polyline points="476.2,128.5 476.68,128.22 477.17,127.9 477.65,127.53 478.14,127.13 478.62,126.69 479.11,126.23 479.59,125.74 480.07,125.22 480.56,124.66 481.04,124.05 481.53,123.39 482.01,122.68 482.5,121.93 482.98,121.13 483.46,120.3 483.95,119.43 484.43,118.52 484.92,117.57 485.4,116.53 485.89,115.42 486.37,114.23 486.85,112.98 487.34,111.69 487.82,110.35 488.31,108.99 488.79,107.6 489.28,106.19 489.76,104.72 490.24,103.18 490.73,101.59 491.21,99.96 491.7,98.31 492.18,96.63 492.67,94.96 493.15,93.28 493.63,91.54 494.12,89.75 494.6,87.93 495.09,86.12 495.57,84.35 496.06,82.66 496.54,81.07 497.02,79.6 497.51,78.21 497.99,76.87 498.48,75.56 498.96,74.27 499.45,72.97 499.93,71.64 500.41,70.25 500.9,68.8 501.38,67.29 501.87,65.75 502.35,64.2 502.84,62.64 503.32,61.1 503.8,59.6 504.29,58.14 504.77,56.7 505.26,55.29 505.74,53.89 506.23,52.5 506.71,51.12 507.19,49.73 507.68,48.33 508.16,46.93 508.65,45.53 509.13,44.16 509.62,42.82 510.1,41.54 510.58,40.27 511.07,39.01 511.55,37.79 512.04,36.64 512.52,35.57 513.01,34.6 513.49,33.65 513.97,32.75 514.46,31.91 514.94,31.18 515.43,30.58 515.91,30.1 516.4,29.64 516.88,29.22 517.36,28.85 517.85,28.58 518.33,28.42 518.82,28.41 519.32,28.51 519.84,28.7 520.35,28.96 520.87,29.28 521.38,29.61 521.9,29.96 522.41,30.31 522.93,30.71 523.44,31.16 523.96,31.67 524.47,32.21 524.99,32.78 525.51,33.35 526.02,33.93 526.54,34.49 527.05,35.05 527.57,35.62 528.08,36.19 528.6,36.78 529.11,37.37 529.63,37.97 530.14,38.58 530.66,39.2 531.17,39.83 531.69,40.47 532.21,41.13 532.72,41.8 533.24,42.48 533.75,43.19 534.25,43.94 534.73,44.72 535.21,45.53 535.7,46.36 536.18,47.2 536.67,48.05 537.15,48.89 537.64,49.72 538.12,50.54 538.6,51.33 539.09,52.09 539.57,52.85 540.06,53.6 540.54,54.36 541.03,55.11 541.51,55.85 541.99,56.58 542.48,57.31 542.96,58.03 543.45,58.73 543.93,59.42 544.42,60.1 544.9,60.75 545.38,61.39 545.87,62.01 546.35,62.61 546.84,63.2 547.32,63.78 547.81,64.36 548.29,64.92 548.77,65.48 549.26,66.02 549.74,66.56 550.23,67.08 550.71,67.59 551.19,68.08 551.68,68.56 552.16,69.02 552.65,69.47 553.13,69.9 553.62,70.31 554.1,70.71 554.58,71.1 555.07,71.47 555.55,71.83 556.04,72.19 556.52,72.53 557.01,72.87 557.49,73.19 557.97,73.51 558.46,73.82 558.94,74.13 559.43,74.43 559.91,74.72 560.4,75.01 560.88,75.29 561.36,75.56 561.85,75.83 562.33,76.09 562.82,76.34 563.3,76.58 563.79,76.82 564.27,77.06 564.75,77.3 565.24,77.53 565.72,77.77 566.21,78 566.69,78.24 567.18,78.48 567.66,78.72 568.14,78.95 568.63,79.18 569.11,79.42 569.6,79.65 570.08,79.88 570.57,80.11 571.05,80.33 571.53,80.56 572.02,80.79 572.5,81.01 572.99,81.23 573.47,81.45 573.96,81.66 574.44,81.87 574.92,82.08 575.41,82.29 575.89,82.49 576.38,82.7 576.86,82.91 577.35,83.13 577.83,83.35 578.31,83.57 578.8,83.8 579.28,84.03 579.77,84.27 580.25,84.5 580.74,84.74 581.22,84.98 581.7,85.22 582.19,85.47 582.67,85.73 583.16,86 583.64,86.28 584.13,86.57 584.61,86.87 585.09,87.19 585.58,87.54 586.06,87.9 586.55,88.28 587.03,88.67 587.52,89.06 588,89.46 588.48,89.86 588.97,90.26 589.45,90.65 589.94,91.03 590.42,91.4 590.91,91.75 591.39,92.11 591.87,92.46 592.36,92.81 592.84,93.16 593.33,93.53 593.81,93.91 594.3,94.3 594.78,94.71 595.26,95.15 595.75,95.62 596.23,96.11 596.72,96.62 597.2,97.15 597.69,97.7 598.17,98.26 598.65,98.83 599.14,99.41 599.62,99.99 600.11,100.58 600.59,101.18 601.08,101.8 601.56,102.45 602.04,103.13 602.53,103.84 603.01,104.61 603.5,105.42 603.98,106.27 604.47,107.17 604.95,108.1 605.43,109.07 605.92,110.11 606.4,111.2 606.89,112.34 607.37,113.51 607.86,114.7 608.34,115.89 608.82,117.11 609.31,118.36 609.79,119.64 610.28,120.96 610.76,122.35 611.25,123.85 611.73,125.36 612.21,126.79 612.7,128.09 613.18,129.33 613.67,130.5 614.15,131.58 614.64,132.57 615.12,133.49 615.6,134.36 616.09,135.17 616.57,135.9 617.06,136.55 617.54,137.12 618.03,137.65 618.51,138.13 618.99,138.53 619.48,138.84 619.96,139.11 620.45,139.35 620.93,139.56 621.42,139.71 621.9,139.8" stroke="#c4c4c4" stroke-width="1.7" stroke-linejoin="round"/>
<polyline points="514.46,31.91 514.94,31.18 515.43,30.58 515.91,30.1 516.4,29.64 516.88,29.22 517.36,28.85 517.85,28.58 518.33,28.42 518.82,28.41 519.28,28.53 519.74,28.75 520.2,29.05 520.65,29.39 521.11,29.76 521.57,30.14 522.02,30.51 522.48,30.94 522.94,31.43 523.39,31.97 523.85,32.54 524.31,33.14 524.76,33.75 525.22,34.35 525.68,34.95 526.13,35.54 526.59,36.14 527.05,36.74 527.5,37.36 527.96,37.98 528.42,38.61 528.87,39.25 529.33,39.9 529.79,40.56 530.24,41.24 530.7,41.93 531.16,42.63 531.61,43.34 532.07,44.08 532.55,44.84 533.03,45.62 533.51,46.43 534,47.26 534.48,48.1 534.97,48.95 535.45,49.79 535.94,50.62 536.42,51.44 536.9,52.23 537.39,52.99 537.87,53.75 538.36,54.5 538.84,55.26 539.33,56.01 539.81,56.75 540.29,57.48 540.78,58.21 541.26,58.93 541.75,59.63 542.23,60.32 542.72,61 543.2,61.65 543.68,62.29 544.17,62.91 544.65,63.51 545.14,64.1 545.62,64.68 546.11,65.26 546.59,65.82 547.07,66.38 547.56,66.92 548.04,67.46 548.53,67.98 549.01,68.49 549.49,68.98 549.98,69.46 550.46,69.92 550.95,70.37 551.43,70.8 551.92,71.21 552.4,71.61 552.88,72 553.37,72.37 553.85,72.73 554.34,73.09 554.82,73.43 555.31,73.77 555.79,74.09 556.27,74.41 556.76,74.72 557.24,75.03 557.73,75.33 558.21,75.62 558.7,75.91 559.18,76.19 559.66,76.46 560.15,76.73 560.63,76.99 561.12,77.24 561.6,77.48 562.09,77.72 562.57,77.96 563.05,78.2 563.54,78.43 564.02,78.67 564.51,78.9 564.99,79.14 565.48,79.38 565.96,79.62 566.44,79.85 566.93,80.08 567.41,80.32 567.9,80.55 568.38,80.78 568.87,81.01 569.35,81.23 569.83,81.46 570.32,81.69 570.8,81.91 571.29,82.13 571.77,82.35 572.26,82.56 572.74,82.77 573.22,82.98 573.71,83.19 574.19,83.39 574.68,83.6 575.16,83.81 575.65,84.03 576.13,84.25 576.61,84.47 577.1,84.7 577.58,84.93 578.07,85.17 578.55,85.4 579.04,85.64 579.52,85.88 580,86.12 580.49,86.37 580.97,86.63 581.46,86.9 581.94,87.18 582.43,87.47 582.91,87.77 583.39,88.09 583.88,88.44 584.36,88.8 584.85,89.18 585.33,89.57 585.82,89.96 586.3,90.36 586.78,90.76 587.27,91.16 587.75,91.55 588.24,91.93 588.72,92.3 589.21,92.65 589.69,93.01 590.17,93.36 590.66,93.71 591.14,94.06 591.63,94.43 592.11,94.81 592.6,95.2 593.08,95.61 593.56,96.05 594.05,96.52 594.53,97.01 595.02,97.52 595.5,98.05 595.99,98.6 596.47,99.16 596.95,99.73 597.44,100.31 597.92,100.89 598.41,101.48 598.89,102.08 599.38,102.7 599.86,103.35 600.34,104.03 600.83,104.74 601.31,105.51 601.8,106.32 602.28,107.17 602.77,108.07 603.25,109 603.73,109.97 604.22,111.01 604.7,112.1 605.19,113.24 605.67,114.41 606.16,115.6 606.64,116.79 607.12,118.01 607.61,119.26 608.09,120.54 608.58,121.86 609.06,123.25 609.55,124.75 610.03,126.26 610.51,127.69 611,128.99 611.48,130.23 611.97,131.4 612.45,132.48 612.94,133.47 613.42,134.39 613.9,135.26 614.39,136.07 614.87,136.8 615.36,137.45 615.84,138.02 616.33,138.55 616.81,139.03 617.29,139.43 617.78,139.74 618.26,140.01 618.75,140.25 619.23,140.46 619.72,140.61 620.2,140.7" stroke="#9c9c9c" stroke-width="1.0" stroke-linejoin="round"/>
<polyline points="551.37,60.33 551.83,60.84 552.3,60.93 552.76,61.41 553.22,61.99 553.69,62.14 554.15,62.99 554.61,63.24 555.07,63.6 555.54,64.13 556,64.44 556.46,65.09 556.92,65.3 557.39,64.62 557.85,65.69 558.31,65.36 558.77,65.54 559.24,66.44 559.7,66.27 560.16,66.63 560.63,67.28 561.09,66.98 561.55,67.13 562.01,67.7 562.48,68.17 562.94,68.15 563.4,67.7 563.86,68.14 564.33,68.45 564.79,69.24 565.25,69.08 565.71,69.21 566.18,69.46 566.64,69.14 567.1,69.52 567.57,69.66 568.03,69.35 568.49,69.77 568.95,70.08 569.42,69.72 569.88,70.43 570.34,70.55 570.8,70.77 571.27,70.37 571.73,70.77 572.19,71.31 572.65,71.25 573.12,70.91 573.58,71.35 574.04,71.85 574.5,71.53 574.97,71.81 575.43,72.6 575.89,71.96 576.36,72.08 576.82,71.95 577.28,72.2 577.74,72.99 578.21,72.64 578.67,72.47 579.13,72.69 579.59,73.11 580.06,73.48 580.52,73.17 580.98,73.76 581.44,73.56 581.91,73.97 582.37,74.18 582.83,74.38 583.3,74.25 583.76,74.52 584.22,74.93 584.68,74.6 585.15,75.26 585.61,75.59 586.07,75.99 586.53,75.91 587,76.12 587.46,76.48 587.92,76.49 588.38,76.93 588.85,77.4 589.31,77.65 589.77,77.54 590.23,78.06 590.7,77.84 591.16,79.04 591.62,78.99 592.09,79.58 592.55,79.54 593.01,80.22 593.47,80.76 593.94,81.3 594.4,80.98 594.86,82.02 595.32,82.09 595.79,82.27 596.25,83.02 596.71,83.16 597.17,83.53 597.64,83.78 598.1,84.43 598.56,84.75 599.03,85.07 599.49,85.22 599.95,85.74 600.41,86.41 600.88,87.07 601.34,87.08 601.8,87.92 602.26,87.9 602.73,87.98 603.19,88.91 603.65,88.85 604.11,89.68 604.58,90.31 605.04,90.33 605.5,90.84 605.97,92.06 606.43,91.86 606.89,92.35 607.35,92.99 607.82,93.24 608.28,93.78 608.74,94.48 609.2,94.21 609.67,95.93 610.13,95.77 610.59,96.35 611.05,97.42 611.52,97.87 611.98,98.1 612.44,99.16 612.9,99.37 613.37,100.12 613.83,100.48 614.29,101.26 614.76,102.2 615.22,102.68 615.68,103.29 616.14,104.02 616.61,104.27 617.07,104.61 617.53,105.22 617.99,106.28 618.46,106.27 618.92,106.82 619.38,107.16 619.84,107.7 620.31,108.17 620.77,108.41 621.23,108.7 621.7,108.81 622.16,109.07 622.62,109.7 623.08,110.04 623.55,110.3 624.01,110.21 624.47,110.12 624.93,110.72 625.4,110.88 625.86,110.38 626.32,111.17 626.78,111.16 627.25,111.47 627.71,110.48 628.17,110.16 628.63,110.45 629.1,109.31 629.56,109.27 630.02,108.85 630.49,108.6 630.95,108.04 631.41,108.25 631.87,108.34 632.34,107.93 632.8,107.71 633.26,107.29 633.72,107.66 634.19,107.22 634.65,107.23 635.11,106.32 635.57,106.77 636.04,106.23 636.5,106.6" stroke="#d6b41e" stroke-width="2.4" stroke-linejoin="round" stroke-linecap="round"/>
<circle cx="521.5" cy="19.79" r="1.1" fill="#d6b41e"/><circle cx="524.47" cy="21.15" r="1.1" fill="#d6b41e"/><circle cx="527.22" cy="24.87" r="1.1" fill="#d6b41e"/><circle cx="529.79" cy="28.64" r="1.1" fill="#d6b41e"/><circle cx="532.17" cy="31.84" r="1.1" fill="#d6b41e"/><circle cx="534.39" cy="35.82" r="1.1" fill="#d6b41e"/><circle cx="536.45" cy="37.8" r="1.1" fill="#d6b41e"/><circle cx="538.37" cy="40.63" r="1.1" fill="#d6b41e"/><circle cx="540.15" cy="42.84" r="1.1" fill="#d6b41e"/><circle cx="541.81" cy="46.39" r="1.1" fill="#d6b41e"/><circle cx="543.36" cy="49.66" r="1.1" fill="#d6b41e"/><circle cx="544.79" cy="51.25" r="1.1" fill="#d6b41e"/><circle cx="546.13" cy="52.81" r="1.1" fill="#d6b41e"/><circle cx="547.37" cy="53.61" r="1.1" fill="#d6b41e"/><circle cx="548.52" cy="56.4" r="1.1" fill="#d6b41e"/><circle cx="549.6" cy="57.28" r="1.1" fill="#d6b41e"/><circle cx="550.6" cy="57.3" r="1.1" fill="#d6b41e"/><circle cx="551.6" cy="58.82" r="1.1" fill="#d6b41e"/><circle cx="552.6" cy="61.12" r="1.1" fill="#d6b41e"/>
<polyline points="551.37,60.33 551.83,61.7 552.3,61.78 552.76,61.95 553.22,62.55 553.69,63.59 554.15,63.23 554.61,64.12 555.07,64.38 555.54,65.03 556,65.08 556.46,65.11 556.92,65.69 557.39,65.85 557.85,66.4 558.31,66.37 558.77,67.25 559.24,66.89 559.7,67.3 560.16,67.21 560.63,67.68 561.09,67.88 561.55,68.14 562.01,68.56 562.48,68.33 562.94,68.43 563.4,69.19 563.86,68.94 564.33,68.99 564.79,69.69 565.25,69.73 565.71,68.86 566.18,69.68 566.64,70.16 567.1,70.32 567.57,70.05 568.03,70.8 568.49,70.23 568.95,70.54 569.42,70.78 569.88,70.88 570.34,71.26 570.8,71.46 571.27,71.29 571.73,71.85 572.19,71.37 572.65,71.64 573.12,72.36 573.58,72.01 574.04,72.43 574.5,72.12 574.97,72.31 575.43,72.49 575.89,72.72 576.36,72.71 576.82,72.96 577.28,73.3 577.74,73.6 578.21,73.41 578.67,73.72 579.13,73.94 579.59,73.49 580.06,73.48 580.52,74.58 580.98,74.64 581.44,74.42 581.91,74.67 582.37,74.45 582.83,74.49 583.3,75.18 583.76,74.83 584.22,75.75 584.68,75.49 585.15,76 585.61,76.72 586.07,76.94 586.53,76.55 587,77.2 587.46,76.84 587.92,77.24 588.38,77.81 588.85,78.39 589.31,78.1 589.77,78.72 590.23,78.89 590.7,78.8 591.16,79.47 591.62,80.31 592.09,80.19 592.55,80.73 593.01,81.2 593.47,81.11 593.94,82.08 594.4,82.54 594.86,82.95 595.32,83.24 595.79,83.08 596.25,83.41 596.71,83.72 597.17,84.06 597.64,84.46 598.1,85.37 598.56,85.89 599.03,85.64 599.49,86.46 599.95,86.23 600.41,86.9 600.88,87.1 601.34,87.31 601.8,88.22 602.26,88.64 602.73,88.9 603.19,89.27 603.65,89.55 604.11,90.23 604.58,90.52 605.04,91.21 605.5,91.22 605.97,92.1 606.43,92.65 606.89,93.35 607.35,93.78 607.82,94.04 608.28,94.31 608.74,94.52 609.2,95.64 609.67,96.64 610.13,97.3 610.59,96.62 611.05,97.74 611.52,98.46 611.98,98.87 612.44,99.86 612.9,100.43 613.37,100.88 613.83,101.63 614.29,101.74 614.76,102.49 615.22,103.08 615.68,104.18 616.14,103.97 616.61,104.93 617.07,105.75 617.53,106 617.99,106.74 618.46,106.77 618.92,107.57 619.38,108.16 619.84,109 620.31,108.96 620.77,109.55 621.23,109.46 621.7,109.78 622.16,110.5 622.62,110.46 623.08,110.95 623.55,110.94 624.01,111.54 624.47,111.79 624.93,110.99 625.4,111.96 625.86,111.67 626.32,111.79 626.78,111.66 627.25,111.9 627.71,111.19 628.17,111.04 628.63,110.69 629.1,110.64 629.56,110.47 630.02,110.11 630.49,109.73 630.95,109.15 631.41,108.51 631.87,108.88 632.34,108.55 632.8,108.4 633.26,108.54 633.72,107.88 634.19,107.72 634.65,106.94 635.11,107.66 635.57,107.37 636.04,107.06 636.5,107.32" stroke="#e4801c" stroke-width="2.4" stroke-linejoin="round" stroke-linecap="round"/>
<circle cx="522.3" cy="20.13" r="1.1" fill="#e4801c"/><circle cx="525.21" cy="23.03" r="1.1" fill="#e4801c"/><circle cx="527.91" cy="27.77" r="1.1" fill="#e4801c"/><circle cx="530.43" cy="29.93" r="1.1" fill="#e4801c"/><circle cx="532.77" cy="33.98" r="1.1" fill="#e4801c"/><circle cx="534.95" cy="37.58" r="1.1" fill="#e4801c"/><circle cx="536.97" cy="40.46" r="1.1" fill="#e4801c"/><circle cx="538.85" cy="42.72" r="1.1" fill="#e4801c"/><circle cx="540.6" cy="46.96" r="1.1" fill="#e4801c"/><circle cx="542.23" cy="47.61" r="1.1" fill="#e4801c"/><circle cx="543.74" cy="50.63" r="1.1" fill="#e4801c"/><circle cx="545.15" cy="51.98" r="1.1" fill="#e4801c"/><circle cx="546.46" cy="53.71" r="1.1" fill="#e4801c"/><circle cx="547.68" cy="53.7" r="1.1" fill="#e4801c"/><circle cx="548.81" cy="55.61" r="1.1" fill="#e4801c"/><circle cx="549.86" cy="59.78" r="1.1" fill="#e4801c"/><circle cx="550.86" cy="61.1" r="1.1" fill="#e4801c"/><circle cx="551.86" cy="60.92" r="1.1" fill="#e4801c"/><circle cx="552.86" cy="62.35" r="1.1" fill="#e4801c"/>
<polyline points="551.37,61.89 551.83,62.02 552.3,63.41 552.76,63.05 553.22,63.59 553.69,63.39 554.15,65.07 554.61,65.01 555.07,65.84 555.54,65.39 556,66.12 556.46,66.36 556.92,66.7 557.39,67.55 557.85,67.89 558.31,67.9 558.77,67.64 559.24,68.29 559.7,68.67 560.16,68.68 560.63,68.92 561.09,69.12 561.55,68.92 562.01,69.47 562.48,70.07 562.94,69.48 563.4,69.98 563.86,70.38 564.33,69.88 564.79,70.41 565.25,70.09 565.71,70.56 566.18,70.47 566.64,70.76 567.1,71.02 567.57,71.22 568.03,71.37 568.49,70.84 568.95,72.18 569.42,71.75 569.88,71.64 570.34,71.92 570.8,72.35 571.27,72.09 571.73,72.41 572.19,72.53 572.65,72.96 573.12,72.71 573.58,73.21 574.04,73.31 574.5,73.3 574.97,73.85 575.43,73.62 575.89,73.4 576.36,73.99 576.82,74.08 577.28,74.18 577.74,74.4 578.21,75.18 578.67,74.68 579.13,74.89 579.59,74.82 580.06,75.43 580.52,75.17 580.98,75.1 581.44,75.13 581.91,75.81 582.37,76.04 582.83,75.52 583.3,75.96 583.76,76.56 584.22,76.88 584.68,76.38 585.15,76.88 585.61,77.48 586.07,77.31 586.53,77.58 587,77.81 587.46,77.85 587.92,78.52 588.38,78.88 588.85,78.65 589.31,79.39 589.77,79.99 590.23,80.02 590.7,80.55 591.16,80.44 591.62,81.36 592.09,81.07 592.55,82.24 593.01,81.91 593.47,82.21 593.94,82.54 594.4,83.06 594.86,83.42 595.32,83.73 595.79,84.21 596.25,84.88 596.71,85.31 597.17,85.32 597.64,86.16 598.1,85.87 598.56,86.23 599.03,86.58 599.49,87.49 599.95,87.23 600.41,87.67 600.88,88.87 601.34,89.41 601.8,89.7 602.26,89.26 602.73,90.12 603.19,90.77 603.65,90.97 604.11,90.88 604.58,91.69 605.04,91.72 605.5,92.3 605.97,93.77 606.43,93.8 606.89,93.63 607.35,94.11 607.82,95.21 608.28,95.43 608.74,96.34 609.2,96.54 609.67,97.25 610.13,97.97 610.59,98.17 611.05,98.49 611.52,99.3 611.98,100.07 612.44,100.83 612.9,101.5 613.37,102.11 613.83,102.89 614.29,103.04 614.76,104.3 615.22,105.04 615.68,105.11 616.14,105.61 616.61,106.46 617.07,106.8 617.53,107.16 617.99,107.54 618.46,107.84 618.92,108.18 619.38,109.19 619.84,109.78 620.31,109.52 620.77,110.19 621.23,110.62 621.7,110.72 622.16,110.9 622.62,111.26 623.08,111.02 623.55,111.8 624.01,111.91 624.47,112.8 624.93,112.62 625.4,112.39 625.86,112.63 626.32,113.25 626.78,113.27 627.25,112.83 627.71,112.58 628.17,111.91 628.63,111.91 629.1,111.59 629.56,111.07 630.02,111.5 630.49,110.14 630.95,110.37 631.41,110.25 631.87,109.98 632.34,110.1 632.8,108.96 633.26,108.97 633.72,109.05 634.19,108.9 634.65,108.6 635.11,108.35 635.57,108.79 636.04,108.05 636.5,108.12" stroke="#d63a2c" stroke-width="2.4" stroke-linejoin="round" stroke-linecap="round"/>
<circle cx="523.1" cy="23.81" r="1.1" fill="#d63a2c"/><circle cx="525.95" cy="26.63" r="1.1" fill="#d63a2c"/><circle cx="528.61" cy="28.74" r="1.1" fill="#d63a2c"/><circle cx="531.07" cy="30.69" r="1.1" fill="#d63a2c"/><circle cx="533.37" cy="34.69" r="1.1" fill="#d63a2c"/><circle cx="535.5" cy="38.18" r="1.1" fill="#d63a2c"/><circle cx="537.49" cy="40.83" r="1.1" fill="#d63a2c"/><circle cx="539.33" cy="43.98" r="1.1" fill="#d63a2c"/><circle cx="541.05" cy="47.9" r="1.1" fill="#d63a2c"/><circle cx="542.65" cy="49.56" r="1.1" fill="#d63a2c"/><circle cx="544.13" cy="51.09" r="1.1" fill="#d63a2c"/><circle cx="545.51" cy="53.11" r="1.1" fill="#d63a2c"/><circle cx="546.8" cy="54.58" r="1.1" fill="#d63a2c"/><circle cx="547.99" cy="58.09" r="1.1" fill="#d63a2c"/><circle cx="549.1" cy="56.98" r="1.1" fill="#d63a2c"/><circle cx="550.13" cy="60.18" r="1.1" fill="#d63a2c"/><circle cx="551.13" cy="60.2" r="1.1" fill="#d63a2c"/><circle cx="552.13" cy="61.81" r="1.1" fill="#d63a2c"/>
<polyline points="551.37,62.44 551.83,63.79 552.3,64.04 552.76,65.37 553.22,64.68 553.69,65.08 554.15,65.98 554.61,66.35 555.07,66.45 555.54,66.27 556,67.64 556.46,67.69 556.92,67.94 557.39,67.94 557.85,68.59 558.31,68.51 558.77,68.95 559.24,69.14 559.7,69.83 560.16,69.55 560.63,69.83 561.09,70.49 561.55,70.44 562.01,70.57 562.48,70.7 562.94,71.25 563.4,70.94 563.86,71.45 564.33,72.08 564.79,71.75 565.25,71.54 565.71,71.57 566.18,72.11 566.64,71.84 567.1,71.87 567.57,72.25 568.03,72.28 568.49,73.01 568.95,72.45 569.42,73.49 569.88,72.93 570.34,73.33 570.8,73.64 571.27,73.64 571.73,73.93 572.19,73.55 572.65,73.3 573.12,74.06 573.58,73.75 574.04,74.21 574.5,74.81 574.97,74.6 575.43,74.62 575.89,74.6 576.36,74.99 576.82,75.17 577.28,74.89 577.74,75.6 578.21,75.33 578.67,75.86 579.13,75.79 579.59,76.37 580.06,76.47 580.52,76.37 580.98,76.48 581.44,76.8 581.91,77.25 582.37,77.32 582.83,77.22 583.3,77.45 583.76,78.02 584.22,77.26 584.68,78.12 585.15,77.91 585.61,78.82 586.07,78.51 586.53,78.87 587,78.84 587.46,79.43 587.92,79.94 588.38,80.48 588.85,79.88 589.31,80.42 589.77,82.02 590.23,81.43 590.7,81.46 591.16,81.96 591.62,81.35 592.09,82.99 592.55,82.92 593.01,82.81 593.47,83.97 593.94,83.82 594.4,84.08 594.86,84.92 595.32,85.26 595.79,85.37 596.25,85.86 596.71,85.84 597.17,86.18 597.64,87.26 598.1,87.76 598.56,87.87 599.03,88.24 599.49,88.39 599.95,88.86 600.41,89.01 600.88,90.22 601.34,89.93 601.8,90.62 602.26,90.91 602.73,90.89 603.19,92.31 603.65,92.03 604.11,92.33 604.58,93.03 605.04,93.16 605.5,93.88 605.97,94.04 606.43,94.96 606.89,95.29 607.35,95.35 607.82,96.59 608.28,96.87 608.74,97.04 609.2,98.04 609.67,98.64 610.13,99.66 610.59,99.43 611.05,100.53 611.52,100.84 611.98,101.66 612.44,102.02 612.9,102.71 613.37,103.49 613.83,103.58 614.29,103.88 614.76,105.08 615.22,105.52 615.68,106.24 616.14,106.95 616.61,107.23 617.07,108.17 617.53,108.31 617.99,108.83 618.46,109.52 618.92,109.92 619.38,110.17 619.84,110.68 620.31,110.82 620.77,111.24 621.23,111.79 621.7,112.31 622.16,112.21 622.62,112.85 623.08,113.41 623.55,113.68 624.01,113.22 624.47,113.7 624.93,113.74 625.4,113.95 625.86,114.1 626.32,114.11 626.78,114.26 627.25,114.05 627.71,113.76 628.17,113.64 628.63,113.38 629.1,113.23 629.56,112.62 630.02,112.43 630.49,112.35 630.95,111.35 631.41,111.27 631.87,111.23 632.34,110.82 632.8,110.29 633.26,110.71 633.72,110.23 634.19,109.79 634.65,110.51 635.11,109.42 635.57,109.68 636.04,109.39 636.5,109.55" stroke="#b4449a" stroke-width="3.2" stroke-linejoin="round" stroke-linecap="round"/>
<circle cx="521.9" cy="23.43" r="1.1" fill="#b4449a"/><circle cx="524.84" cy="24.78" r="1.1" fill="#b4449a"/><circle cx="527.57" cy="28.05" r="1.1" fill="#b4449a"/><circle cx="530.11" cy="31.08" r="1.1" fill="#b4449a"/><circle cx="532.47" cy="34.21" r="1.1" fill="#b4449a"/><circle cx="534.67" cy="39.79" r="1.1" fill="#b4449a"/><circle cx="536.71" cy="42.04" r="1.1" fill="#b4449a"/><circle cx="538.61" cy="44.32" r="1.1" fill="#b4449a"/><circle cx="540.38" cy="46.57" r="1.1" fill="#b4449a"/><circle cx="542.02" cy="49.38" r="1.1" fill="#b4449a"/><circle cx="543.55" cy="52.17" r="1.1" fill="#b4449a"/><circle cx="544.97" cy="53.84" r="1.1" fill="#b4449a"/><circle cx="546.29" cy="57.08" r="1.1" fill="#b4449a"/><circle cx="547.52" cy="55.71" r="1.1" fill="#b4449a"/><circle cx="548.67" cy="57.56" r="1.1" fill="#b4449a"/><circle cx="549.73" cy="60.47" r="1.1" fill="#b4449a"/><circle cx="550.73" cy="60.56" r="1.1" fill="#b4449a"/><circle cx="551.73" cy="63.35" r="1.1" fill="#b4449a"/><circle cx="552.73" cy="64.04" r="1.1" fill="#b4449a"/>
<circle cx="477.3" cy="55.3" r="1.15" fill="#d84040"/>
<circle cx="487.0" cy="54.3" r="1.15" fill="#e88a28"/>
<circle cx="490.7" cy="47.7" r="1.15" fill="#eea030"/>
<circle cx="497.1" cy="37.4" r="1.15" fill="#d83c3c"/>
<circle cx="499.6" cy="32.6" r="1.15" fill="#b4449a"/>
<circle cx="501.0" cy="37.4" r="1.15" fill="#d6b41e"/>
<circle cx="502.0" cy="34.9" r="1.15" fill="#e4801c"/>
<circle cx="504.3" cy="31.1" r="1.15" fill="#eea030"/>
<circle cx="508.1" cy="24.2" r="1.15" fill="#d63a2c"/>
<circle cx="510.0" cy="25.1" r="1.15" fill="#b4449a"/>
<circle cx="511.8" cy="23.6" r="1.15" fill="#e4801c"/>
<circle cx="513.5" cy="20.5" r="1.15" fill="#d6b41e"/>
<circle cx="515.6" cy="19.0" r="1.15" fill="#d63a2c"/>
<circle cx="517.5" cy="21.5" r="1.15" fill="#b4449a"/>
<circle cx="519.5" cy="20.0" r="1.15" fill="#e4801c"/>
<circle cx="521.3" cy="18.5" r="1.15" fill="#d6b41e"/>
</g>
<g clip-path="url(#cp12)" fill="none">
<polyline points="476.2,277.6 476.68,277.32 477.17,277 477.65,276.63 478.14,276.23 478.62,275.79 479.11,275.33 479.59,274.84 480.07,274.32 480.56,273.76 481.04,273.15 481.53,272.49 482.01,271.78 482.5,271.03 482.98,270.23 483.46,269.4 483.95,268.53 484.43,267.62 484.92,266.67 485.4,265.63 485.89,264.52 486.37,263.33 486.85,262.08 487.34,260.79 487.82,259.45 488.31,258.09 488.79,256.7 489.28,255.29 489.76,253.82 490.24,252.28 490.73,250.69 491.21,249.06 491.7,247.41 492.18,245.73 492.67,244.06 493.15,242.38 493.63,240.64 494.12,238.85 494.6,237.03 495.09,235.22 495.57,233.45 496.06,231.76 496.54,230.17 497.02,228.7 497.51,227.31 497.99,225.97 498.48,224.66 498.96,223.37 499.45,222.07 499.93,220.74 500.41,219.35 500.9,217.9 501.38,216.39 501.87,214.85 502.35,213.3 502.84,211.74 503.32,210.2 503.8,208.7 504.29,207.24 504.77,205.8 505.26,204.39 505.74,202.99 506.23,201.6 506.71,200.22 507.19,198.83 507.68,197.43 508.16,196.03 508.65,194.63 509.13,193.26 509.62,191.92 510.1,190.64 510.58,189.37 511.07,188.11 511.55,186.89 512.04,185.74 512.52,184.67 513.01,183.7 513.49,182.75 513.97,181.85 514.46,181.01 514.94,180.28 515.43,179.68 515.91,179.2 516.4,178.74 516.88,178.32 517.36,177.95 517.85,177.68 518.33,177.52 518.82,177.51 519.32,177.61 519.84,177.8 520.35,178.06 520.87,178.38 521.38,178.71 521.9,179.06 522.41,179.41 522.93,179.81 523.44,180.26 523.96,180.77 524.47,181.31 524.99,181.88 525.51,182.45 526.02,183.03 526.54,183.59 527.05,184.15 527.57,184.72 528.08,185.29 528.6,185.88 529.11,186.47 529.63,187.07 530.14,187.68 530.66,188.3 531.17,188.93 531.69,189.57 532.21,190.23 532.72,190.9 533.24,191.58 533.75,192.29 534.25,193.04 534.73,193.82 535.21,194.63 535.7,195.46 536.18,196.3 536.67,197.15 537.15,197.99 537.64,198.82 538.12,199.64 538.6,200.43 539.09,201.19 539.57,201.95 540.06,202.7 540.54,203.46 541.03,204.21 541.51,204.95 541.99,205.68 542.48,206.41 542.96,207.13 543.45,207.83 543.93,208.52 544.42,209.2 544.9,209.85 545.38,210.49 545.87,211.11 546.35,211.71 546.84,212.3 547.32,212.88 547.81,213.46 548.29,214.02 548.77,214.58 549.26,215.12 549.74,215.66 550.23,216.18 550.71,216.69 551.19,217.18 551.68,217.66 552.16,218.12 552.65,218.57 553.13,219 553.62,219.41 554.1,219.81 554.58,220.2 555.07,220.57 555.55,220.93 556.04,221.29 556.52,221.63 557.01,221.97 557.49,222.29 557.97,222.61 558.46,222.92 558.94,223.23 559.43,223.53 559.91,223.82 560.4,224.11 560.88,224.39 561.36,224.66 561.85,224.93 562.33,225.19 562.82,225.44 563.3,225.68 563.79,225.92 564.27,226.16 564.75,226.4 565.24,226.63 565.72,226.87 566.21,227.1 566.69,227.34 567.18,227.58 567.66,227.82 568.14,228.05 568.63,228.28 569.11,228.52 569.6,228.75 570.08,228.98 570.57,229.21 571.05,229.43 571.53,229.66 572.02,229.89 572.5,230.11 572.99,230.33 573.47,230.55 573.96,230.76 574.44,230.97 574.92,231.18 575.41,231.39 575.89,231.59 576.38,231.8 576.86,232.01 577.35,232.23 577.83,232.45 578.31,232.67 578.8,232.9 579.28,233.13 579.77,233.37 580.25,233.6 580.74,233.84 581.22,234.08 581.7,234.32 582.19,234.57 582.67,234.83 583.16,235.1 583.64,235.38 584.13,235.67 584.61,235.97 585.09,236.29 585.58,236.64 586.06,237 586.55,237.38 587.03,237.77 587.52,238.16 588,238.56 588.48,238.96 588.97,239.36 589.45,239.75 589.94,240.13 590.42,240.5 590.91,240.85 591.39,241.21 591.87,241.56 592.36,241.91 592.84,242.26 593.33,242.63 593.81,243.01 594.3,243.4 594.78,243.81 595.26,244.25 595.75,244.72 596.23,245.21 596.72,245.72 597.2,246.25 597.69,246.8 598.17,247.36 598.65,247.93 599.14,248.51 599.62,249.09 600.11,249.68 600.59,250.28 601.08,250.9 601.56,251.55 602.04,252.23 602.53,252.94 603.01,253.71 603.5,254.52 603.98,255.37 604.47,256.27 604.95,257.2 605.43,258.17 605.92,259.21 606.4,260.3 606.89,261.44 607.37,262.61 607.86,263.8 608.34,264.99 608.82,266.21 609.31,267.46 609.79,268.74 610.28,270.06 610.76,271.45 611.25,272.95 611.73,274.46 612.21,275.89 612.7,277.19 613.18,278.43 613.67,279.6 614.15,280.68 614.64,281.67 615.12,282.59 615.6,283.46 616.09,284.27 616.57,285 617.06,285.65 617.54,286.22 618.03,286.75 618.51,287.23 618.99,287.63 619.48,287.94 619.96,288.21 620.45,288.45 620.93,288.66 621.42,288.81 621.9,288.9" stroke="#c4c4c4" stroke-width="1.7" stroke-linejoin="round"/>
<polyline points="514.46,181.01 514.94,180.28 515.43,179.68 515.91,179.2 516.4,178.74 516.88,178.32 517.36,177.95 517.85,177.68 518.33,177.52 518.82,177.51 519.28,177.63 519.74,177.85 520.2,178.15 520.65,178.49 521.11,178.86 521.57,179.24 522.02,179.61 522.48,180.04 522.94,180.53 523.39,181.07 523.85,181.64 524.31,182.24 524.76,182.85 525.22,183.45 525.68,184.05 526.13,184.64 526.59,185.24 527.05,185.84 527.5,186.46 527.96,187.08 528.42,187.71 528.87,188.35 529.33,189 529.79,189.66 530.24,190.34 530.7,191.03 531.16,191.73 531.61,192.44 532.07,193.18 532.55,193.94 533.03,194.72 533.51,195.53 534,196.36 534.48,197.2 534.97,198.05 535.45,198.89 535.94,199.72 536.42,200.54 536.9,201.33 537.39,202.09 537.87,202.85 538.36,203.6 538.84,204.36 539.33,205.11 539.81,205.85 540.29,206.58 540.78,207.31 541.26,208.03 541.75,208.73 542.23,209.42 542.72,210.1 543.2,210.75 543.68,211.39 544.17,212.01 544.65,212.61 545.14,213.2 545.62,213.78 546.11,214.36 546.59,214.92 547.07,215.48 547.56,216.02 548.04,216.56 548.53,217.08 549.01,217.59 549.49,218.08 549.98,218.56 550.46,219.02 550.95,219.47 551.43,219.9 551.92,220.31 552.4,220.71 552.88,221.1 553.37,221.47 553.85,221.83 554.34,222.19 554.82,222.53 555.31,222.87 555.79,223.19 556.27,223.51 556.76,223.82 557.24,224.13 557.73,224.43 558.21,224.72 558.7,225.01 559.18,225.29 559.66,225.56 560.15,225.83 560.63,226.09 561.12,226.34 561.6,226.58 562.09,226.82 562.57,227.06 563.05,227.3 563.54,227.53 564.02,227.77 564.51,228 564.99,228.24 565.48,228.48 565.96,228.72 566.44,228.95 566.93,229.18 567.41,229.42 567.9,229.65 568.38,229.88 568.87,230.11 569.35,230.33 569.83,230.56 570.32,230.79 570.8,231.01 571.29,231.23 571.77,231.45 572.26,231.66 572.74,231.87 573.22,232.08 573.71,232.29 574.19,232.49 574.68,232.7 575.16,232.91 575.65,233.13 576.13,233.35 576.61,233.57 577.1,233.8 577.58,234.03 578.07,234.27 578.55,234.5 579.04,234.74 579.52,234.98 580,235.22 580.49,235.47 580.97,235.73 581.46,236 581.94,236.28 582.43,236.57 582.91,236.87 583.39,237.19 583.88,237.54 584.36,237.9 584.85,238.28 585.33,238.67 585.82,239.06 586.3,239.46 586.78,239.86 587.27,240.26 587.75,240.65 588.24,241.03 588.72,241.4 589.21,241.75 589.69,242.11 590.17,242.46 590.66,242.81 591.14,243.16 591.63,243.53 592.11,243.91 592.6,244.3 593.08,244.71 593.56,245.15 594.05,245.62 594.53,246.11 595.02,246.62 595.5,247.15 595.99,247.7 596.47,248.26 596.95,248.83 597.44,249.41 597.92,249.99 598.41,250.58 598.89,251.18 599.38,251.8 599.86,252.45 600.34,253.13 600.83,253.84 601.31,254.61 601.8,255.42 602.28,256.27 602.77,257.17 603.25,258.1 603.73,259.07 604.22,260.11 604.7,261.2 605.19,262.34 605.67,263.51 606.16,264.7 606.64,265.89 607.12,267.11 607.61,268.36 608.09,269.64 608.58,270.96 609.06,272.35 609.55,273.85 610.03,275.36 610.51,276.79 611,278.09 611.48,279.33 611.97,280.5 612.45,281.58 612.94,282.57 613.42,283.49 613.9,284.36 614.39,285.17 614.87,285.9 615.36,286.55 615.84,287.12 616.33,287.65 616.81,288.13 617.29,288.53 617.78,288.84 618.26,289.11 618.75,289.35 619.23,289.56 619.72,289.71 620.2,289.8" stroke="#9c9c9c" stroke-width="1.0" stroke-linejoin="round"/>
<polyline points="550.1,213.83 550.56,214.27 551.02,215.01 551.48,215.33 551.94,215.84 552.4,216 552.86,216.53 553.32,216.72 553.78,216.73 554.24,216.86 554.71,217.19 555.17,218 555.63,217.43 556.09,218.49 556.55,218.48 557.01,219.19 557.47,219.29 557.93,219.25 558.39,219.72 558.85,219.26 559.31,220.25 559.77,220.52 560.23,220.04 560.69,221.05 561.15,220.95 561.62,221.23 562.08,220.94 562.54,221.73 563,221.91 563.46,221.91 563.92,221.8 564.38,222.5 564.84,222.83 565.3,222.75 565.76,223.11 566.22,222.8 566.68,223.19 567.14,223.41 567.6,223.5 568.06,224.47 568.52,223.9 568.99,223.77 569.45,224.34 569.91,223.93 570.37,224.53 570.83,224.81 571.29,224.6 571.75,224.83 572.21,224.83 572.67,225.33 573.13,225.27 573.59,226.18 574.05,226.04 574.51,225.96 574.97,225.79 575.43,227.02 575.9,227 576.36,226.95 576.82,227.07 577.28,227.27 577.74,227.28 578.2,228.21 578.66,227.92 579.12,227.65 579.58,228.12 580.04,227.78 580.5,229 580.96,229.28 581.42,229.85 581.88,230.22 582.34,229.64 582.8,230.3 583.27,230.76 583.73,231 584.19,230.92 584.65,231.62 585.11,231.84 585.57,232.42 586.03,232.32 586.49,232.58 586.95,232.81 587.41,233.17 587.87,233.37 588.33,233.82 588.79,234.38 589.25,234.68 589.71,235.24 590.18,235.47 590.64,235.62 591.1,235.38 591.56,236.19 592.02,236.66 592.48,236.21 592.94,236.56 593.4,236.9 593.86,237.17 594.32,237.68 594.78,237.78 595.24,238.48 595.7,238.3 596.16,238.92 596.62,239.12 597.08,239.28 597.55,240.19 598.01,240.18 598.47,240.62 598.93,240.63 599.39,241.22 599.85,241.48 600.31,241.53 600.77,241.32 601.23,242.4 601.69,242.66 602.15,242.82 602.61,243.17 603.07,243.48 603.53,243.86 603.99,243.89 604.46,244.58 604.92,245.13 605.38,245.32 605.84,245.76 606.3,247.23 606.76,247.54 607.22,248.01 607.68,248.73 608.14,248.9 608.6,250.09 609.06,251.28 609.52,252.57 609.98,252.37 610.44,253.59 610.9,255.22 611.36,255.71 611.83,256.52 612.29,257.66 612.75,258.16 613.21,259.04 613.67,260.19 614.13,261.1 614.59,261.37 615.05,262.95 615.51,262.74 615.97,263.81 616.43,265.69 616.89,265.34 617.35,266.39 617.81,266.58 618.27,267.44 618.73,267.95 619.2,268.66 619.66,269.64 620.12,270.66 620.58,271.09 621.04,271.94 621.5,271.88 621.96,272.91 622.42,272.91 622.88,273.23 623.34,272.66 623.8,272.64 624.26,273 624.72,272.63 625.18,272.31 625.64,271.88 626.11,271.86 626.57,271.84 627.03,271.72 627.49,271.14 627.95,270.98 628.41,270.96 628.87,270.23 629.33,270.57 629.79,269.99 630.25,269.65 630.71,268.66 631.17,268.59 631.63,268.44 632.09,268.27 632.55,267.79 633.01,267.91 633.48,267.5 633.94,267.04 634.4,266.16 634.86,266.83 635.32,265.96 635.78,265.84 636.24,265.09 636.7,264.9" stroke="#3448d4" stroke-width="3.0" stroke-linejoin="round" stroke-linecap="round"/>
<circle cx="523.5" cy="176.06" r="1.1" fill="#3448d4"/><circle cx="526.33" cy="179.25" r="1.1" fill="#3448d4"/><circle cx="528.95" cy="183.34" r="1.1" fill="#3448d4"/><circle cx="531.4" cy="186.43" r="1.1" fill="#3448d4"/><circle cx="533.67" cy="191.49" r="1.1" fill="#3448d4"/><circle cx="535.78" cy="192.84" r="1.1" fill="#3448d4"/><circle cx="537.75" cy="196.85" r="1.1" fill="#3448d4"/><circle cx="539.57" cy="200.57" r="1.1" fill="#3448d4"/><circle cx="541.27" cy="202.32" r="1.1" fill="#3448d4"/><circle cx="542.85" cy="204.41" r="1.1" fill="#3448d4"/><circle cx="544.32" cy="205.58" r="1.1" fill="#3448d4"/><circle cx="545.69" cy="209.12" r="1.1" fill="#3448d4"/><circle cx="546.96" cy="208.81" r="1.1" fill="#3448d4"/><circle cx="548.15" cy="211.68" r="1.1" fill="#3448d4"/><circle cx="549.25" cy="212.79" r="1.1" fill="#3448d4"/><circle cx="550.27" cy="214.34" r="1.1" fill="#3448d4"/><circle cx="551.27" cy="215.71" r="1.1" fill="#3448d4"/>
<polyline points="550.27,211.01 550.74,211.48 551.2,212.11 551.67,212.17 552.13,213.41 552.6,213.51 553.06,214.14 553.53,214.2 553.99,214.97 554.46,215.18 554.92,215.72 555.38,215.76 555.85,216.71 556.31,216.48 556.78,216.16 557.24,217.37 557.71,217.32 558.17,217.36 558.64,218.59 559.1,218.03 559.57,217.83 560.03,218.23 560.5,218.71 560.96,218.7 561.43,219.31 561.89,219.42 562.35,219.03 562.82,219.44 563.28,219.78 563.75,219.61 564.21,219.75 564.68,220.29 565.14,220.3 565.61,219.88 566.07,220.27 566.54,220.44 567,220.66 567.47,220.6 567.93,221.34 568.4,220.77 568.86,220.86 569.32,221.37 569.79,220.76 570.25,221.25 570.72,221.87 571.18,221.4 571.65,221.66 572.11,222.36 572.58,222.29 573.04,222.29 573.51,222.46 573.97,222.3 574.44,222.71 574.9,222.67 575.37,223.59 575.83,223.12 576.29,222.97 576.76,223.17 577.22,223.31 577.69,223 578.15,223.28 578.62,224.1 579.08,223.34 579.55,223.7 580.01,224.3 580.48,224.56 580.94,223.91 581.41,224.77 581.87,224.34 582.33,225.06 582.8,224.82 583.26,224.71 583.73,225.13 584.19,225.19 584.66,224.91 585.12,225.91 585.59,225.28 586.05,225.86 586.52,225.49 586.98,225.21 587.45,225.55 587.91,225.99 588.38,226.35 588.84,226.8 589.3,226.43 589.77,226.45 590.23,226.3 590.7,226.79 591.16,227.03 591.63,226.42 592.09,227.61 592.56,227.7 593.02,228.19 593.49,227.36 593.95,227.77 594.42,227.88 594.88,227.59 595.35,227.86 595.81,227.96 596.27,228.56 596.74,228.71 597.2,229.2 597.67,228.91 598.13,228.99 598.6,230.09 599.06,230.73 599.53,231.58 599.99,232.57 600.46,232.86 600.92,234.1 601.39,234.38 601.85,235.6 602.32,236.69 602.78,237.42 603.24,238.51 603.71,239.04 604.17,240.28 604.64,241.54 605.1,242.13 605.57,243.21 606.03,245.19 606.5,245.53 606.96,246.2 607.43,247.14 607.89,248.87 608.36,248.62 608.82,250.35 609.29,251.63 609.75,252.27 610.21,253.59 610.68,254.13 611.14,255.47 611.61,256.54 612.07,257.57 612.54,258.65 613,259.64 613.47,260.97 613.93,261.52 614.4,262.34 614.86,263.31 615.33,264.11 615.79,264.52 616.26,265.15 616.72,266.03 617.18,267.21 617.65,267.57 618.11,268.27 618.58,269.83 619.04,269.85 619.51,269.98 619.97,270.38 620.44,271.51 620.9,271.35 621.37,272.41 621.83,272.6 622.3,273.15 622.76,272.73 623.22,273.37 623.69,272.69 624.15,273.31 624.62,273.8 625.08,273.79 625.55,273.12 626.01,273.96 626.48,273.96 626.94,273.86 627.41,273.7 627.87,273.87 628.34,273.8 628.8,274.28 629.27,274.15 629.73,274.35 630.19,274.25 630.66,273.67 631.12,274.11 631.59,274.73 632.05,273.77 632.52,274.19 632.98,273.89 633.45,273.86 633.91,274.2 634.38,274.42 634.84,274.38 635.31,274.29 635.77,274.44 636.24,273.67 636.7,274.4" stroke="#7a30c6" stroke-width="3.0" stroke-linejoin="round" stroke-linecap="round"/>
<circle cx="523.2" cy="173.46" r="1.1" fill="#7a30c6"/><circle cx="526.05" cy="176.36" r="1.1" fill="#7a30c6"/><circle cx="528.69" cy="179.73" r="1.1" fill="#7a30c6"/><circle cx="531.15" cy="182.63" r="1.1" fill="#7a30c6"/><circle cx="533.44" cy="187.69" r="1.1" fill="#7a30c6"/><circle cx="535.57" cy="190.27" r="1.1" fill="#7a30c6"/><circle cx="537.55" cy="192.94" r="1.1" fill="#7a30c6"/><circle cx="539.39" cy="196.57" r="1.1" fill="#7a30c6"/><circle cx="541.11" cy="198.72" r="1.1" fill="#7a30c6"/><circle cx="542.7" cy="201.33" r="1.1" fill="#7a30c6"/><circle cx="544.18" cy="204.37" r="1.1" fill="#7a30c6"/><circle cx="545.56" cy="205.25" r="1.1" fill="#7a30c6"/><circle cx="546.84" cy="207.07" r="1.1" fill="#7a30c6"/><circle cx="548.03" cy="209.86" r="1.1" fill="#7a30c6"/><circle cx="549.14" cy="209" r="1.1" fill="#7a30c6"/><circle cx="550.17" cy="211.25" r="1.1" fill="#7a30c6"/><circle cx="551.17" cy="212.79" r="1.1" fill="#7a30c6"/>
<polyline points="550.46,206.94 550.93,207.63 551.4,207.21 551.87,208.03 552.34,208.23 552.81,208.52 553.28,208.84 553.74,209 554.21,209.92 554.68,210.41 555.15,210.22 555.62,211.11 556.09,211.05 556.56,211.23 557.03,211.06 557.49,212.48 557.96,212.65 558.43,212.62 558.9,212.87 559.37,212.86 559.84,213.67 560.31,213.75 560.77,214.17 561.24,214.3 561.71,214.06 562.18,214.24 562.65,215.06 563.12,214.63 563.59,215.44 564.06,215.84 564.52,215.38 564.99,216.17 565.46,216.17 565.93,216.5 566.4,216.33 566.87,216.69 567.34,216.99 567.8,217.58 568.27,217.41 568.74,217.5 569.21,217.12 569.68,217.77 570.15,217.63 570.62,217.97 571.09,218.24 571.55,218.61 572.02,218.67 572.49,218.72 572.96,218.82 573.43,219.42 573.9,218.92 574.37,219.37 574.83,219.95 575.3,219.66 575.77,220.14 576.24,220.34 576.71,220.84 577.18,220.76 577.65,220.1 578.12,220.78 578.58,221.04 579.05,221.38 579.52,221.42 579.99,222.05 580.46,221.99 580.93,221.47 581.4,221.8 581.87,221.53 582.33,222.84 582.8,222.43 583.27,222.59 583.74,222.32 584.21,222.82 584.68,223.25 585.15,223.17 585.61,223.35 586.08,223.46 586.55,224.43 587.02,223.86 587.49,223.79 587.96,224.28 588.43,224.55 588.9,224.85 589.36,225.04 589.83,225.01 590.3,225.54 590.77,225.97 591.24,225.69 591.71,226.99 592.18,227.18 592.64,226.4 593.11,227.13 593.58,227.85 594.05,228.26 594.52,228.71 594.99,227.93 595.46,228.48 595.93,228.99 596.39,229.66 596.86,229.51 597.33,230.33 597.8,230.71 598.27,231.18 598.74,230.97 599.21,231.83 599.67,232.22 600.14,232.51 600.61,233.49 601.08,233.46 601.55,234.46 602.02,234.32 602.49,235.51 602.96,235.99 603.42,235.74 603.89,236.61 604.36,237.12 604.83,237.25 605.3,238.31 605.77,238.81 606.24,238.93 606.7,239.82 607.17,240.67 607.64,240.98 608.11,241.45 608.58,242.81 609.05,242.66 609.52,243.72 609.99,244.61 610.45,245.15 610.92,244.99 611.39,246.08 611.86,246.76 612.33,247.34 612.8,248.2 613.27,248.77 613.73,249.25 614.2,249.89 614.67,250.72 615.14,251.38 615.61,251.01 616.08,252.84 616.55,252.58 617.02,253.56 617.48,253.39 617.95,254.28 618.42,254.61 618.89,255.91 619.36,256.44 619.83,256.77 620.3,257.33 620.77,258.1 621.23,258.29 621.7,258.97 622.17,259.48 622.64,260.5 623.11,260.76 623.58,260.83 624.05,261.74 624.51,262.16 624.98,262.74 625.45,262.4 625.92,262.94 626.39,263.69 626.86,263.15 627.33,263.29 627.8,263.64 628.26,263.31 628.73,263.3 629.2,262.85 629.67,262.39 630.14,262.49 630.61,261.69 631.08,261.13 631.54,260.98 632.01,260.64 632.48,260.37 632.95,260.15 633.42,260.01 633.89,258.71 634.36,258.64 634.83,257.8 635.29,258.07 635.76,257.82 636.23,257.12 636.7,256.71" stroke="#2a98ae" stroke-width="3.0" stroke-linejoin="round" stroke-linecap="round"/>
<circle cx="522.9" cy="171.48" r="1.1" fill="#2a98ae"/><circle cx="525.77" cy="173.84" r="1.1" fill="#2a98ae"/><circle cx="528.43" cy="178.33" r="1.1" fill="#2a98ae"/><circle cx="530.91" cy="182.35" r="1.1" fill="#2a98ae"/><circle cx="533.22" cy="183.74" r="1.1" fill="#2a98ae"/><circle cx="535.36" cy="188.47" r="1.1" fill="#2a98ae"/><circle cx="537.36" cy="190.25" r="1.1" fill="#2a98ae"/><circle cx="539.21" cy="192.06" r="1.1" fill="#2a98ae"/><circle cx="540.94" cy="195.54" r="1.1" fill="#2a98ae"/><circle cx="542.54" cy="197.72" r="1.1" fill="#2a98ae"/><circle cx="544.03" cy="199.36" r="1.1" fill="#2a98ae"/><circle cx="545.42" cy="200.63" r="1.1" fill="#2a98ae"/><circle cx="546.71" cy="203.3" r="1.1" fill="#2a98ae"/><circle cx="547.91" cy="203.51" r="1.1" fill="#2a98ae"/><circle cx="549.03" cy="205.33" r="1.1" fill="#2a98ae"/><circle cx="550.07" cy="206.47" r="1.1" fill="#2a98ae"/><circle cx="551.07" cy="206.54" r="1.1" fill="#2a98ae"/>
<polyline points="550.2,203.68 550.67,204.15 551.14,204.99 551.62,205.64 552.09,205.41 552.56,206.15 553.03,207.25 553.51,206.65 553.98,207.73 554.45,208.09 554.92,208.61 555.4,208.3 555.87,209.22 556.34,209.06 556.82,210.24 557.29,209.92 557.76,210.63 558.23,210.61 558.71,211.22 559.18,211.03 559.65,211.9 560.12,212.31 560.6,212.42 561.07,213.22 561.54,213.13 562.01,213.55 562.49,213.75 562.96,214.44 563.43,213.95 563.91,214.34 564.38,214.62 564.85,215.13 565.32,215.28 565.8,215.7 566.27,215.79 566.74,215.78 567.21,216.16 567.69,216.55 568.16,215.95 568.63,217.3 569.11,216.93 569.58,217.21 570.05,217.62 570.52,217.68 571,217.53 571.47,218.12 571.94,218.82 572.41,218.92 572.89,219.17 573.36,218.82 573.83,219.12 574.3,219.69 574.78,220.02 575.25,219.76 575.72,219.64 576.2,219.54 576.67,220.75 577.14,220.04 577.61,220.83 578.09,221.17 578.56,222.1 579.03,221.36 579.5,221.48 579.98,221.86 580.45,222.08 580.92,222.54 581.4,222.55 581.87,222.31 582.34,222.1 582.81,223.05 583.29,222.97 583.76,223.83 584.23,223.21 584.7,223.9 585.18,223.84 585.65,224.03 586.12,225.05 586.59,224.84 587.07,224.98 587.54,225.52 588.01,225.31 588.49,225.71 588.96,225.9 589.43,226.98 589.9,226.76 590.38,227.14 590.85,227.58 591.32,227.47 591.79,227.78 592.27,227.63 592.74,228.6 593.21,228.85 593.69,228.97 594.16,229.79 594.63,229.2 595.1,230.22 595.58,230.01 596.05,230.43 596.52,231.07 596.99,231.91 597.47,231.49 597.94,231.92 598.41,232.23 598.88,233.62 599.36,233.55 599.83,233.92 600.3,234.85 600.78,234.7 601.25,234.4 601.72,235.33 602.19,235.56 602.67,237.02 603.14,236.41 603.61,237.42 604.08,237.65 604.56,238.17 605.03,238.82 605.5,239.29 605.98,239.67 606.45,240.08 606.92,240.86 607.39,241.36 607.87,242.04 608.34,243 608.81,243.58 609.28,244.44 609.76,244.88 610.23,246.21 610.7,246.04 611.17,246.6 611.65,247.86 612.12,247.93 612.59,248.8 613.07,249.68 613.54,249.96 614.01,250.49 614.48,251.51 614.96,251.92 615.43,252.24 615.9,252.63 616.37,253.47 616.85,253.64 617.32,254.44 617.79,254.92 618.27,255.89 618.74,256.59 619.21,256.73 619.68,257.38 620.16,257.76 620.63,258.26 621.1,259.13 621.57,260 622.05,260.51 622.52,261.06 622.99,261.26 623.46,260.92 623.94,262.44 624.41,262.88 624.88,263.01 625.36,263.19 625.83,263.41 626.3,264.05 626.77,263.44 627.25,263.92 627.72,263.74 628.19,263.69 628.66,263.3 629.14,262.96 629.61,262.36 630.08,262.48 630.56,261.78 631.03,261.1 631.5,260.82 631.97,260.21 632.45,260.57 632.92,259.48 633.39,259.09 633.86,258.24 634.34,257.9 634.81,258.18 635.28,257.44 635.75,257.25 636.23,257.45 636.7,257.25" stroke="#7ab35c" stroke-width="3.0" stroke-linejoin="round" stroke-linecap="round"/>
<circle cx="522.6" cy="170.53" r="1.1" fill="#7ab35c"/><circle cx="525.49" cy="173.43" r="1.1" fill="#7ab35c"/><circle cx="528.17" cy="176.58" r="1.1" fill="#7ab35c"/><circle cx="530.67" cy="179.58" r="1.1" fill="#7ab35c"/><circle cx="532.99" cy="184.34" r="1.1" fill="#7ab35c"/><circle cx="535.16" cy="185.37" r="1.1" fill="#7ab35c"/><circle cx="537.16" cy="188.93" r="1.1" fill="#7ab35c"/><circle cx="539.03" cy="190.34" r="1.1" fill="#7ab35c"/><circle cx="540.77" cy="193.04" r="1.1" fill="#7ab35c"/><circle cx="542.39" cy="196.15" r="1.1" fill="#7ab35c"/><circle cx="543.89" cy="198.01" r="1.1" fill="#7ab35c"/><circle cx="545.29" cy="199.53" r="1.1" fill="#7ab35c"/><circle cx="546.59" cy="200.51" r="1.1" fill="#7ab35c"/><circle cx="547.8" cy="201.51" r="1.1" fill="#7ab35c"/><circle cx="548.92" cy="202.72" r="1.1" fill="#7ab35c"/><circle cx="549.97" cy="203.81" r="1.1" fill="#7ab35c"/><circle cx="550.97" cy="205.65" r="1.1" fill="#7ab35c"/><circle cx="551.97" cy="206.78" r="1.1" fill="#7ab35c"/>
<circle cx="480.2" cy="203.8" r="1.15" fill="#7a30c6"/>
<circle cx="492.0" cy="196.2" r="1.15" fill="#7ab35c"/>
<circle cx="493.0" cy="189.2" r="1.15" fill="#2a98ae"/>
<circle cx="499.0" cy="185.5" r="1.15" fill="#7a30c6"/>
<circle cx="503.4" cy="181.7" r="1.15" fill="#3448d4"/>
<circle cx="504.7" cy="177.9" r="1.15" fill="#7ab35c"/>
<circle cx="505.8" cy="176.6" r="1.15" fill="#2a98ae"/>
<circle cx="508.6" cy="177.9" r="1.15" fill="#7a30c6"/>
<circle cx="511.8" cy="174.2" r="1.15" fill="#3448d4"/>
<circle cx="512.8" cy="168.5" r="1.15" fill="#7ab35c"/>
<circle cx="513.7" cy="168.8" r="1.15" fill="#2a98ae"/>
<circle cx="515.6" cy="171.7" r="1.15" fill="#7a30c6"/>
<circle cx="517.9" cy="172.8" r="1.15" fill="#3448d4"/>
<circle cx="518.5" cy="166.0" r="1.15" fill="#7ab35c"/>
<circle cx="520.9" cy="170.4" r="1.15" fill="#7a30c6"/>
<circle cx="523.2" cy="169.0" r="1.15" fill="#7ab35c"/>
<circle cx="522.2" cy="173.6" r="1.15" fill="#3448d4"/>
</g>
<rect x="33.5" y="4.5" width="173.8" height="135" fill="none" stroke="#333" stroke-width="1"/>
<rect x="255.2" y="4.5" width="173.2" height="135" fill="none" stroke="#333" stroke-width="1"/>
<rect x="476.2" y="4.5" width="173.8" height="135" fill="none" stroke="#333" stroke-width="1"/>
<line x1="30.5" y1="139.5" x2="33.5" y2="139.5" stroke="#333" stroke-width="1.0"/>
<text x="29.5" y="143.2" text-anchor="end" style="font-family:'Liberation Serif',serif;font-size:10.8px" fill="#000" >0</text>
<line x1="30.5" y1="120.21" x2="33.5" y2="120.21" stroke="#333" stroke-width="1.0"/>
<text x="29.5" y="123.91" text-anchor="end" style="font-family:'Liberation Serif',serif;font-size:10.8px" fill="#000" >4</text>
<line x1="30.5" y1="100.93" x2="33.5" y2="100.93" stroke="#333" stroke-width="1.0"/>
<text x="29.5" y="104.63" text-anchor="end" style="font-family:'Liberation Serif',serif;font-size:10.8px" fill="#000" >8</text>
<line x1="30.5" y1="81.64" x2="33.5" y2="81.64" stroke="#333" stroke-width="1.0"/>
<text x="29.5" y="85.34" text-anchor="end" style="font-family:'Liberation Serif',serif;font-size:10.8px" fill="#000" >12</text>
<line x1="30.5" y1="62.36" x2="33.5" y2="62.36" stroke="#333" stroke-width="1.0"/>
<text x="29.5" y="66.06" text-anchor="end" style="font-family:'Liberation Serif',serif;font-size:10.8px" fill="#000" >16</text>
<line x1="30.5" y1="43.07" x2="33.5" y2="43.07" stroke="#333" stroke-width="1.0"/>
<text x="29.5" y="46.77" text-anchor="end" style="font-family:'Liberation Serif',serif;font-size:10.8px" fill="#000" >20</text>
<line x1="30.5" y1="23.79" x2="33.5" y2="23.79" stroke="#333" stroke-width="1.0"/>
<text x="29.5" y="27.49" text-anchor="end" style="font-family:'Liberation Serif',serif;font-size:10.8px" fill="#000" >24</text>
<line x1="30.5" y1="4.5" x2="33.5" y2="4.5" stroke="#333" stroke-width="1.0"/>
<text x="29.5" y="8.2" text-anchor="end" style="font-family:'Liberation Serif',serif;font-size:10.8px" fill="#000" >28</text>
<line x1="252.2" y1="133.36" x2="255.2" y2="133.36" stroke="#333" stroke-width="1.0"/>
<text x="250.6" y="137.06" text-anchor="end" style="font-family:'Liberation Serif',serif;font-size:10.8px" fill="#000" >24.0</text>
<line x1="252.2" y1="102.68" x2="255.2" y2="102.68" stroke="#333" stroke-width="1.0"/>
<text x="250.6" y="106.38" text-anchor="end" style="font-family:'Liberation Serif',serif;font-size:10.8px" fill="#000" >24.5</text>
<line x1="252.2" y1="72" x2="255.2" y2="72" stroke="#333" stroke-width="1.0"/>
<text x="250.6" y="75.7" text-anchor="end" style="font-family:'Liberation Serif',serif;font-size:10.8px" fill="#000" >25.0</text>
<line x1="252.2" y1="41.32" x2="255.2" y2="41.32" stroke="#333" stroke-width="1.0"/>
<text x="250.6" y="45.02" text-anchor="end" style="font-family:'Liberation Serif',serif;font-size:10.8px" fill="#000" >25.5</text>
<line x1="252.2" y1="10.64" x2="255.2" y2="10.64" stroke="#333" stroke-width="1.0"/>
<text x="250.6" y="14.34" text-anchor="end" style="font-family:'Liberation Serif',serif;font-size:10.8px" fill="#000" >26.0</text>
<line x1="473.2" y1="139.5" x2="476.2" y2="139.5" stroke="#333" stroke-width="1.0"/>
<text x="472.2" y="143.2" text-anchor="end" style="font-family:'Liberation Serif',serif;font-size:10.8px" fill="#000" >0</text>
<line x1="473.2" y1="112.5" x2="476.2" y2="112.5" stroke="#333" stroke-width="1.0"/>
<text x="472.2" y="116.2" text-anchor="end" style="font-family:'Liberation Serif',serif;font-size:10.8px" fill="#000" >2</text>
<line x1="473.2" y1="85.5" x2="476.2" y2="85.5" stroke="#333" stroke-width="1.0"/>
<text x="472.2" y="89.2" text-anchor="end" style="font-family:'Liberation Serif',serif;font-size:10.8px" fill="#000" >4</text>
<line x1="473.2" y1="58.5" x2="476.2" y2="58.5" stroke="#333" stroke-width="1.0"/>
<text x="472.2" y="62.2" text-anchor="end" style="font-family:'Liberation Serif',serif;font-size:10.8px" fill="#000" >6</text>
<line x1="473.2" y1="31.5" x2="476.2" y2="31.5" stroke="#333" stroke-width="1.0"/>
<text x="472.2" y="35.2" text-anchor="end" style="font-family:'Liberation Serif',serif;font-size:10.8px" fill="#000" >8</text>
<line x1="473.2" y1="4.5" x2="476.2" y2="4.5" stroke="#333" stroke-width="1.0"/>
<text x="472.2" y="8.2" text-anchor="end" style="font-family:'Liberation Serif',serif;font-size:10.8px" fill="#000" >10</text>
<line x1="33.95" y1="139.5" x2="33.95" y2="142.8" stroke="#2a2a2a" stroke-width="1.0"/>
<line x1="42.4" y1="139.5" x2="42.4" y2="141.8" stroke="#2a2a2a" stroke-width="1.0"/>
<line x1="48.4" y1="139.5" x2="48.4" y2="141.8" stroke="#2a2a2a" stroke-width="1.0"/>
<line x1="53.05" y1="139.5" x2="53.05" y2="142.8" stroke="#2a2a2a" stroke-width="1.0"/>
<line x1="56.85" y1="139.5" x2="56.85" y2="141.8" stroke="#2a2a2a" stroke-width="1.0"/>
<line x1="60.06" y1="139.5" x2="60.06" y2="141.8" stroke="#2a2a2a" stroke-width="1.0"/>
<line x1="62.85" y1="139.5" x2="62.85" y2="141.8" stroke="#2a2a2a" stroke-width="1.0"/>
<line x1="65.3" y1="139.5" x2="65.3" y2="141.8" stroke="#2a2a2a" stroke-width="1.0"/>
<line x1="67.5" y1="139.5" x2="67.5" y2="142.8" stroke="#2a2a2a" stroke-width="1.0"/>
<line x1="81.95" y1="139.5" x2="81.95" y2="141.8" stroke="#2a2a2a" stroke-width="1.0"/>
<line x1="90.4" y1="139.5" x2="90.4" y2="141.8" stroke="#2a2a2a" stroke-width="1.0"/>
<line x1="96.4" y1="139.5" x2="96.4" y2="141.8" stroke="#2a2a2a" stroke-width="1.0"/>
<line x1="101.05" y1="139.5" x2="101.05" y2="141.8" stroke="#2a2a2a" stroke-width="1.0"/>
<line x1="104.85" y1="139.5" x2="104.85" y2="141.8" stroke="#2a2a2a" stroke-width="1.0"/>
<line x1="108.06" y1="139.5" x2="108.06" y2="141.8" stroke="#2a2a2a" stroke-width="1.0"/>
<line x1="110.85" y1="139.5" x2="110.85" y2="141.8" stroke="#2a2a2a" stroke-width="1.0"/>
<line x1="113.3" y1="139.5" x2="113.3" y2="141.8" stroke="#2a2a2a" stroke-width="1.0"/>
<line x1="115.5" y1="139.5" x2="115.5" y2="142.8" stroke="#2a2a2a" stroke-width="1.0"/>
<line x1="129.95" y1="139.5" x2="129.95" y2="141.8" stroke="#2a2a2a" stroke-width="1.0"/>
<line x1="138.4" y1="139.5" x2="138.4" y2="141.8" stroke="#2a2a2a" stroke-width="1.0"/>
<line x1="144.4" y1="139.5" x2="144.4" y2="141.8" stroke="#2a2a2a" stroke-width="1.0"/>
<line x1="149.05" y1="139.5" x2="149.05" y2="141.8" stroke="#2a2a2a" stroke-width="1.0"/>
<line x1="152.85" y1="139.5" x2="152.85" y2="141.8" stroke="#2a2a2a" stroke-width="1.0"/>
<line x1="156.06" y1="139.5" x2="156.06" y2="141.8" stroke="#2a2a2a" stroke-width="1.0"/>
<line x1="158.85" y1="139.5" x2="158.85" y2="141.8" stroke="#2a2a2a" stroke-width="1.0"/>
<line x1="161.3" y1="139.5" x2="161.3" y2="141.8" stroke="#2a2a2a" stroke-width="1.0"/>
<line x1="163.5" y1="139.5" x2="163.5" y2="142.8" stroke="#2a2a2a" stroke-width="1.0"/>
<line x1="177.95" y1="139.5" x2="177.95" y2="141.8" stroke="#2a2a2a" stroke-width="1.0"/>
<line x1="186.4" y1="139.5" x2="186.4" y2="141.8" stroke="#2a2a2a" stroke-width="1.0"/>
<line x1="192.4" y1="139.5" x2="192.4" y2="141.8" stroke="#2a2a2a" stroke-width="1.0"/>
<line x1="197.05" y1="139.5" x2="197.05" y2="142.8" stroke="#2a2a2a" stroke-width="1.0"/>
<line x1="200.85" y1="139.5" x2="200.85" y2="141.8" stroke="#2a2a2a" stroke-width="1.0"/>
<line x1="204.06" y1="139.5" x2="204.06" y2="141.8" stroke="#2a2a2a" stroke-width="1.0"/>
<line x1="206.85" y1="139.5" x2="206.85" y2="141.8" stroke="#2a2a2a" stroke-width="1.0"/>
<line x1="476.75" y1="139.5" x2="476.75" y2="142.8" stroke="#2a2a2a" stroke-width="1.0"/>
<line x1="485.2" y1="139.5" x2="485.2" y2="141.8" stroke="#2a2a2a" stroke-width="1.0"/>
<line x1="491.2" y1="139.5" x2="491.2" y2="141.8" stroke="#2a2a2a" stroke-width="1.0"/>
<line x1="495.85" y1="139.5" x2="495.85" y2="142.8" stroke="#2a2a2a" stroke-width="1.0"/>
<line x1="499.65" y1="139.5" x2="499.65" y2="141.8" stroke="#2a2a2a" stroke-width="1.0"/>
<line x1="502.86" y1="139.5" x2="502.86" y2="141.8" stroke="#2a2a2a" stroke-width="1.0"/>
<line x1="505.65" y1="139.5" x2="505.65" y2="141.8" stroke="#2a2a2a" stroke-width="1.0"/>
<line x1="508.1" y1="139.5" x2="508.1" y2="141.8" stroke="#2a2a2a" stroke-width="1.0"/>
<line x1="510.3" y1="139.5" x2="510.3" y2="142.8" stroke="#2a2a2a" stroke-width="1.0"/>
<line x1="524.75" y1="139.5" x2="524.75" y2="141.8" stroke="#2a2a2a" stroke-width="1.0"/>
<line x1="533.2" y1="139.5" x2="533.2" y2="141.8" stroke="#2a2a2a" stroke-width="1.0"/>
<line x1="539.2" y1="139.5" x2="539.2" y2="141.8" stroke="#2a2a2a" stroke-width="1.0"/>
<line x1="543.85" y1="139.5" x2="543.85" y2="141.8" stroke="#2a2a2a" stroke-width="1.0"/>
<line x1="547.65" y1="139.5" x2="547.65" y2="141.8" stroke="#2a2a2a" stroke-width="1.0"/>
<line x1="550.86" y1="139.5" x2="550.86" y2="141.8" stroke="#2a2a2a" stroke-width="1.0"/>
<line x1="553.65" y1="139.5" x2="553.65" y2="141.8" stroke="#2a2a2a" stroke-width="1.0"/>
<line x1="556.1" y1="139.5" x2="556.1" y2="141.8" stroke="#2a2a2a" stroke-width="1.0"/>
<line x1="558.3" y1="139.5" x2="558.3" y2="142.8" stroke="#2a2a2a" stroke-width="1.0"/>
<line x1="572.75" y1="139.5" x2="572.75" y2="141.8" stroke="#2a2a2a" stroke-width="1.0"/>
<line x1="581.2" y1="139.5" x2="581.2" y2="141.8" stroke="#2a2a2a" stroke-width="1.0"/>
<line x1="587.2" y1="139.5" x2="587.2" y2="141.8" stroke="#2a2a2a" stroke-width="1.0"/>
<line x1="591.85" y1="139.5" x2="591.85" y2="141.8" stroke="#2a2a2a" stroke-width="1.0"/>
<line x1="595.65" y1="139.5" x2="595.65" y2="141.8" stroke="#2a2a2a" stroke-width="1.0"/>
<line x1="598.86" y1="139.5" x2="598.86" y2="141.8" stroke="#2a2a2a" stroke-width="1.0"/>
<line x1="601.65" y1="139.5" x2="601.65" y2="141.8" stroke="#2a2a2a" stroke-width="1.0"/>
<line x1="604.1" y1="139.5" x2="604.1" y2="141.8" stroke="#2a2a2a" stroke-width="1.0"/>
<line x1="606.3" y1="139.5" x2="606.3" y2="142.8" stroke="#2a2a2a" stroke-width="1.0"/>
<line x1="620.75" y1="139.5" x2="620.75" y2="141.8" stroke="#2a2a2a" stroke-width="1.0"/>
<line x1="629.2" y1="139.5" x2="629.2" y2="141.8" stroke="#2a2a2a" stroke-width="1.0"/>
<line x1="635.2" y1="139.5" x2="635.2" y2="141.8" stroke="#2a2a2a" stroke-width="1.0"/>
<line x1="639.85" y1="139.5" x2="639.85" y2="142.8" stroke="#2a2a2a" stroke-width="1.0"/>
<line x1="643.65" y1="139.5" x2="643.65" y2="141.8" stroke="#2a2a2a" stroke-width="1.0"/>
<line x1="646.86" y1="139.5" x2="646.86" y2="141.8" stroke="#2a2a2a" stroke-width="1.0"/>
<line x1="649.65" y1="139.5" x2="649.65" y2="141.8" stroke="#2a2a2a" stroke-width="1.0"/>
<line x1="255.2" y1="139.5" x2="255.2" y2="142.8" stroke="#2a2a2a" stroke-width="1.0"/>
<line x1="296.55" y1="139.5" x2="296.55" y2="142.8" stroke="#2a2a2a" stroke-width="1.0"/>
<line x1="354.84" y1="139.5" x2="354.84" y2="142.8" stroke="#2a2a2a" stroke-width="1.0"/>
<line x1="396.2" y1="139.5" x2="396.2" y2="142.8" stroke="#2a2a2a" stroke-width="1.0"/>
<line x1="428.27" y1="139.5" x2="428.27" y2="142.8" stroke="#2a2a2a" stroke-width="1.0"/>
<rect x="33.5" y="153.6" width="173.8" height="134.9" fill="none" stroke="#333" stroke-width="1"/>
<rect x="255.2" y="153.6" width="173.2" height="134.9" fill="none" stroke="#333" stroke-width="1"/>
<rect x="476.2" y="153.6" width="173.8" height="134.9" fill="none" stroke="#333" stroke-width="1"/>
<line x1="30.5" y1="288.5" x2="33.5" y2="288.5" stroke="#333" stroke-width="1.0"/>
<text x="29.5" y="292.2" text-anchor="end" style="font-family:'Liberation Serif',serif;font-size:10.8px" fill="#000" >0</text>
<line x1="30.5" y1="269.23" x2="33.5" y2="269.23" stroke="#333" stroke-width="1.0"/>
<text x="29.5" y="272.93" text-anchor="end" style="font-family:'Liberation Serif',serif;font-size:10.8px" fill="#000" >4</text>
<line x1="30.5" y1="249.96" x2="33.5" y2="249.96" stroke="#333" stroke-width="1.0"/>
<text x="29.5" y="253.66" text-anchor="end" style="font-family:'Liberation Serif',serif;font-size:10.8px" fill="#000" >8</text>
<line x1="30.5" y1="230.69" x2="33.5" y2="230.69" stroke="#333" stroke-width="1.0"/>
<text x="29.5" y="234.39" text-anchor="end" style="font-family:'Liberation Serif',serif;font-size:10.8px" fill="#000" >12</text>
<line x1="30.5" y1="211.41" x2="33.5" y2="211.41" stroke="#333" stroke-width="1.0"/>
<text x="29.5" y="215.11" text-anchor="end" style="font-family:'Liberation Serif',serif;font-size:10.8px" fill="#000" >16</text>
<line x1="30.5" y1="192.14" x2="33.5" y2="192.14" stroke="#333" stroke-width="1.0"/>
<text x="29.5" y="195.84" text-anchor="end" style="font-family:'Liberation Serif',serif;font-size:10.8px" fill="#000" >20</text>
<line x1="30.5" y1="172.87" x2="33.5" y2="172.87" stroke="#333" stroke-width="1.0"/>
<text x="29.5" y="176.57" text-anchor="end" style="font-family:'Liberation Serif',serif;font-size:10.8px" fill="#000" >24</text>
<line x1="30.5" y1="153.6" x2="33.5" y2="153.6" stroke="#333" stroke-width="1.0"/>
<text x="29.5" y="157.3" text-anchor="end" style="font-family:'Liberation Serif',serif;font-size:10.8px" fill="#000" >28</text>
<line x1="252.2" y1="282.37" x2="255.2" y2="282.37" stroke="#333" stroke-width="1.0"/>
<text x="250.6" y="286.07" text-anchor="end" style="font-family:'Liberation Serif',serif;font-size:10.8px" fill="#000" >24.0</text>
<line x1="252.2" y1="251.71" x2="255.2" y2="251.71" stroke="#333" stroke-width="1.0"/>
<text x="250.6" y="255.41" text-anchor="end" style="font-family:'Liberation Serif',serif;font-size:10.8px" fill="#000" >24.5</text>
<line x1="252.2" y1="221.05" x2="255.2" y2="221.05" stroke="#333" stroke-width="1.0"/>
<text x="250.6" y="224.75" text-anchor="end" style="font-family:'Liberation Serif',serif;font-size:10.8px" fill="#000" >25.0</text>
<line x1="252.2" y1="190.39" x2="255.2" y2="190.39" stroke="#333" stroke-width="1.0"/>
<text x="250.6" y="194.09" text-anchor="end" style="font-family:'Liberation Serif',serif;font-size:10.8px" fill="#000" >25.5</text>
<line x1="252.2" y1="159.73" x2="255.2" y2="159.73" stroke="#333" stroke-width="1.0"/>
<text x="250.6" y="163.43" text-anchor="end" style="font-family:'Liberation Serif',serif;font-size:10.8px" fill="#000" >26.0</text>
<line x1="473.2" y1="288.5" x2="476.2" y2="288.5" stroke="#333" stroke-width="1.0"/>
<text x="472.2" y="292.2" text-anchor="end" style="font-family:'Liberation Serif',serif;font-size:10.8px" fill="#000" >0</text>
<line x1="473.2" y1="261.52" x2="476.2" y2="261.52" stroke="#333" stroke-width="1.0"/>
<text x="472.2" y="265.22" text-anchor="end" style="font-family:'Liberation Serif',serif;font-size:10.8px" fill="#000" >2</text>
<line x1="473.2" y1="234.54" x2="476.2" y2="234.54" stroke="#333" stroke-width="1.0"/>
<text x="472.2" y="238.24" text-anchor="end" style="font-family:'Liberation Serif',serif;font-size:10.8px" fill="#000" >4</text>
<line x1="473.2" y1="207.56" x2="476.2" y2="207.56" stroke="#333" stroke-width="1.0"/>
<text x="472.2" y="211.26" text-anchor="end" style="font-family:'Liberation Serif',serif;font-size:10.8px" fill="#000" >6</text>
<line x1="473.2" y1="180.58" x2="476.2" y2="180.58" stroke="#333" stroke-width="1.0"/>
<text x="472.2" y="184.28" text-anchor="end" style="font-family:'Liberation Serif',serif;font-size:10.8px" fill="#000" >8</text>
<line x1="473.2" y1="153.6" x2="476.2" y2="153.6" stroke="#333" stroke-width="1.0"/>
<text x="472.2" y="157.3" text-anchor="end" style="font-family:'Liberation Serif',serif;font-size:10.8px" fill="#000" >10</text>
<line x1="33.95" y1="288.5" x2="33.95" y2="291.8" stroke="#2a2a2a" stroke-width="1.0"/>
<line x1="42.4" y1="288.5" x2="42.4" y2="290.8" stroke="#2a2a2a" stroke-width="1.0"/>
<line x1="48.4" y1="288.5" x2="48.4" y2="290.8" stroke="#2a2a2a" stroke-width="1.0"/>
<line x1="53.05" y1="288.5" x2="53.05" y2="291.8" stroke="#2a2a2a" stroke-width="1.0"/>
<line x1="56.85" y1="288.5" x2="56.85" y2="290.8" stroke="#2a2a2a" stroke-width="1.0"/>
<line x1="60.06" y1="288.5" x2="60.06" y2="290.8" stroke="#2a2a2a" stroke-width="1.0"/>
<line x1="62.85" y1="288.5" x2="62.85" y2="290.8" stroke="#2a2a2a" stroke-width="1.0"/>
<line x1="65.3" y1="288.5" x2="65.3" y2="290.8" stroke="#2a2a2a" stroke-width="1.0"/>
<line x1="67.5" y1="288.5" x2="67.5" y2="291.8" stroke="#2a2a2a" stroke-width="1.0"/>
<line x1="81.95" y1="288.5" x2="81.95" y2="290.8" stroke="#2a2a2a" stroke-width="1.0"/>
<line x1="90.4" y1="288.5" x2="90.4" y2="290.8" stroke="#2a2a2a" stroke-width="1.0"/>
<line x1="96.4" y1="288.5" x2="96.4" y2="290.8" stroke="#2a2a2a" stroke-width="1.0"/>
<line x1="101.05" y1="288.5" x2="101.05" y2="290.8" stroke="#2a2a2a" stroke-width="1.0"/>
<line x1="104.85" y1="288.5" x2="104.85" y2="290.8" stroke="#2a2a2a" stroke-width="1.0"/>
<line x1="108.06" y1="288.5" x2="108.06" y2="290.8" stroke="#2a2a2a" stroke-width="1.0"/>
<line x1="110.85" y1="288.5" x2="110.85" y2="290.8" stroke="#2a2a2a" stroke-width="1.0"/>
<line x1="113.3" y1="288.5" x2="113.3" y2="290.8" stroke="#2a2a2a" stroke-width="1.0"/>
<line x1="115.5" y1="288.5" x2="115.5" y2="291.8" stroke="#2a2a2a" stroke-width="1.0"/>
<line x1="129.95" y1="288.5" x2="129.95" y2="290.8" stroke="#2a2a2a" stroke-width="1.0"/>
<line x1="138.4" y1="288.5" x2="138.4" y2="290.8" stroke="#2a2a2a" stroke-width="1.0"/>
<line x1="144.4" y1="288.5" x2="144.4" y2="290.8" stroke="#2a2a2a" stroke-width="1.0"/>
<line x1="149.05" y1="288.5" x2="149.05" y2="290.8" stroke="#2a2a2a" stroke-width="1.0"/>
<line x1="152.85" y1="288.5" x2="152.85" y2="290.8" stroke="#2a2a2a" stroke-width="1.0"/>
<line x1="156.06" y1="288.5" x2="156.06" y2="290.8" stroke="#2a2a2a" stroke-width="1.0"/>
<line x1="158.85" y1="288.5" x2="158.85" y2="290.8" stroke="#2a2a2a" stroke-width="1.0"/>
<line x1="161.3" y1="288.5" x2="161.3" y2="290.8" stroke="#2a2a2a" stroke-width="1.0"/>
<line x1="163.5" y1="288.5" x2="163.5" y2="291.8" stroke="#2a2a2a" stroke-width="1.0"/>
<line x1="177.95" y1="288.5" x2="177.95" y2="290.8" stroke="#2a2a2a" stroke-width="1.0"/>
<line x1="186.4" y1="288.5" x2="186.4" y2="290.8" stroke="#2a2a2a" stroke-width="1.0"/>
<line x1="192.4" y1="288.5" x2="192.4" y2="290.8" stroke="#2a2a2a" stroke-width="1.0"/>
<line x1="197.05" y1="288.5" x2="197.05" y2="291.8" stroke="#2a2a2a" stroke-width="1.0"/>
<line x1="200.85" y1="288.5" x2="200.85" y2="290.8" stroke="#2a2a2a" stroke-width="1.0"/>
<line x1="204.06" y1="288.5" x2="204.06" y2="290.8" stroke="#2a2a2a" stroke-width="1.0"/>
<line x1="206.85" y1="288.5" x2="206.85" y2="290.8" stroke="#2a2a2a" stroke-width="1.0"/>
<line x1="476.75" y1="288.5" x2="476.75" y2="291.8" stroke="#2a2a2a" stroke-width="1.0"/>
<line x1="485.2" y1="288.5" x2="485.2" y2="290.8" stroke="#2a2a2a" stroke-width="1.0"/>
<line x1="491.2" y1="288.5" x2="491.2" y2="290.8" stroke="#2a2a2a" stroke-width="1.0"/>
<line x1="495.85" y1="288.5" x2="495.85" y2="291.8" stroke="#2a2a2a" stroke-width="1.0"/>
<line x1="499.65" y1="288.5" x2="499.65" y2="290.8" stroke="#2a2a2a" stroke-width="1.0"/>
<line x1="502.86" y1="288.5" x2="502.86" y2="290.8" stroke="#2a2a2a" stroke-width="1.0"/>
<line x1="505.65" y1="288.5" x2="505.65" y2="290.8" stroke="#2a2a2a" stroke-width="1.0"/>
<line x1="508.1" y1="288.5" x2="508.1" y2="290.8" stroke="#2a2a2a" stroke-width="1.0"/>
<line x1="510.3" y1="288.5" x2="510.3" y2="291.8" stroke="#2a2a2a" stroke-width="1.0"/>
<line x1="524.75" y1="288.5" x2="524.75" y2="290.8" stroke="#2a2a2a" stroke-width="1.0"/>
<line x1="533.2" y1="288.5" x2="533.2" y2="290.8" stroke="#2a2a2a" stroke-width="1.0"/>
<line x1="539.2" y1="288.5" x2="539.2" y2="290.8" stroke="#2a2a2a" stroke-width="1.0"/>
<line x1="543.85" y1="288.5" x2="543.85" y2="290.8" stroke="#2a2a2a" stroke-width="1.0"/>
<line x1="547.65" y1="288.5" x2="547.65" y2="290.8" stroke="#2a2a2a" stroke-width="1.0"/>
<line x1="550.86" y1="288.5" x2="550.86" y2="290.8" stroke="#2a2a2a" stroke-width="1.0"/>
<line x1="553.65" y1="288.5" x2="553.65" y2="290.8" stroke="#2a2a2a" stroke-width="1.0"/>
<line x1="556.1" y1="288.5" x2="556.1" y2="290.8" stroke="#2a2a2a" stroke-width="1.0"/>
<line x1="558.3" y1="288.5" x2="558.3" y2="291.8" stroke="#2a2a2a" stroke-width="1.0"/>
<line x1="572.75" y1="288.5" x2="572.75" y2="290.8" stroke="#2a2a2a" stroke-width="1.0"/>
<line x1="581.2" y1="288.5" x2="581.2" y2="290.8" stroke="#2a2a2a" stroke-width="1.0"/>
<line x1="587.2" y1="288.5" x2="587.2" y2="290.8" stroke="#2a2a2a" stroke-width="1.0"/>
<line x1="591.85" y1="288.5" x2="591.85" y2="290.8" stroke="#2a2a2a" stroke-width="1.0"/>
<line x1="595.65" y1="288.5" x2="595.65" y2="290.8" stroke="#2a2a2a" stroke-width="1.0"/>
<line x1="598.86" y1="288.5" x2="598.86" y2="290.8" stroke="#2a2a2a" stroke-width="1.0"/>
<line x1="601.65" y1="288.5" x2="601.65" y2="290.8" stroke="#2a2a2a" stroke-width="1.0"/>
<line x1="604.1" y1="288.5" x2="604.1" y2="290.8" stroke="#2a2a2a" stroke-width="1.0"/>
<line x1="606.3" y1="288.5" x2="606.3" y2="291.8" stroke="#2a2a2a" stroke-width="1.0"/>
<line x1="620.75" y1="288.5" x2="620.75" y2="290.8" stroke="#2a2a2a" stroke-width="1.0"/>
<line x1="629.2" y1="288.5" x2="629.2" y2="290.8" stroke="#2a2a2a" stroke-width="1.0"/>
<line x1="635.2" y1="288.5" x2="635.2" y2="290.8" stroke="#2a2a2a" stroke-width="1.0"/>
<line x1="639.85" y1="288.5" x2="639.85" y2="291.8" stroke="#2a2a2a" stroke-width="1.0"/>
<line x1="643.65" y1="288.5" x2="643.65" y2="290.8" stroke="#2a2a2a" stroke-width="1.0"/>
<line x1="646.86" y1="288.5" x2="646.86" y2="290.8" stroke="#2a2a2a" stroke-width="1.0"/>
<line x1="649.65" y1="288.5" x2="649.65" y2="290.8" stroke="#2a2a2a" stroke-width="1.0"/>
<line x1="255.2" y1="288.5" x2="255.2" y2="291.8" stroke="#2a2a2a" stroke-width="1.0"/>
<line x1="296.55" y1="288.5" x2="296.55" y2="291.8" stroke="#2a2a2a" stroke-width="1.0"/>
<line x1="354.84" y1="288.5" x2="354.84" y2="291.8" stroke="#2a2a2a" stroke-width="1.0"/>
<line x1="396.2" y1="288.5" x2="396.2" y2="291.8" stroke="#2a2a2a" stroke-width="1.0"/>
<line x1="428.27" y1="288.5" x2="428.27" y2="291.8" stroke="#2a2a2a" stroke-width="1.0"/>
<text x="33.95" y="302.2" text-anchor="middle" style="font-family:'Liberation Serif',serif;font-size:10.8px" fill="#000" >2</text>
<text x="53.05" y="302.2" text-anchor="middle" style="font-family:'Liberation Serif',serif;font-size:10.8px" fill="#000" >5</text>
<text x="67.5" y="302.2" text-anchor="middle" style="font-family:'Liberation Serif',serif;font-size:10.8px" fill="#000" >10</text>
<text x="115.5" y="302.2" text-anchor="middle" style="font-family:'Liberation Serif',serif;font-size:10.8px" fill="#000" >100</text>
<text x="163.5" y="302.2" text-anchor="middle" style="font-family:'Liberation Serif',serif;font-size:10.8px" fill="#000" >1000</text>
<text x="197.05" y="302.2" text-anchor="middle" style="font-family:'Liberation Serif',serif;font-size:10.8px" fill="#000" >5000</text>
<text x="476.75" y="302.2" text-anchor="middle" style="font-family:'Liberation Serif',serif;font-size:10.8px" fill="#000" >2</text>
<text x="495.85" y="302.2" text-anchor="middle" style="font-family:'Liberation Serif',serif;font-size:10.8px" fill="#000" >5</text>
<text x="510.3" y="302.2" text-anchor="middle" style="font-family:'Liberation Serif',serif;font-size:10.8px" fill="#000" >10</text>
<text x="558.3" y="302.2" text-anchor="middle" style="font-family:'Liberation Serif',serif;font-size:10.8px" fill="#000" >100</text>
<text x="606.3" y="302.2" text-anchor="middle" style="font-family:'Liberation Serif',serif;font-size:10.8px" fill="#000" >1000</text>
<text x="639.85" y="302.2" text-anchor="middle" style="font-family:'Liberation Serif',serif;font-size:10.8px" fill="#000" >5000</text>
<text x="255.2" y="302.2" text-anchor="middle" style="font-family:'Liberation Serif',serif;font-size:10.8px" fill="#000" >1500</text>
<text x="296.55" y="302.2" text-anchor="middle" style="font-family:'Liberation Serif',serif;font-size:10.8px" fill="#000" >2000</text>
<text x="354.84" y="302.2" text-anchor="middle" style="font-family:'Liberation Serif',serif;font-size:10.8px" fill="#000" >3000</text>
<text x="396.2" y="302.2" text-anchor="middle" style="font-family:'Liberation Serif',serif;font-size:10.8px" fill="#000" >4000</text>
<text x="428.27" y="302.2" text-anchor="middle" style="font-family:'Liberation Serif',serif;font-size:10.8px" fill="#000" >5000</text>
<g transform="translate(11,0) rotate(-90)"><text x="-92.4" y="0" text-anchor="middle" style="font-family:'Liberation Serif',serif;font-size:15.0px;font-style:italic" fill="#111" stroke="#111" stroke-width="0.18">u</text><text x="-86.4" y="-5.5" text-anchor="middle" style="font-family:'Liberation Serif',serif;font-size:10px" fill="#111" stroke="#111" stroke-width="0.18">+</text><text x="-71.6" y="0" text-anchor="middle" style="font-family:'Liberation Serif',serif;font-size:15.0px" fill="#111" stroke="#111" stroke-width="0.18">=</text><text x="-59.7" y="0" text-anchor="middle" style="font-family:'Liberation Serif',serif;font-size:15.0px;font-style:italic" fill="#111" stroke="#111" stroke-width="0.18">u</text><text x="-51.6" y="0" text-anchor="middle" style="font-family:'Liberation Serif',serif;font-size:14px;font-style:italic" fill="#111" stroke="#111" stroke-width="0.18">/</text><text x="-42" y="0" text-anchor="middle" style="font-family:'Liberation Serif',serif;font-size:15.0px;font-style:italic" fill="#111" stroke="#111" stroke-width="0.18">u</text><text x="-34.6" y="1.6" text-anchor="middle" style="font-family:'Liberation Serif',serif;font-size:11px;font-style:italic" fill="#111" stroke="#111" stroke-width="0.18">τ</text><line x1="-89" y1="-8.6" x2="-96.4" y2="-8.6" stroke="#1a1a1a" stroke-width="0.9"/><line x1="-55.8" y1="-8.6" x2="-63.4" y2="-8.6" stroke="#1a1a1a" stroke-width="0.9"/></g>
<g transform="translate(224.3,0) rotate(-90)"><text x="-92.4" y="0" text-anchor="middle" style="font-family:'Liberation Serif',serif;font-size:15.0px;font-style:italic" fill="#111" stroke="#111" stroke-width="0.18">u</text><text x="-86.4" y="-5.5" text-anchor="middle" style="font-family:'Liberation Serif',serif;font-size:10px" fill="#111" stroke="#111" stroke-width="0.18">+</text><text x="-71.6" y="0" text-anchor="middle" style="font-family:'Liberation Serif',serif;font-size:15.0px" fill="#111" stroke="#111" stroke-width="0.18">=</text><text x="-59.7" y="0" text-anchor="middle" style="font-family:'Liberation Serif',serif;font-size:15.0px;font-style:italic" fill="#111" stroke="#111" stroke-width="0.18">u</text><text x="-51.6" y="0" text-anchor="middle" style="font-family:'Liberation Serif',serif;font-size:14px;font-style:italic" fill="#111" stroke="#111" stroke-width="0.18">/</text><text x="-42" y="0" text-anchor="middle" style="font-family:'Liberation Serif',serif;font-size:15.0px;font-style:italic" fill="#111" stroke="#111" stroke-width="0.18">u</text><text x="-34.6" y="1.6" text-anchor="middle" style="font-family:'Liberation Serif',serif;font-size:11px;font-style:italic" fill="#111" stroke="#111" stroke-width="0.18">τ</text><line x1="-89" y1="-8.6" x2="-96.4" y2="-8.6" stroke="#1a1a1a" stroke-width="0.9"/><line x1="-55.8" y1="-8.6" x2="-63.4" y2="-8.6" stroke="#1a1a1a" stroke-width="0.9"/></g>
<g transform="translate(452.4,0) rotate(-90)"><text x="-118.2" y="0" text-anchor="middle" style="font-family:'Liberation Serif',serif;font-size:15.0px" fill="#111" stroke="#111" stroke-width="0.18">(</text><text x="-104.2" y="0" text-anchor="middle" style="font-family:'Liberation Serif',serif;font-size:15.0px;font-style:italic" fill="#111" stroke="#111" stroke-width="0.18">u′u′</text><text x="-91.9" y="0" text-anchor="middle" style="font-family:'Liberation Serif',serif;font-size:15.0px" fill="#111" stroke="#111" stroke-width="0.18">)</text><text x="-84" y="-6.5" text-anchor="middle" style="font-family:'Liberation Serif',serif;font-size:10px" fill="#111" stroke="#111" stroke-width="0.18">+</text><text x="-71.5" y="0" text-anchor="middle" style="font-family:'Liberation Serif',serif;font-size:15.0px" fill="#111" stroke="#111" stroke-width="0.18">=</text><text x="-55.2" y="0" text-anchor="middle" style="font-family:'Liberation Serif',serif;font-size:15.0px;font-style:italic" fill="#111" stroke="#111" stroke-width="0.18">u′u′</text><text x="-41.2" y="0" text-anchor="middle" style="font-family:'Liberation Serif',serif;font-size:15.0px;font-style:italic" fill="#111" stroke="#111" stroke-width="0.18">/</text><text x="-33" y="0" text-anchor="middle" style="font-family:'Liberation Serif',serif;font-size:15.0px;font-style:italic" fill="#111" stroke="#111" stroke-width="0.18">u</text><text x="-25.8" y="2.4" text-anchor="middle" style="font-family:'Liberation Serif',serif;font-size:11px;font-style:italic" fill="#111" stroke="#111" stroke-width="0.18">τ</text><text x="-26" y="-6.8" text-anchor="middle" style="font-family:'Liberation Serif',serif;font-size:10px" fill="#111" stroke="#111" stroke-width="0.18">2</text><line x1="-94" y1="-10.5" x2="-114.6" y2="-10.5" stroke="#1a1a1a" stroke-width="0.9"/><line x1="-44.8" y1="-10.5" x2="-65.6" y2="-10.5" stroke="#1a1a1a" stroke-width="0.9"/></g>
<g transform="translate(11,0) rotate(-90)"><text x="-241.5" y="0" text-anchor="middle" style="font-family:'Liberation Serif',serif;font-size:15.0px;font-style:italic" fill="#111" stroke="#111" stroke-width="0.18">u</text><text x="-235.5" y="-5.5" text-anchor="middle" style="font-family:'Liberation Serif',serif;font-size:10px" fill="#111" stroke="#111" stroke-width="0.18">+</text><text x="-220.7" y="0" text-anchor="middle" style="font-family:'Liberation Serif',serif;font-size:15.0px" fill="#111" stroke="#111" stroke-width="0.18">=</text><text x="-208.8" y="0" text-anchor="middle" style="font-family:'Liberation Serif',serif;font-size:15.0px;font-style:italic" fill="#111" stroke="#111" stroke-width="0.18">u</text><text x="-200.7" y="0" text-anchor="middle" style="font-family:'Liberation Serif',serif;font-size:14px;font-style:italic" fill="#111" stroke="#111" stroke-width="0.18">/</text><text x="-191.1" y="0" text-anchor="middle" style="font-family:'Liberation Serif',serif;font-size:15.0px;font-style:italic" fill="#111" stroke="#111" stroke-width="0.18">u</text><text x="-183.7" y="1.6" text-anchor="middle" style="font-family:'Liberation Serif',serif;font-size:11px;font-style:italic" fill="#111" stroke="#111" stroke-width="0.18">τ</text><line x1="-238.1" y1="-8.6" x2="-245.5" y2="-8.6" stroke="#1a1a1a" stroke-width="0.9"/><line x1="-204.9" y1="-8.6" x2="-212.5" y2="-8.6" stroke="#1a1a1a" stroke-width="0.9"/></g>
<g transform="translate(224.3,0) rotate(-90)"><text x="-241.5" y="0" text-anchor="middle" style="font-family:'Liberation Serif',serif;font-size:15.0px;font-style:italic" fill="#111" stroke="#111" stroke-width="0.18">u</text><text x="-235.5" y="-5.5" text-anchor="middle" style="font-family:'Liberation Serif',serif;font-size:10px" fill="#111" stroke="#111" stroke-width="0.18">+</text><text x="-220.7" y="0" text-anchor="middle" style="font-family:'Liberation Serif',serif;font-size:15.0px" fill="#111" stroke="#111" stroke-width="0.18">=</text><text x="-208.8" y="0" text-anchor="middle" style="font-family:'Liberation Serif',serif;font-size:15.0px;font-style:italic" fill="#111" stroke="#111" stroke-width="0.18">u</text><text x="-200.7" y="0" text-anchor="middle" style="font-family:'Liberation Serif',serif;font-size:14px;font-style:italic" fill="#111" stroke="#111" stroke-width="0.18">/</text><text x="-191.1" y="0" text-anchor="middle" style="font-family:'Liberation Serif',serif;font-size:15.0px;font-style:italic" fill="#111" stroke="#111" stroke-width="0.18">u</text><text x="-183.7" y="1.6" text-anchor="middle" style="font-family:'Liberation Serif',serif;font-size:11px;font-style:italic" fill="#111" stroke="#111" stroke-width="0.18">τ</text><line x1="-238.1" y1="-8.6" x2="-245.5" y2="-8.6" stroke="#1a1a1a" stroke-width="0.9"/><line x1="-204.9" y1="-8.6" x2="-212.5" y2="-8.6" stroke="#1a1a1a" stroke-width="0.9"/></g>
<g transform="translate(452.4,0) rotate(-90)"><text x="-267.3" y="0" text-anchor="middle" style="font-family:'Liberation Serif',serif;font-size:15.0px" fill="#111" stroke="#111" stroke-width="0.18">(</text><text x="-253.3" y="0" text-anchor="middle" style="font-family:'Liberation Serif',serif;font-size:15.0px;font-style:italic" fill="#111" stroke="#111" stroke-width="0.18">u′u′</text><text x="-241" y="0" text-anchor="middle" style="font-family:'Liberation Serif',serif;font-size:15.0px" fill="#111" stroke="#111" stroke-width="0.18">)</text><text x="-233.1" y="-6.5" text-anchor="middle" style="font-family:'Liberation Serif',serif;font-size:10px" fill="#111" stroke="#111" stroke-width="0.18">+</text><text x="-220.6" y="0" text-anchor="middle" style="font-family:'Liberation Serif',serif;font-size:15.0px" fill="#111" stroke="#111" stroke-width="0.18">=</text><text x="-204.3" y="0" text-anchor="middle" style="font-family:'Liberation Serif',serif;font-size:15.0px;font-style:italic" fill="#111" stroke="#111" stroke-width="0.18">u′u′</text><text x="-190.3" y="0" text-anchor="middle" style="font-family:'Liberation Serif',serif;font-size:15.0px;font-style:italic" fill="#111" stroke="#111" stroke-width="0.18">/</text><text x="-182.1" y="0" text-anchor="middle" style="font-family:'Liberation Serif',serif;font-size:15.0px;font-style:italic" fill="#111" stroke="#111" stroke-width="0.18">u</text><text x="-174.9" y="2.4" text-anchor="middle" style="font-family:'Liberation Serif',serif;font-size:11px;font-style:italic" fill="#111" stroke="#111" stroke-width="0.18">τ</text><text x="-175.1" y="-6.8" text-anchor="middle" style="font-family:'Liberation Serif',serif;font-size:10px" fill="#111" stroke="#111" stroke-width="0.18">2</text><line x1="-243.1" y1="-10.5" x2="-263.7" y2="-10.5" stroke="#1a1a1a" stroke-width="0.9"/><line x1="-193.9" y1="-10.5" x2="-214.7" y2="-10.5" stroke="#1a1a1a" stroke-width="0.9"/></g>
<text x="93.2" y="313.4" text-anchor="middle" style="font-family:'Liberation Serif',serif;font-size:13px;font-style:italic" fill="#111" stroke="#111" stroke-width="0.18">y</text><text x="98.9" y="308.6" text-anchor="middle" style="font-family:'Liberation Serif',serif;font-size:9.5px" fill="#111" stroke="#111" stroke-width="0.18">+</text><text x="107.1" y="313.4" text-anchor="middle" style="font-family:'Liberation Serif',serif;font-size:13px" fill="#111" stroke="#111" stroke-width="0.18">=</text><text x="114.5" y="313.4" text-anchor="middle" style="font-family:'Liberation Serif',serif;font-size:13px;font-style:italic" fill="#111" stroke="#111" stroke-width="0.18">y</text><text x="120.8" y="313.4" text-anchor="middle" style="font-family:'Liberation Serif',serif;font-size:13px;font-style:italic" fill="#111" stroke="#111" stroke-width="0.18">u</text><text x="126.3" y="313.8" text-anchor="middle" style="font-family:'Liberation Serif',serif;font-size:9.5px;font-style:italic" fill="#111" stroke="#111" stroke-width="0.18">τ</text><text x="133" y="314.2" text-anchor="middle" style="font-family:'Liberation Serif',serif;font-size:14px" fill="#111" stroke="#111" stroke-width="0.18">/</text><text x="138.9" y="313.4" text-anchor="middle" style="font-family:'Liberation Serif',serif;font-size:13px;font-style:italic" fill="#111" stroke="#111" stroke-width="0.18">ν</text><text x="146.3" y="315.2" text-anchor="middle" style="font-family:'Liberation Serif',serif;font-size:11px" fill="#111" stroke="#111" stroke-width="0.18">∞</text>
<text x="315.3" y="313.4" text-anchor="middle" style="font-family:'Liberation Serif',serif;font-size:13px;font-style:italic" fill="#111" stroke="#111" stroke-width="0.18">y</text><text x="321" y="308.6" text-anchor="middle" style="font-family:'Liberation Serif',serif;font-size:9.5px" fill="#111" stroke="#111" stroke-width="0.18">+</text><text x="329.2" y="313.4" text-anchor="middle" style="font-family:'Liberation Serif',serif;font-size:13px" fill="#111" stroke="#111" stroke-width="0.18">=</text><text x="336.6" y="313.4" text-anchor="middle" style="font-family:'Liberation Serif',serif;font-size:13px;font-style:italic" fill="#111" stroke="#111" stroke-width="0.18">y</text><text x="342.9" y="313.4" text-anchor="middle" style="font-family:'Liberation Serif',serif;font-size:13px;font-style:italic" fill="#111" stroke="#111" stroke-width="0.18">u</text><text x="348.4" y="313.8" text-anchor="middle" style="font-family:'Liberation Serif',serif;font-size:9.5px;font-style:italic" fill="#111" stroke="#111" stroke-width="0.18">τ</text><text x="355.1" y="314.2" text-anchor="middle" style="font-family:'Liberation Serif',serif;font-size:14px" fill="#111" stroke="#111" stroke-width="0.18">/</text><text x="361" y="313.4" text-anchor="middle" style="font-family:'Liberation Serif',serif;font-size:13px;font-style:italic" fill="#111" stroke="#111" stroke-width="0.18">ν</text><text x="368.4" y="315.2" text-anchor="middle" style="font-family:'Liberation Serif',serif;font-size:11px" fill="#111" stroke="#111" stroke-width="0.18">∞</text>
<text x="535.9" y="313.4" text-anchor="middle" style="font-family:'Liberation Serif',serif;font-size:13px;font-style:italic" fill="#111" stroke="#111" stroke-width="0.18">y</text><text x="541.6" y="308.6" text-anchor="middle" style="font-family:'Liberation Serif',serif;font-size:9.5px" fill="#111" stroke="#111" stroke-width="0.18">+</text><text x="549.8" y="313.4" text-anchor="middle" style="font-family:'Liberation Serif',serif;font-size:13px" fill="#111" stroke="#111" stroke-width="0.18">=</text><text x="557.2" y="313.4" text-anchor="middle" style="font-family:'Liberation Serif',serif;font-size:13px;font-style:italic" fill="#111" stroke="#111" stroke-width="0.18">y</text><text x="563.5" y="313.4" text-anchor="middle" style="font-family:'Liberation Serif',serif;font-size:13px;font-style:italic" fill="#111" stroke="#111" stroke-width="0.18">u</text><text x="569" y="313.8" text-anchor="middle" style="font-family:'Liberation Serif',serif;font-size:9.5px;font-style:italic" fill="#111" stroke="#111" stroke-width="0.18">τ</text><text x="575.7" y="314.2" text-anchor="middle" style="font-family:'Liberation Serif',serif;font-size:14px" fill="#111" stroke="#111" stroke-width="0.18">/</text><text x="581.6" y="313.4" text-anchor="middle" style="font-family:'Liberation Serif',serif;font-size:13px;font-style:italic" fill="#111" stroke="#111" stroke-width="0.18">ν</text><text x="589" y="315.2" text-anchor="middle" style="font-family:'Liberation Serif',serif;font-size:11px" fill="#111" stroke="#111" stroke-width="0.18">∞</text>
<text transform="translate(668.2,133.2) rotate(-90)" text-anchor="start" style="font-family:'Liberation Serif',serif;font-size:14px" fill="#222"><tspan style="font-family:'Liberation Sans',sans-serif;font-weight:bold">a.</tspan> Variation in stream-</text>
<text transform="translate(681.5,134.79999999999998) rotate(-90)" text-anchor="start" style="font-family:'Liberation Serif',serif;font-size:14px" fill="#222">wise (<tspan style="font-style:italic">x</tspan>) direction</text>
<text transform="translate(668.2,275.0) rotate(-90)" text-anchor="start" style="font-family:'Liberation Serif',serif;font-size:14px" fill="#222"><tspan style="font-family:'Liberation Sans',sans-serif;font-weight:bold">b.</tspan> Variation in span-</text>
<text transform="translate(681.5,278.4) rotate(-90)" text-anchor="start" style="font-family:'Liberation Serif',serif;font-size:14px" fill="#222">wise (<tspan style="font-style:italic">z</tspan>) direction</text>
</g></svg></body></html>
